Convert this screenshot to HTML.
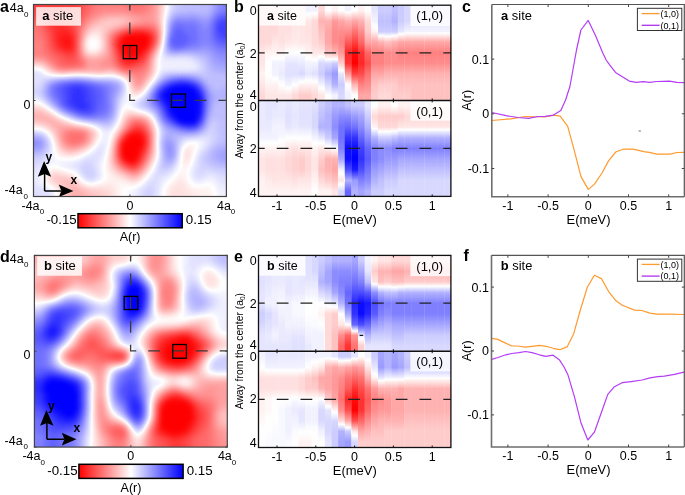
<!DOCTYPE html><html><head><meta charset="utf-8"><style>html,body{margin:0;padding:0;background:#fff;width:685px;height:495px;overflow:hidden}svg{display:block;will-change:transform;font-family:"Liberation Sans",sans-serif}</style></head><body>
<svg width="685" height="495" viewBox="0 0 685 495" >
<defs>
<filter id="cm0" color-interpolation-filters="sRGB" x="-0.2" y="-0.2" width="1.4" height="1.4"><feComponentTransfer><feFuncR type="table" tableValues="1 1 0"/><feFuncG type="table" tableValues="0 1 0"/><feFuncB type="table" tableValues="0 1 1"/></feComponentTransfer></filter>
<filter id="cmA" color-interpolation-filters="sRGB" x="-0.2" y="-0.2" width="1.4" height="1.4"><feGaussianBlur stdDeviation="2.5"/><feComponentTransfer><feFuncR type="table" tableValues="1 1 0"/><feFuncG type="table" tableValues="0 1 0"/><feFuncB type="table" tableValues="0 1 1"/></feComponentTransfer></filter>
<filter id="cmD" color-interpolation-filters="sRGB" x="-0.2" y="-0.2" width="1.4" height="1.4"><feGaussianBlur stdDeviation="2.5"/><feComponentTransfer><feFuncR type="table" tableValues="1 1 0"/><feFuncG type="table" tableValues="0 1 0"/><feFuncB type="table" tableValues="0 1 1"/></feComponentTransfer></filter>
<linearGradient id="cbar"><stop offset="0" stop-color="#000"/><stop offset="1" stop-color="#fff"/></linearGradient>
</defs>
<rect width="685" height="495" fill="#fff"/>
<clipPath id="clipA"><rect x="33.5" y="4.5" width="192.9" height="192.0"/></clipPath>
<g clip-path="url(#clipA)"><g filter="url(#cmA)">
<g transform="translate(23.855,-5.100) scale(4.8225,4.8000)">
<rect x="0" y="0" width="44" height="44" fill="#7d7d7d"/>
<path fill="#000000" d="M21 8h1.05v1.05h-1.05zM22 8h1.05v1.05h-1.05zM23 8h1.05v1.05h-1.05zM24 8h1.05v1.05h-1.05zM25 8h1.05v1.05h-1.05zM20 9h1.05v1.05h-1.05zM21 9h1.05v1.05h-1.05zM22 9h1.05v1.05h-1.05zM23 9h1.05v1.05h-1.05zM24 9h1.05v1.05h-1.05zM25 9h1.05v1.05h-1.05zM20 10h1.05v1.05h-1.05zM21 10h1.05v1.05h-1.05zM22 10h1.05v1.05h-1.05zM23 10h1.05v1.05h-1.05zM24 10h1.05v1.05h-1.05zM25 10h1.05v1.05h-1.05zM20 11h1.05v1.05h-1.05zM21 11h1.05v1.05h-1.05zM22 11h1.05v1.05h-1.05zM23 11h1.05v1.05h-1.05zM24 11h1.05v1.05h-1.05zM21 12h1.05v1.05h-1.05zM22 12h1.05v1.05h-1.05zM23 12h1.05v1.05h-1.05zM22 29h1.05v1.05h-1.05zM23 29h1.05v1.05h-1.05zM21 30h1.05v1.05h-1.05zM22 30h1.05v1.05h-1.05zM23 30h1.05v1.05h-1.05zM24 30h1.05v1.05h-1.05zM20 31h1.05v1.05h-1.05zM21 31h1.05v1.05h-1.05zM22 31h1.05v1.05h-1.05zM23 31h1.05v1.05h-1.05zM24 31h1.05v1.05h-1.05zM20 32h1.05v1.05h-1.05zM21 32h1.05v1.05h-1.05zM22 32h1.05v1.05h-1.05zM23 32h1.05v1.05h-1.05zM20 33h1.05v1.05h-1.05zM21 33h1.05v1.05h-1.05zM22 33h1.05v1.05h-1.05zM23 33h1.05v1.05h-1.05zM21 34h1.05v1.05h-1.05zM22 34h1.05v1.05h-1.05z"/>
<path fill="#020202" d="M24 29h1.05v1.05h-1.05z"/>
<path fill="#040404" d="M20 12h1.05v1.05h-1.05z"/>
<path fill="#060606" d="M21 29h1.05v1.05h-1.05zM20 30h1.05v1.05h-1.05zM24 32h1.05v1.05h-1.05z"/>
<path fill="#080808" d="M8 8h1.05v1.05h-1.05zM8 9h1.05v1.05h-1.05zM9 9h1.05v1.05h-1.05zM8 10h1.05v1.05h-1.05zM9 10h1.05v1.05h-1.05zM24 12h1.05v1.05h-1.05zM21 13h1.05v1.05h-1.05zM22 13h1.05v1.05h-1.05zM23 34h1.05v1.05h-1.05z"/>
<path fill="#0a0a0a" d="M9 8h1.05v1.05h-1.05zM7 9h1.05v1.05h-1.05zM23 28h1.05v1.05h-1.05z"/>
<path fill="#0c0c0c" d="M8 7h1.05v1.05h-1.05zM7 8h1.05v1.05h-1.05zM20 8h1.05v1.05h-1.05zM25 11h1.05v1.05h-1.05z"/>
<path fill="#0e0e0e" d="M7 7h1.05v1.05h-1.05zM7 10h1.05v1.05h-1.05zM19 10h1.05v1.05h-1.05zM9 11h1.05v1.05h-1.05zM23 13h1.05v1.05h-1.05z"/>
<path fill="#101010" d="M26 9h1.05v1.05h-1.05zM8 11h1.05v1.05h-1.05zM20 13h1.05v1.05h-1.05zM24 28h1.05v1.05h-1.05z"/>
<path fill="#121212" d="M7 6h1.05v1.05h-1.05zM9 7h1.05v1.05h-1.05zM23 7h1.05v1.05h-1.05zM24 7h1.05v1.05h-1.05zM26 8h1.05v1.05h-1.05zM19 9h1.05v1.05h-1.05zM22 28h1.05v1.05h-1.05zM20 34h1.05v1.05h-1.05z"/>
<path fill="#141414" d="M6 6h1.05v1.05h-1.05zM8 6h1.05v1.05h-1.05zM19 11h1.05v1.05h-1.05zM24 33h1.05v1.05h-1.05zM22 35h1.05v1.05h-1.05z"/>
<path fill="#161616" d="M6 7h1.05v1.05h-1.05zM6 8h1.05v1.05h-1.05zM25 30h1.05v1.05h-1.05z"/>
<path fill="#181818" d="M6 5h1.05v1.05h-1.05zM7 5h1.05v1.05h-1.05zM22 7h1.05v1.05h-1.05zM25 7h1.05v1.05h-1.05zM6 9h1.05v1.05h-1.05zM10 9h1.05v1.05h-1.05zM10 10h1.05v1.05h-1.05zM7 11h1.05v1.05h-1.05zM24 13h1.05v1.05h-1.05zM21 14h1.05v1.05h-1.05z"/>
<path fill="#1a1a1a" d="M6 4h1.05v1.05h-1.05zM5 5h1.05v1.05h-1.05zM8 5h1.05v1.05h-1.05zM9 6h1.05v1.05h-1.05zM10 8h1.05v1.05h-1.05zM26 10h1.05v1.05h-1.05zM9 12h1.05v1.05h-1.05zM25 29h1.05v1.05h-1.05zM25 31h1.05v1.05h-1.05z"/>
<path fill="#1c1c1c" d="M5 4h1.05v1.05h-1.05zM7 4h1.05v1.05h-1.05zM5 6h1.05v1.05h-1.05zM6 10h1.05v1.05h-1.05zM10 11h1.05v1.05h-1.05zM19 12h1.05v1.05h-1.05zM25 12h1.05v1.05h-1.05zM20 14h1.05v1.05h-1.05zM22 14h1.05v1.05h-1.05zM23 27h1.05v1.05h-1.05zM21 35h1.05v1.05h-1.05z"/>
<path fill="#1e1e1e" d="M9 0h1.05v1.05h-1.05zM0 1h1.05v1.05h-1.05zM1 1h1.05v1.05h-1.05zM2 1h1.05v1.05h-1.05zM9 1h1.05v1.05h-1.05zM10 1h1.05v1.05h-1.05zM0 2h1.05v1.05h-1.05zM1 2h1.05v1.05h-1.05zM2 2h1.05v1.05h-1.05zM3 2h1.05v1.05h-1.05zM9 2h1.05v1.05h-1.05zM10 2h1.05v1.05h-1.05zM9 3h1.05v1.05h-1.05zM8 4h1.05v1.05h-1.05zM9 5h1.05v1.05h-1.05zM10 7h1.05v1.05h-1.05zM8 12h1.05v1.05h-1.05zM23 35h1.05v1.05h-1.05z"/>
<path fill="#202020" d="M0 0h1.05v1.05h-1.05zM1 0h1.05v1.05h-1.05zM2 0h1.05v1.05h-1.05zM3 0h1.05v1.05h-1.05zM4 0h1.05v1.05h-1.05zM5 0h1.05v1.05h-1.05zM6 0h1.05v1.05h-1.05zM7 0h1.05v1.05h-1.05zM8 0h1.05v1.05h-1.05zM10 0h1.05v1.05h-1.05zM3 1h1.05v1.05h-1.05zM4 1h1.05v1.05h-1.05zM5 1h1.05v1.05h-1.05zM6 1h1.05v1.05h-1.05zM7 1h1.05v1.05h-1.05zM8 1h1.05v1.05h-1.05zM4 2h1.05v1.05h-1.05zM5 2h1.05v1.05h-1.05zM6 2h1.05v1.05h-1.05zM7 2h1.05v1.05h-1.05zM8 2h1.05v1.05h-1.05zM0 3h1.05v1.05h-1.05zM3 3h1.05v1.05h-1.05zM4 3h1.05v1.05h-1.05zM5 3h1.05v1.05h-1.05zM6 3h1.05v1.05h-1.05zM7 3h1.05v1.05h-1.05zM8 3h1.05v1.05h-1.05zM10 3h1.05v1.05h-1.05zM9 4h1.05v1.05h-1.05zM5 7h1.05v1.05h-1.05zM19 8h1.05v1.05h-1.05zM24 27h1.05v1.05h-1.05z"/>
<path fill="#222222" d="M11 1h1.05v1.05h-1.05zM11 2h1.05v1.05h-1.05zM1 3h1.05v1.05h-1.05zM2 3h1.05v1.05h-1.05zM4 4h1.05v1.05h-1.05zM21 7h1.05v1.05h-1.05zM6 11h1.05v1.05h-1.05zM10 12h1.05v1.05h-1.05zM19 32h1.05v1.05h-1.05zM24 34h1.05v1.05h-1.05z"/>
<path fill="#242424" d="M11 0h1.05v1.05h-1.05zM11 3h1.05v1.05h-1.05zM10 4h1.05v1.05h-1.05zM4 5h1.05v1.05h-1.05zM10 6h1.05v1.05h-1.05zM26 7h1.05v1.05h-1.05zM5 8h1.05v1.05h-1.05zM7 12h1.05v1.05h-1.05zM19 13h1.05v1.05h-1.05zM23 14h1.05v1.05h-1.05zM21 28h1.05v1.05h-1.05zM20 29h1.05v1.05h-1.05zM25 32h1.05v1.05h-1.05z"/>
<path fill="#262626" d="M3 4h1.05v1.05h-1.05zM10 5h1.05v1.05h-1.05zM4 6h1.05v1.05h-1.05zM22 27h1.05v1.05h-1.05zM25 28h1.05v1.05h-1.05zM19 33h1.05v1.05h-1.05z"/>
<path fill="#282828" d="M12 1h1.05v1.05h-1.05zM12 2h1.05v1.05h-1.05zM0 4h1.05v1.05h-1.05zM1 4h1.05v1.05h-1.05zM2 4h1.05v1.05h-1.05zM5 9h1.05v1.05h-1.05zM8 13h1.05v1.05h-1.05zM9 13h1.05v1.05h-1.05zM10 13h1.05v1.05h-1.05zM19 31h1.05v1.05h-1.05z"/>
<path fill="#2a2a2a" d="M12 0h1.05v1.05h-1.05zM11 4h1.05v1.05h-1.05zM4 7h1.05v1.05h-1.05zM5 10h1.05v1.05h-1.05zM24 14h1.05v1.05h-1.05z"/>
<path fill="#2c2c2c" d="M12 3h1.05v1.05h-1.05zM3 5h1.05v1.05h-1.05zM26 11h1.05v1.05h-1.05zM6 12h1.05v1.05h-1.05zM25 13h1.05v1.05h-1.05zM9 14h1.05v1.05h-1.05z"/>
<path fill="#2e2e2e" d="M0 5h1.05v1.05h-1.05zM20 7h1.05v1.05h-1.05zM18 9h1.05v1.05h-1.05zM18 10h1.05v1.05h-1.05zM5 11h1.05v1.05h-1.05zM7 13h1.05v1.05h-1.05zM8 14h1.05v1.05h-1.05zM19 14h1.05v1.05h-1.05zM21 15h1.05v1.05h-1.05zM20 35h1.05v1.05h-1.05z"/>
<path fill="#303030" d="M13 1h1.05v1.05h-1.05zM13 2h1.05v1.05h-1.05zM1 5h1.05v1.05h-1.05zM2 5h1.05v1.05h-1.05zM11 5h1.05v1.05h-1.05zM4 8h1.05v1.05h-1.05zM27 8h1.05v1.05h-1.05zM10 14h1.05v1.05h-1.05z"/>
<path fill="#323232" d="M13 0h1.05v1.05h-1.05zM12 4h1.05v1.05h-1.05zM0 6h1.05v1.05h-1.05zM3 6h1.05v1.05h-1.05zM11 6h1.05v1.05h-1.05zM27 9h1.05v1.05h-1.05zM11 13h1.05v1.05h-1.05zM7 14h1.05v1.05h-1.05zM20 15h1.05v1.05h-1.05zM22 15h1.05v1.05h-1.05zM23 26h1.05v1.05h-1.05zM25 33h1.05v1.05h-1.05zM22 36h1.05v1.05h-1.05z"/>
<path fill="#343434" d="M13 3h1.05v1.05h-1.05zM1 6h1.05v1.05h-1.05zM3 7h1.05v1.05h-1.05zM11 7h1.05v1.05h-1.05zM4 9h1.05v1.05h-1.05zM18 11h1.05v1.05h-1.05zM5 12h1.05v1.05h-1.05zM6 13h1.05v1.05h-1.05zM11 14h1.05v1.05h-1.05zM25 27h1.05v1.05h-1.05zM19 34h1.05v1.05h-1.05z"/>
<path fill="#363636" d="M2 6h1.05v1.05h-1.05zM0 7h1.05v1.05h-1.05zM1 7h1.05v1.05h-1.05zM11 8h1.05v1.05h-1.05zM18 8h1.05v1.05h-1.05zM4 10h1.05v1.05h-1.05zM11 12h1.05v1.05h-1.05zM23 15h1.05v1.05h-1.05zM24 26h1.05v1.05h-1.05zM19 30h1.05v1.05h-1.05zM24 35h1.05v1.05h-1.05zM23 36h1.05v1.05h-1.05z"/>
<path fill="#383838" d="M23 0h1.05v1.05h-1.05zM14 1h1.05v1.05h-1.05zM22 1h1.05v1.05h-1.05zM23 1h1.05v1.05h-1.05zM24 1h1.05v1.05h-1.05zM14 2h1.05v1.05h-1.05zM21 2h1.05v1.05h-1.05zM22 2h1.05v1.05h-1.05zM23 2h1.05v1.05h-1.05zM24 2h1.05v1.05h-1.05zM24 6h1.05v1.05h-1.05zM25 6h1.05v1.05h-1.05zM2 7h1.05v1.05h-1.05zM27 7h1.05v1.05h-1.05zM0 8h1.05v1.05h-1.05zM3 8h1.05v1.05h-1.05zM4 11h1.05v1.05h-1.05zM18 12h1.05v1.05h-1.05zM25 14h1.05v1.05h-1.05zM24 15h1.05v1.05h-1.05zM9 29h1.05v1.05h-1.05zM10 29h1.05v1.05h-1.05zM11 29h1.05v1.05h-1.05zM12 29h1.05v1.05h-1.05zM9 30h1.05v1.05h-1.05zM10 30h1.05v1.05h-1.05zM11 30h1.05v1.05h-1.05z"/>
<path fill="#3a3a3a" d="M14 0h1.05v1.05h-1.05zM22 0h1.05v1.05h-1.05zM24 0h1.05v1.05h-1.05zM21 1h1.05v1.05h-1.05zM23 3h1.05v1.05h-1.05zM23 6h1.05v1.05h-1.05zM26 6h1.05v1.05h-1.05zM1 8h1.05v1.05h-1.05zM2 8h1.05v1.05h-1.05zM11 9h1.05v1.05h-1.05zM11 11h1.05v1.05h-1.05zM4 12h1.05v1.05h-1.05zM22 26h1.05v1.05h-1.05zM10 28h1.05v1.05h-1.05zM21 36h1.05v1.05h-1.05z"/>
<path fill="#3c3c3c" d="M25 1h1.05v1.05h-1.05zM15 2h1.05v1.05h-1.05zM25 2h1.05v1.05h-1.05zM14 3h1.05v1.05h-1.05zM24 3h1.05v1.05h-1.05zM13 4h1.05v1.05h-1.05zM12 5h1.05v1.05h-1.05zM19 7h1.05v1.05h-1.05zM0 9h1.05v1.05h-1.05zM3 9h1.05v1.05h-1.05zM11 10h1.05v1.05h-1.05zM5 13h1.05v1.05h-1.05zM18 13h1.05v1.05h-1.05zM6 14h1.05v1.05h-1.05zM12 14h1.05v1.05h-1.05zM21 27h1.05v1.05h-1.05zM9 28h1.05v1.05h-1.05zM11 28h1.05v1.05h-1.05z"/>
<path fill="#3e3e3e" d="M21 0h1.05v1.05h-1.05zM25 0h1.05v1.05h-1.05zM15 1h1.05v1.05h-1.05zM22 3h1.05v1.05h-1.05zM1 9h1.05v1.05h-1.05zM2 9h1.05v1.05h-1.05zM3 10h1.05v1.05h-1.05zM0 11h1.05v1.05h-1.05zM3 11h1.05v1.05h-1.05zM3 12h1.05v1.05h-1.05zM23 16h1.05v1.05h-1.05zM8 29h1.05v1.05h-1.05z"/>
<path fill="#404040" d="M15 0h1.05v1.05h-1.05zM17 0h1.05v1.05h-1.05zM18 0h1.05v1.05h-1.05zM20 0h1.05v1.05h-1.05zM16 1h1.05v1.05h-1.05zM17 1h1.05v1.05h-1.05zM18 1h1.05v1.05h-1.05zM19 1h1.05v1.05h-1.05zM20 1h1.05v1.05h-1.05zM16 2h1.05v1.05h-1.05zM17 2h1.05v1.05h-1.05zM18 2h1.05v1.05h-1.05zM19 2h1.05v1.05h-1.05zM20 2h1.05v1.05h-1.05zM15 3h1.05v1.05h-1.05zM25 3h1.05v1.05h-1.05zM22 6h1.05v1.05h-1.05zM0 10h1.05v1.05h-1.05zM1 10h1.05v1.05h-1.05zM2 10h1.05v1.05h-1.05zM27 10h1.05v1.05h-1.05zM1 11h1.05v1.05h-1.05zM2 11h1.05v1.05h-1.05zM0 12h1.05v1.05h-1.05zM1 12h1.05v1.05h-1.05zM2 12h1.05v1.05h-1.05zM26 12h1.05v1.05h-1.05zM18 14h1.05v1.05h-1.05zM8 15h1.05v1.05h-1.05zM24 16h1.05v1.05h-1.05zM12 28h1.05v1.05h-1.05zM12 30h1.05v1.05h-1.05z"/>
<path fill="#424242" d="M16 0h1.05v1.05h-1.05zM19 0h1.05v1.05h-1.05zM21 3h1.05v1.05h-1.05zM12 13h1.05v1.05h-1.05zM7 15h1.05v1.05h-1.05zM9 15h1.05v1.05h-1.05zM19 15h1.05v1.05h-1.05zM25 15h1.05v1.05h-1.05zM22 16h1.05v1.05h-1.05zM23 17h1.05v1.05h-1.05zM20 28h1.05v1.05h-1.05zM8 30h1.05v1.05h-1.05zM25 34h1.05v1.05h-1.05z"/>
<path fill="#444444" d="M26 1h1.05v1.05h-1.05zM26 2h1.05v1.05h-1.05zM16 3h1.05v1.05h-1.05zM17 3h1.05v1.05h-1.05zM18 3h1.05v1.05h-1.05zM19 3h1.05v1.05h-1.05zM20 3h1.05v1.05h-1.05zM12 6h1.05v1.05h-1.05zM4 13h1.05v1.05h-1.05zM24 17h1.05v1.05h-1.05zM8 28h1.05v1.05h-1.05zM26 29h1.05v1.05h-1.05zM26 30h1.05v1.05h-1.05zM10 31h1.05v1.05h-1.05z"/>
<path fill="#464646" d="M26 0h1.05v1.05h-1.05zM14 4h1.05v1.05h-1.05zM27 6h1.05v1.05h-1.05zM16 14h1.05v1.05h-1.05zM10 15h1.05v1.05h-1.05zM25 26h1.05v1.05h-1.05zM9 31h1.05v1.05h-1.05zM26 31h1.05v1.05h-1.05zM19 35h1.05v1.05h-1.05z"/>
<path fill="#484848" d="M26 3h1.05v1.05h-1.05zM13 5h1.05v1.05h-1.05zM17 13h1.05v1.05h-1.05zM17 14h1.05v1.05h-1.05zM11 15h1.05v1.05h-1.05zM23 18h1.05v1.05h-1.05z"/>
<path fill="#4a4a4a" d="M24 4h1.05v1.05h-1.05zM25 4h1.05v1.05h-1.05zM25 5h1.05v1.05h-1.05zM26 5h1.05v1.05h-1.05zM21 6h1.05v1.05h-1.05zM18 7h1.05v1.05h-1.05zM5 14h1.05v1.05h-1.05zM12 15h1.05v1.05h-1.05zM21 16h1.05v1.05h-1.05zM25 16h1.05v1.05h-1.05zM26 28h1.05v1.05h-1.05zM11 31h1.05v1.05h-1.05zM20 36h1.05v1.05h-1.05zM24 36h1.05v1.05h-1.05z"/>
<path fill="#4c4c4c" d="M15 4h1.05v1.05h-1.05zM23 4h1.05v1.05h-1.05zM26 4h1.05v1.05h-1.05zM24 5h1.05v1.05h-1.05zM12 7h1.05v1.05h-1.05zM17 9h1.05v1.05h-1.05zM17 12h1.05v1.05h-1.05zM0 13h1.05v1.05h-1.05zM3 13h1.05v1.05h-1.05zM16 13h1.05v1.05h-1.05zM21 26h1.05v1.05h-1.05zM19 29h1.05v1.05h-1.05zM26 32h1.05v1.05h-1.05z"/>
<path fill="#4e4e4e" d="M17 8h1.05v1.05h-1.05zM17 10h1.05v1.05h-1.05zM17 11h1.05v1.05h-1.05zM1 13h1.05v1.05h-1.05zM2 13h1.05v1.05h-1.05zM26 13h1.05v1.05h-1.05zM6 15h1.05v1.05h-1.05zM16 15h1.05v1.05h-1.05zM24 18h1.05v1.05h-1.05zM8 31h1.05v1.05h-1.05zM22 37h1.05v1.05h-1.05z"/>
<path fill="#505050" d="M22 4h1.05v1.05h-1.05zM23 5h1.05v1.05h-1.05zM13 13h1.05v1.05h-1.05zM14 13h1.05v1.05h-1.05zM15 13h1.05v1.05h-1.05zM13 14h1.05v1.05h-1.05zM14 14h1.05v1.05h-1.05zM15 14h1.05v1.05h-1.05zM13 15h1.05v1.05h-1.05zM14 15h1.05v1.05h-1.05zM15 15h1.05v1.05h-1.05zM18 15h1.05v1.05h-1.05zM22 17h1.05v1.05h-1.05zM23 25h1.05v1.05h-1.05zM8 27h1.05v1.05h-1.05zM7 28h1.05v1.05h-1.05zM13 28h1.05v1.05h-1.05zM7 29h1.05v1.05h-1.05zM13 29h1.05v1.05h-1.05zM13 30h1.05v1.05h-1.05zM23 37h1.05v1.05h-1.05z"/>
<path fill="#525252" d="M27 0h1.05v1.05h-1.05zM27 1h1.05v1.05h-1.05zM27 2h1.05v1.05h-1.05zM27 3h1.05v1.05h-1.05zM16 4h1.05v1.05h-1.05zM14 5h1.05v1.05h-1.05zM27 5h1.05v1.05h-1.05zM20 6h1.05v1.05h-1.05zM12 12h1.05v1.05h-1.05zM22 25h1.05v1.05h-1.05zM7 27h1.05v1.05h-1.05zM9 27h1.05v1.05h-1.05z"/>
<path fill="#545454" d="M21 4h1.05v1.05h-1.05zM27 4h1.05v1.05h-1.05zM13 6h1.05v1.05h-1.05zM27 11h1.05v1.05h-1.05zM26 14h1.05v1.05h-1.05zM17 15h1.05v1.05h-1.05zM24 25h1.05v1.05h-1.05zM26 27h1.05v1.05h-1.05zM12 31h1.05v1.05h-1.05zM25 35h1.05v1.05h-1.05z"/>
<path fill="#565656" d="M17 4h1.05v1.05h-1.05zM22 5h1.05v1.05h-1.05zM20 16h1.05v1.05h-1.05zM25 17h1.05v1.05h-1.05zM23 19h1.05v1.05h-1.05zM6 26h1.05v1.05h-1.05zM6 27h1.05v1.05h-1.05zM10 27h1.05v1.05h-1.05zM7 30h1.05v1.05h-1.05zM18 33h1.05v1.05h-1.05zM26 33h1.05v1.05h-1.05z"/>
<path fill="#585858" d="M18 4h1.05v1.05h-1.05zM19 4h1.05v1.05h-1.05zM20 4h1.05v1.05h-1.05zM12 8h1.05v1.05h-1.05zM16 12h1.05v1.05h-1.05zM26 15h1.05v1.05h-1.05zM0 25h1.05v1.05h-1.05zM1 25h1.05v1.05h-1.05zM2 25h1.05v1.05h-1.05zM3 25h1.05v1.05h-1.05zM4 25h1.05v1.05h-1.05zM5 26h1.05v1.05h-1.05zM20 27h1.05v1.05h-1.05zM18 32h1.05v1.05h-1.05zM18 34h1.05v1.05h-1.05zM21 37h1.05v1.05h-1.05zM10 40h1.05v1.05h-1.05zM10 41h1.05v1.05h-1.05zM11 41h1.05v1.05h-1.05zM12 41h1.05v1.05h-1.05zM10 42h1.05v1.05h-1.05zM11 42h1.05v1.05h-1.05zM10 43h1.05v1.05h-1.05zM11 43h1.05v1.05h-1.05z"/>
<path fill="#5a5a5a" d="M15 5h1.05v1.05h-1.05zM19 6h1.05v1.05h-1.05zM17 7h1.05v1.05h-1.05zM4 14h1.05v1.05h-1.05zM22 18h1.05v1.05h-1.05zM2 24h1.05v1.05h-1.05zM5 25h1.05v1.05h-1.05zM4 26h1.05v1.05h-1.05zM11 27h1.05v1.05h-1.05zM9 32h1.05v1.05h-1.05zM11 40h1.05v1.05h-1.05zM12 42h1.05v1.05h-1.05z"/>
<path fill="#5c5c5c" d="M21 5h1.05v1.05h-1.05zM0 24h1.05v1.05h-1.05zM1 24h1.05v1.05h-1.05zM3 24h1.05v1.05h-1.05zM21 25h1.05v1.05h-1.05zM7 26h1.05v1.05h-1.05zM10 32h1.05v1.05h-1.05zM19 36h1.05v1.05h-1.05zM9 39h1.05v1.05h-1.05zM9 40h1.05v1.05h-1.05zM9 41h1.05v1.05h-1.05zM9 42h1.05v1.05h-1.05zM9 43h1.05v1.05h-1.05zM12 43h1.05v1.05h-1.05z"/>
<path fill="#5e5e5e" d="M28 7h1.05v1.05h-1.05zM28 8h1.05v1.05h-1.05zM5 15h1.05v1.05h-1.05zM3 26h1.05v1.05h-1.05zM6 28h1.05v1.05h-1.05zM7 31h1.05v1.05h-1.05zM18 31h1.05v1.05h-1.05zM8 38h1.05v1.05h-1.05zM8 39h1.05v1.05h-1.05zM10 39h1.05v1.05h-1.05z"/>
<path fill="#606060" d="M14 6h1.05v1.05h-1.05zM18 6h1.05v1.05h-1.05zM12 11h1.05v1.05h-1.05zM15 12h1.05v1.05h-1.05zM26 16h1.05v1.05h-1.05zM24 19h1.05v1.05h-1.05zM0 26h1.05v1.05h-1.05zM1 26h1.05v1.05h-1.05zM5 27h1.05v1.05h-1.05zM14 29h1.05v1.05h-1.05zM8 32h1.05v1.05h-1.05zM18 35h1.05v1.05h-1.05zM7 38h1.05v1.05h-1.05zM9 38h1.05v1.05h-1.05zM12 40h1.05v1.05h-1.05zM13 41h1.05v1.05h-1.05zM14 41h1.05v1.05h-1.05zM13 42h1.05v1.05h-1.05z"/>
<path fill="#626262" d="M16 5h1.05v1.05h-1.05zM20 5h1.05v1.05h-1.05zM13 7h1.05v1.05h-1.05zM12 9h1.05v1.05h-1.05zM16 11h1.05v1.05h-1.05zM4 24h1.05v1.05h-1.05zM25 25h1.05v1.05h-1.05zM2 26h1.05v1.05h-1.05zM12 27h1.05v1.05h-1.05zM14 28h1.05v1.05h-1.05zM26 34h1.05v1.05h-1.05zM24 37h1.05v1.05h-1.05zM6 38h1.05v1.05h-1.05zM14 42h1.05v1.05h-1.05zM13 43h1.05v1.05h-1.05z"/>
<path fill="#646464" d="M28 1h1.05v1.05h-1.05zM28 2h1.05v1.05h-1.05zM17 6h1.05v1.05h-1.05zM28 6h1.05v1.05h-1.05zM16 8h1.05v1.05h-1.05zM28 9h1.05v1.05h-1.05zM13 12h1.05v1.05h-1.05zM22 19h1.05v1.05h-1.05zM6 25h1.05v1.05h-1.05zM8 26h1.05v1.05h-1.05zM26 26h1.05v1.05h-1.05zM19 28h1.05v1.05h-1.05zM11 32h1.05v1.05h-1.05zM20 37h1.05v1.05h-1.05zM7 39h1.05v1.05h-1.05zM8 40h1.05v1.05h-1.05zM13 40h1.05v1.05h-1.05zM15 41h1.05v1.05h-1.05zM15 42h1.05v1.05h-1.05zM8 43h1.05v1.05h-1.05zM14 43h1.05v1.05h-1.05z"/>
<path fill="#666666" d="M28 0h1.05v1.05h-1.05zM28 3h1.05v1.05h-1.05zM17 5h1.05v1.05h-1.05zM18 5h1.05v1.05h-1.05zM19 5h1.05v1.05h-1.05zM15 6h1.05v1.05h-1.05zM16 6h1.05v1.05h-1.05zM16 7h1.05v1.05h-1.05zM14 12h1.05v1.05h-1.05zM3 14h1.05v1.05h-1.05zM19 16h1.05v1.05h-1.05zM25 18h1.05v1.05h-1.05zM20 26h1.05v1.05h-1.05zM13 31h1.05v1.05h-1.05zM25 36h1.05v1.05h-1.05zM6 37h1.05v1.05h-1.05zM22 38h1.05v1.05h-1.05zM8 41h1.05v1.05h-1.05zM8 42h1.05v1.05h-1.05z"/>
<path fill="#686868" d="M28 4h1.05v1.05h-1.05zM28 5h1.05v1.05h-1.05zM16 9h1.05v1.05h-1.05zM12 10h1.05v1.05h-1.05zM16 10h1.05v1.05h-1.05zM27 12h1.05v1.05h-1.05zM0 14h1.05v1.05h-1.05zM21 17h1.05v1.05h-1.05zM2 23h1.05v1.05h-1.05zM6 29h1.05v1.05h-1.05zM18 30h1.05v1.05h-1.05zM7 37h1.05v1.05h-1.05zM10 38h1.05v1.05h-1.05zM23 38h1.05v1.05h-1.05zM11 39h1.05v1.05h-1.05zM14 40h1.05v1.05h-1.05zM16 41h1.05v1.05h-1.05zM16 42h1.05v1.05h-1.05zM15 43h1.05v1.05h-1.05z"/>
<path fill="#6a6a6a" d="M1 14h1.05v1.05h-1.05zM2 14h1.05v1.05h-1.05zM15 16h1.05v1.05h-1.05zM23 20h1.05v1.05h-1.05zM1 23h1.05v1.05h-1.05zM4 27h1.05v1.05h-1.05zM14 30h1.05v1.05h-1.05zM18 36h1.05v1.05h-1.05zM15 40h1.05v1.05h-1.05zM17 41h1.05v1.05h-1.05zM16 43h1.05v1.05h-1.05z"/>
<path fill="#6c6c6c" d="M14 7h1.05v1.05h-1.05zM15 7h1.05v1.05h-1.05zM7 16h1.05v1.05h-1.05zM8 16h1.05v1.05h-1.05zM14 16h1.05v1.05h-1.05zM0 23h1.05v1.05h-1.05zM3 23h1.05v1.05h-1.05zM13 27h1.05v1.05h-1.05zM7 32h1.05v1.05h-1.05zM5 37h1.05v1.05h-1.05zM8 37h1.05v1.05h-1.05zM19 37h1.05v1.05h-1.05zM5 38h1.05v1.05h-1.05zM21 38h1.05v1.05h-1.05zM16 40h1.05v1.05h-1.05zM17 42h1.05v1.05h-1.05zM17 43h1.05v1.05h-1.05z"/>
<path fill="#6e6e6e" d="M16 16h1.05v1.05h-1.05zM26 17h1.05v1.05h-1.05zM5 24h1.05v1.05h-1.05zM21 24h1.05v1.05h-1.05zM22 24h1.05v1.05h-1.05zM12 32h1.05v1.05h-1.05zM6 39h1.05v1.05h-1.05zM17 40h1.05v1.05h-1.05z"/>
<path fill="#707070" d="M13 8h1.05v1.05h-1.05zM28 10h1.05v1.05h-1.05zM4 15h1.05v1.05h-1.05zM9 16h1.05v1.05h-1.05zM13 16h1.05v1.05h-1.05zM18 16h1.05v1.05h-1.05zM22 20h1.05v1.05h-1.05zM20 25h1.05v1.05h-1.05zM9 26h1.05v1.05h-1.05zM5 28h1.05v1.05h-1.05zM6 30h1.05v1.05h-1.05zM33 32h1.05v1.05h-1.05zM33 33h1.05v1.05h-1.05zM33 34h1.05v1.05h-1.05zM9 37h1.05v1.05h-1.05zM7 40h1.05v1.05h-1.05zM31 40h1.05v1.05h-1.05zM32 40h1.05v1.05h-1.05zM18 41h1.05v1.05h-1.05zM30 41h1.05v1.05h-1.05zM31 41h1.05v1.05h-1.05zM32 41h1.05v1.05h-1.05zM33 41h1.05v1.05h-1.05zM18 42h1.05v1.05h-1.05zM30 42h1.05v1.05h-1.05zM31 42h1.05v1.05h-1.05zM32 42h1.05v1.05h-1.05zM33 42h1.05v1.05h-1.05zM31 43h1.05v1.05h-1.05zM32 43h1.05v1.05h-1.05zM33 43h1.05v1.05h-1.05z"/>
<path fill="#727272" d="M6 16h1.05v1.05h-1.05zM12 16h1.05v1.05h-1.05zM17 16h1.05v1.05h-1.05zM3 27h1.05v1.05h-1.05zM34 32h1.05v1.05h-1.05zM9 33h1.05v1.05h-1.05zM34 33h1.05v1.05h-1.05zM26 35h1.05v1.05h-1.05zM31 39h1.05v1.05h-1.05zM32 39h1.05v1.05h-1.05zM18 40h1.05v1.05h-1.05zM30 40h1.05v1.05h-1.05zM33 40h1.05v1.05h-1.05zM34 41h1.05v1.05h-1.05zM7 43h1.05v1.05h-1.05zM18 43h1.05v1.05h-1.05zM30 43h1.05v1.05h-1.05z"/>
<path fill="#747474" d="M15 8h1.05v1.05h-1.05zM15 11h1.05v1.05h-1.05zM27 13h1.05v1.05h-1.05zM10 16h1.05v1.05h-1.05zM11 16h1.05v1.05h-1.05zM23 24h1.05v1.05h-1.05zM7 25h1.05v1.05h-1.05zM0 27h1.05v1.05h-1.05zM27 28h1.05v1.05h-1.05zM18 29h1.05v1.05h-1.05zM27 29h1.05v1.05h-1.05zM27 32h1.05v1.05h-1.05zM8 33h1.05v1.05h-1.05zM10 33h1.05v1.05h-1.05zM17 34h1.05v1.05h-1.05zM17 35h1.05v1.05h-1.05zM18 37h1.05v1.05h-1.05zM20 38h1.05v1.05h-1.05zM32 38h1.05v1.05h-1.05zM12 39h1.05v1.05h-1.05zM17 39h1.05v1.05h-1.05zM33 39h1.05v1.05h-1.05zM7 41h1.05v1.05h-1.05zM35 41h1.05v1.05h-1.05zM7 42h1.05v1.05h-1.05zM34 42h1.05v1.05h-1.05zM34 43h1.05v1.05h-1.05z"/>
<path fill="#767676" d="M27 14h1.05v1.05h-1.05zM27 15h1.05v1.05h-1.05zM1 27h1.05v1.05h-1.05zM2 27h1.05v1.05h-1.05zM19 27h1.05v1.05h-1.05zM27 30h1.05v1.05h-1.05zM27 31h1.05v1.05h-1.05zM34 31h1.05v1.05h-1.05zM17 33h1.05v1.05h-1.05zM33 35h1.05v1.05h-1.05zM6 36h1.05v1.05h-1.05zM17 36h1.05v1.05h-1.05zM24 38h1.05v1.05h-1.05zM16 39h1.05v1.05h-1.05zM18 39h1.05v1.05h-1.05zM34 40h1.05v1.05h-1.05zM35 42h1.05v1.05h-1.05z"/>
<path fill="#787878" d="M24 20h1.05v1.05h-1.05zM4 23h1.05v1.05h-1.05zM15 28h1.05v1.05h-1.05zM15 29h1.05v1.05h-1.05zM6 31h1.05v1.05h-1.05zM7 33h1.05v1.05h-1.05zM27 33h1.05v1.05h-1.05zM34 34h1.05v1.05h-1.05zM5 36h1.05v1.05h-1.05zM10 37h1.05v1.05h-1.05zM25 37h1.05v1.05h-1.05zM32 37h1.05v1.05h-1.05zM11 38h1.05v1.05h-1.05zM18 38h1.05v1.05h-1.05zM19 38h1.05v1.05h-1.05zM31 38h1.05v1.05h-1.05zM33 38h1.05v1.05h-1.05zM5 39h1.05v1.05h-1.05zM15 39h1.05v1.05h-1.05zM22 39h1.05v1.05h-1.05zM30 39h1.05v1.05h-1.05zM19 40h1.05v1.05h-1.05zM35 40h1.05v1.05h-1.05zM36 40h1.05v1.05h-1.05zM37 40h1.05v1.05h-1.05zM19 41h1.05v1.05h-1.05zM29 41h1.05v1.05h-1.05zM36 41h1.05v1.05h-1.05zM37 41h1.05v1.05h-1.05zM38 41h1.05v1.05h-1.05zM19 42h1.05v1.05h-1.05zM36 42h1.05v1.05h-1.05zM37 42h1.05v1.05h-1.05zM38 42h1.05v1.05h-1.05zM19 43h1.05v1.05h-1.05zM35 43h1.05v1.05h-1.05zM36 43h1.05v1.05h-1.05zM37 43h1.05v1.05h-1.05zM38 43h1.05v1.05h-1.05z"/>
<path fill="#7a7a7a" d="M14 8h1.05v1.05h-1.05zM13 11h1.05v1.05h-1.05zM5 16h1.05v1.05h-1.05zM20 24h1.05v1.05h-1.05zM24 24h1.05v1.05h-1.05zM26 25h1.05v1.05h-1.05zM14 27h1.05v1.05h-1.05zM14 31h1.05v1.05h-1.05zM33 31h1.05v1.05h-1.05zM35 31h1.05v1.05h-1.05zM11 33h1.05v1.05h-1.05zM7 36h1.05v1.05h-1.05zM33 36h1.05v1.05h-1.05zM4 37h1.05v1.05h-1.05zM17 37h1.05v1.05h-1.05zM33 37h1.05v1.05h-1.05zM4 38h1.05v1.05h-1.05zM17 38h1.05v1.05h-1.05zM19 39h1.05v1.05h-1.05zM21 39h1.05v1.05h-1.05zM23 39h1.05v1.05h-1.05zM29 40h1.05v1.05h-1.05zM38 40h1.05v1.05h-1.05zM29 42h1.05v1.05h-1.05zM29 43h1.05v1.05h-1.05z"/>
<path fill="#7c7c7c" d="M29 1h1.05v1.05h-1.05zM29 2h1.05v1.05h-1.05zM15 9h1.05v1.05h-1.05zM27 16h1.05v1.05h-1.05zM21 18h1.05v1.05h-1.05zM25 19h1.05v1.05h-1.05zM1 22h1.05v1.05h-1.05zM2 22h1.05v1.05h-1.05zM21 23h1.05v1.05h-1.05zM10 26h1.05v1.05h-1.05zM27 27h1.05v1.05h-1.05zM6 32h1.05v1.05h-1.05zM13 32h1.05v1.05h-1.05zM17 32h1.05v1.05h-1.05zM32 36h1.05v1.05h-1.05zM13 39h1.05v1.05h-1.05zM14 39h1.05v1.05h-1.05zM20 39h1.05v1.05h-1.05zM34 39h1.05v1.05h-1.05zM6 40h1.05v1.05h-1.05z"/>
<path fill="#7e7e7e" d="M29 0h1.05v1.05h-1.05zM29 3h1.05v1.05h-1.05zM15 10h1.05v1.05h-1.05zM14 11h1.05v1.05h-1.05zM28 11h1.05v1.05h-1.05zM22 21h1.05v1.05h-1.05zM0 22h1.05v1.05h-1.05zM35 32h1.05v1.05h-1.05zM32 34h1.05v1.05h-1.05zM32 35h1.05v1.05h-1.05zM34 35h1.05v1.05h-1.05zM8 36h1.05v1.05h-1.05zM26 36h1.05v1.05h-1.05zM31 37h1.05v1.05h-1.05zM38 39h1.05v1.05h-1.05zM20 40h1.05v1.05h-1.05zM20 41h1.05v1.05h-1.05zM39 41h1.05v1.05h-1.05zM20 42h1.05v1.05h-1.05zM39 42h1.05v1.05h-1.05zM6 43h1.05v1.05h-1.05zM20 43h1.05v1.05h-1.05z"/>
<path fill="#808080" d="M13 9h1.05v1.05h-1.05zM14 9h1.05v1.05h-1.05zM13 10h1.05v1.05h-1.05zM14 10h1.05v1.05h-1.05zM3 15h1.05v1.05h-1.05zM20 17h1.05v1.05h-1.05zM3 22h1.05v1.05h-1.05zM20 23h1.05v1.05h-1.05zM4 28h1.05v1.05h-1.05zM18 28h1.05v1.05h-1.05zM5 29h1.05v1.05h-1.05zM6 33h1.05v1.05h-1.05zM27 34h1.05v1.05h-1.05zM16 35h1.05v1.05h-1.05zM4 36h1.05v1.05h-1.05zM16 36h1.05v1.05h-1.05zM16 38h1.05v1.05h-1.05zM30 38h1.05v1.05h-1.05zM29 39h1.05v1.05h-1.05zM37 39h1.05v1.05h-1.05zM39 40h1.05v1.05h-1.05zM39 43h1.05v1.05h-1.05z"/>
<path fill="#828282" d="M0 15h1.05v1.05h-1.05zM21 19h1.05v1.05h-1.05zM21 20h1.05v1.05h-1.05zM21 21h1.05v1.05h-1.05zM23 21h1.05v1.05h-1.05zM21 22h1.05v1.05h-1.05zM6 24h1.05v1.05h-1.05zM19 26h1.05v1.05h-1.05zM15 30h1.05v1.05h-1.05zM34 30h1.05v1.05h-1.05zM35 30h1.05v1.05h-1.05zM17 31h1.05v1.05h-1.05zM32 33h1.05v1.05h-1.05zM5 35h1.05v1.05h-1.05zM6 35h1.05v1.05h-1.05zM16 37h1.05v1.05h-1.05zM34 38h1.05v1.05h-1.05zM4 39h1.05v1.05h-1.05zM35 39h1.05v1.05h-1.05zM36 39h1.05v1.05h-1.05zM21 40h1.05v1.05h-1.05zM22 40h1.05v1.05h-1.05zM6 42h1.05v1.05h-1.05zM21 42h1.05v1.05h-1.05zM21 43h1.05v1.05h-1.05z"/>
<path fill="#848484" d="M1 15h1.05v1.05h-1.05zM4 16h1.05v1.05h-1.05zM26 18h1.05v1.05h-1.05zM22 23h1.05v1.05h-1.05zM25 24h1.05v1.05h-1.05zM8 25h1.05v1.05h-1.05zM36 30h1.05v1.05h-1.05zM36 31h1.05v1.05h-1.05zM12 33h1.05v1.05h-1.05zM35 33h1.05v1.05h-1.05zM6 34h1.05v1.05h-1.05zM7 34h1.05v1.05h-1.05zM8 34h1.05v1.05h-1.05zM9 34h1.05v1.05h-1.05zM16 34h1.05v1.05h-1.05zM9 36h1.05v1.05h-1.05zM34 36h1.05v1.05h-1.05zM39 39h1.05v1.05h-1.05zM6 41h1.05v1.05h-1.05zM21 41h1.05v1.05h-1.05zM28 41h1.05v1.05h-1.05zM28 42h1.05v1.05h-1.05zM22 43h1.05v1.05h-1.05zM28 43h1.05v1.05h-1.05z"/>
<path fill="#868686" d="M29 4h1.05v1.05h-1.05zM2 15h1.05v1.05h-1.05zM17 30h1.05v1.05h-1.05zM32 32h1.05v1.05h-1.05zM10 34h1.05v1.05h-1.05zM7 35h1.05v1.05h-1.05zM31 36h1.05v1.05h-1.05zM3 37h1.05v1.05h-1.05zM34 37h1.05v1.05h-1.05zM3 38h1.05v1.05h-1.05zM25 38h1.05v1.05h-1.05zM29 38h1.05v1.05h-1.05zM38 38h1.05v1.05h-1.05zM24 39h1.05v1.05h-1.05zM5 40h1.05v1.05h-1.05zM28 40h1.05v1.05h-1.05zM40 40h1.05v1.05h-1.05zM22 41h1.05v1.05h-1.05zM40 41h1.05v1.05h-1.05zM22 42h1.05v1.05h-1.05zM40 42h1.05v1.05h-1.05zM40 43h1.05v1.05h-1.05z"/>
<path fill="#888888" d="M28 12h1.05v1.05h-1.05zM28 13h1.05v1.05h-1.05zM29 13h1.05v1.05h-1.05zM30 13h1.05v1.05h-1.05zM31 13h1.05v1.05h-1.05zM32 13h1.05v1.05h-1.05zM33 13h1.05v1.05h-1.05zM28 14h1.05v1.05h-1.05zM29 14h1.05v1.05h-1.05zM30 14h1.05v1.05h-1.05zM31 14h1.05v1.05h-1.05zM32 14h1.05v1.05h-1.05zM33 14h1.05v1.05h-1.05zM34 14h1.05v1.05h-1.05zM35 14h1.05v1.05h-1.05zM28 15h1.05v1.05h-1.05zM29 15h1.05v1.05h-1.05zM30 15h1.05v1.05h-1.05zM31 15h1.05v1.05h-1.05zM32 15h1.05v1.05h-1.05zM33 15h1.05v1.05h-1.05zM34 15h1.05v1.05h-1.05zM20 22h1.05v1.05h-1.05zM22 22h1.05v1.05h-1.05zM11 26h1.05v1.05h-1.05zM16 28h1.05v1.05h-1.05zM17 28h1.05v1.05h-1.05zM16 29h1.05v1.05h-1.05zM17 29h1.05v1.05h-1.05zM16 30h1.05v1.05h-1.05zM33 30h1.05v1.05h-1.05zM14 32h1.05v1.05h-1.05zM16 33h1.05v1.05h-1.05zM5 34h1.05v1.05h-1.05zM35 34h1.05v1.05h-1.05zM4 35h1.05v1.05h-1.05zM10 36h1.05v1.05h-1.05zM0 37h1.05v1.05h-1.05zM11 37h1.05v1.05h-1.05zM30 37h1.05v1.05h-1.05zM0 38h1.05v1.05h-1.05zM15 38h1.05v1.05h-1.05zM37 38h1.05v1.05h-1.05zM39 38h1.05v1.05h-1.05zM28 39h1.05v1.05h-1.05zM23 40h1.05v1.05h-1.05zM42 40h1.05v1.05h-1.05zM43 40h1.05v1.05h-1.05zM41 41h1.05v1.05h-1.05zM42 41h1.05v1.05h-1.05zM43 41h1.05v1.05h-1.05zM41 42h1.05v1.05h-1.05zM42 42h1.05v1.05h-1.05zM43 42h1.05v1.05h-1.05zM5 43h1.05v1.05h-1.05zM23 43h1.05v1.05h-1.05zM41 43h1.05v1.05h-1.05zM42 43h1.05v1.05h-1.05zM43 43h1.05v1.05h-1.05z"/>
<path fill="#8a8a8a" d="M34 13h1.05v1.05h-1.05zM27 17h1.05v1.05h-1.05zM27 26h1.05v1.05h-1.05zM15 27h1.05v1.05h-1.05zM37 30h1.05v1.05h-1.05zM15 31h1.05v1.05h-1.05zM5 33h1.05v1.05h-1.05zM11 34h1.05v1.05h-1.05zM8 35h1.05v1.05h-1.05zM15 35h1.05v1.05h-1.05zM27 35h1.05v1.05h-1.05zM3 36h1.05v1.05h-1.05zM1 37h1.05v1.05h-1.05zM26 37h1.05v1.05h-1.05zM1 38h1.05v1.05h-1.05zM2 38h1.05v1.05h-1.05zM12 38h1.05v1.05h-1.05zM0 39h1.05v1.05h-1.05zM3 39h1.05v1.05h-1.05zM40 39h1.05v1.05h-1.05zM43 39h1.05v1.05h-1.05zM41 40h1.05v1.05h-1.05zM23 42h1.05v1.05h-1.05z"/>
<path fill="#8c8c8c" d="M29 5h1.05v1.05h-1.05zM35 15h1.05v1.05h-1.05zM2 21h1.05v1.05h-1.05zM5 23h1.05v1.05h-1.05zM19 25h1.05v1.05h-1.05zM18 27h1.05v1.05h-1.05zM3 28h1.05v1.05h-1.05zM5 30h1.05v1.05h-1.05zM37 31h1.05v1.05h-1.05zM16 32h1.05v1.05h-1.05zM36 32h1.05v1.05h-1.05zM13 33h1.05v1.05h-1.05zM15 34h1.05v1.05h-1.05zM9 35h1.05v1.05h-1.05zM35 35h1.05v1.05h-1.05zM0 36h1.05v1.05h-1.05zM15 36h1.05v1.05h-1.05zM2 37h1.05v1.05h-1.05zM38 37h1.05v1.05h-1.05zM28 38h1.05v1.05h-1.05zM35 38h1.05v1.05h-1.05zM1 39h1.05v1.05h-1.05zM2 39h1.05v1.05h-1.05zM41 39h1.05v1.05h-1.05zM42 39h1.05v1.05h-1.05zM4 40h1.05v1.05h-1.05zM23 41h1.05v1.05h-1.05zM5 42h1.05v1.05h-1.05z"/>
<path fill="#8e8e8e" d="M0 16h1.05v1.05h-1.05zM3 16h1.05v1.05h-1.05zM2 17h1.05v1.05h-1.05zM1 21h1.05v1.05h-1.05zM20 21h1.05v1.05h-1.05zM23 23h1.05v1.05h-1.05zM0 28h1.05v1.05h-1.05zM16 31h1.05v1.05h-1.05zM32 31h1.05v1.05h-1.05zM5 32h1.05v1.05h-1.05zM4 34h1.05v1.05h-1.05zM10 35h1.05v1.05h-1.05zM31 35h1.05v1.05h-1.05zM1 36h1.05v1.05h-1.05zM2 36h1.05v1.05h-1.05zM15 37h1.05v1.05h-1.05zM39 37h1.05v1.05h-1.05zM36 38h1.05v1.05h-1.05zM40 38h1.05v1.05h-1.05zM43 38h1.05v1.05h-1.05zM0 40h1.05v1.05h-1.05zM1 40h1.05v1.05h-1.05zM3 40h1.05v1.05h-1.05zM5 41h1.05v1.05h-1.05zM27 41h1.05v1.05h-1.05zM27 42h1.05v1.05h-1.05zM4 43h1.05v1.05h-1.05z"/>
<path fill="#909090" d="M30 2h1.05v1.05h-1.05zM29 6h1.05v1.05h-1.05zM1 16h1.05v1.05h-1.05zM0 17h1.05v1.05h-1.05zM1 17h1.05v1.05h-1.05zM3 17h1.05v1.05h-1.05zM19 17h1.05v1.05h-1.05zM0 18h1.05v1.05h-1.05zM1 18h1.05v1.05h-1.05zM2 18h1.05v1.05h-1.05zM0 21h1.05v1.05h-1.05zM24 21h1.05v1.05h-1.05zM4 22h1.05v1.05h-1.05zM12 26h1.05v1.05h-1.05zM1 28h1.05v1.05h-1.05zM2 28h1.05v1.05h-1.05zM37 29h1.05v1.05h-1.05zM38 30h1.05v1.05h-1.05zM5 31h1.05v1.05h-1.05zM15 32h1.05v1.05h-1.05zM14 33h1.05v1.05h-1.05zM15 33h1.05v1.05h-1.05zM12 34h1.05v1.05h-1.05zM0 35h1.05v1.05h-1.05zM3 35h1.05v1.05h-1.05zM11 36h1.05v1.05h-1.05zM27 36h1.05v1.05h-1.05zM35 36h1.05v1.05h-1.05zM29 37h1.05v1.05h-1.05zM35 37h1.05v1.05h-1.05zM37 37h1.05v1.05h-1.05zM26 38h1.05v1.05h-1.05zM41 38h1.05v1.05h-1.05zM42 38h1.05v1.05h-1.05zM25 39h1.05v1.05h-1.05zM27 39h1.05v1.05h-1.05zM2 40h1.05v1.05h-1.05zM24 40h1.05v1.05h-1.05zM27 40h1.05v1.05h-1.05zM0 41h1.05v1.05h-1.05zM1 41h1.05v1.05h-1.05zM2 41h1.05v1.05h-1.05zM3 41h1.05v1.05h-1.05zM4 41h1.05v1.05h-1.05zM0 42h1.05v1.05h-1.05zM1 42h1.05v1.05h-1.05zM2 42h1.05v1.05h-1.05zM3 42h1.05v1.05h-1.05zM4 42h1.05v1.05h-1.05zM0 43h1.05v1.05h-1.05zM1 43h1.05v1.05h-1.05zM2 43h1.05v1.05h-1.05zM3 43h1.05v1.05h-1.05zM24 43h1.05v1.05h-1.05zM27 43h1.05v1.05h-1.05z"/>
<path fill="#929292" d="M30 1h1.05v1.05h-1.05zM29 7h1.05v1.05h-1.05zM35 13h1.05v1.05h-1.05zM36 14h1.05v1.05h-1.05zM36 15h1.05v1.05h-1.05zM2 16h1.05v1.05h-1.05zM28 16h1.05v1.05h-1.05zM3 18h1.05v1.05h-1.05zM2 19h1.05v1.05h-1.05zM25 20h1.05v1.05h-1.05zM3 21h1.05v1.05h-1.05zM23 22h1.05v1.05h-1.05zM19 24h1.05v1.05h-1.05zM38 29h1.05v1.05h-1.05zM36 33h1.05v1.05h-1.05zM14 34h1.05v1.05h-1.05zM1 35h1.05v1.05h-1.05zM2 35h1.05v1.05h-1.05zM11 35h1.05v1.05h-1.05zM14 35h1.05v1.05h-1.05zM30 36h1.05v1.05h-1.05zM27 37h1.05v1.05h-1.05zM28 37h1.05v1.05h-1.05zM40 37h1.05v1.05h-1.05zM14 38h1.05v1.05h-1.05zM27 38h1.05v1.05h-1.05zM24 41h1.05v1.05h-1.05zM24 42h1.05v1.05h-1.05z"/>
<path fill="#949494" d="M30 0h1.05v1.05h-1.05zM4 17h1.05v1.05h-1.05zM1 19h1.05v1.05h-1.05zM2 20h1.05v1.05h-1.05zM26 24h1.05v1.05h-1.05zM16 27h1.05v1.05h-1.05zM38 28h1.05v1.05h-1.05zM36 29h1.05v1.05h-1.05zM37 32h1.05v1.05h-1.05zM4 33h1.05v1.05h-1.05zM0 34h1.05v1.05h-1.05zM3 34h1.05v1.05h-1.05zM13 34h1.05v1.05h-1.05zM36 35h1.05v1.05h-1.05zM36 36h1.05v1.05h-1.05zM37 36h1.05v1.05h-1.05zM38 36h1.05v1.05h-1.05zM36 37h1.05v1.05h-1.05zM41 37h1.05v1.05h-1.05zM42 37h1.05v1.05h-1.05zM43 37h1.05v1.05h-1.05zM13 38h1.05v1.05h-1.05zM26 39h1.05v1.05h-1.05z"/>
<path fill="#969696" d="M30 3h1.05v1.05h-1.05zM0 19h1.05v1.05h-1.05zM1 20h1.05v1.05h-1.05zM20 20h1.05v1.05h-1.05zM9 25h1.05v1.05h-1.05zM28 28h1.05v1.05h-1.05zM4 29h1.05v1.05h-1.05zM39 29h1.05v1.05h-1.05zM32 30h1.05v1.05h-1.05zM38 31h1.05v1.05h-1.05zM1 34h1.05v1.05h-1.05zM2 34h1.05v1.05h-1.05zM36 34h1.05v1.05h-1.05zM12 35h1.05v1.05h-1.05zM13 35h1.05v1.05h-1.05zM14 36h1.05v1.05h-1.05zM39 36h1.05v1.05h-1.05zM12 37h1.05v1.05h-1.05zM25 40h1.05v1.05h-1.05zM26 40h1.05v1.05h-1.05zM26 41h1.05v1.05h-1.05zM26 42h1.05v1.05h-1.05zM25 43h1.05v1.05h-1.05zM26 43h1.05v1.05h-1.05z"/>
<path fill="#989898" d="M29 8h1.05v1.05h-1.05zM29 12h1.05v1.05h-1.05zM5 17h1.05v1.05h-1.05zM18 17h1.05v1.05h-1.05zM3 19h1.05v1.05h-1.05zM0 20h1.05v1.05h-1.05zM19 23h1.05v1.05h-1.05zM24 23h1.05v1.05h-1.05zM7 24h1.05v1.05h-1.05zM13 26h1.05v1.05h-1.05zM39 26h1.05v1.05h-1.05zM17 27h1.05v1.05h-1.05zM39 27h1.05v1.05h-1.05zM39 28h1.05v1.05h-1.05zM28 29h1.05v1.05h-1.05zM35 29h1.05v1.05h-1.05zM39 30h1.05v1.05h-1.05zM28 33h1.05v1.05h-1.05zM28 34h1.05v1.05h-1.05zM37 35h1.05v1.05h-1.05zM12 36h1.05v1.05h-1.05zM13 36h1.05v1.05h-1.05zM28 36h1.05v1.05h-1.05zM29 36h1.05v1.05h-1.05zM40 36h1.05v1.05h-1.05zM13 37h1.05v1.05h-1.05zM14 37h1.05v1.05h-1.05zM25 41h1.05v1.05h-1.05zM25 42h1.05v1.05h-1.05z"/>
<path fill="#9a9a9a" d="M32 12h1.05v1.05h-1.05zM33 12h1.05v1.05h-1.05zM36 13h1.05v1.05h-1.05zM37 15h1.05v1.05h-1.05zM29 16h1.05v1.05h-1.05zM15 17h1.05v1.05h-1.05zM16 17h1.05v1.05h-1.05zM17 17h1.05v1.05h-1.05zM20 18h1.05v1.05h-1.05zM3 20h1.05v1.05h-1.05zM27 25h1.05v1.05h-1.05zM18 26h1.05v1.05h-1.05zM38 27h1.05v1.05h-1.05zM34 29h1.05v1.05h-1.05zM28 32h1.05v1.05h-1.05zM31 34h1.05v1.05h-1.05zM28 35h1.05v1.05h-1.05zM38 35h1.05v1.05h-1.05zM41 36h1.05v1.05h-1.05zM42 36h1.05v1.05h-1.05zM43 36h1.05v1.05h-1.05z"/>
<path fill="#9c9c9c" d="M31 1h1.05v1.05h-1.05zM31 2h1.05v1.05h-1.05zM32 2h1.05v1.05h-1.05zM30 12h1.05v1.05h-1.05zM31 12h1.05v1.05h-1.05zM37 14h1.05v1.05h-1.05zM36 16h1.05v1.05h-1.05zM37 16h1.05v1.05h-1.05zM19 22h1.05v1.05h-1.05zM28 27h1.05v1.05h-1.05zM33 29h1.05v1.05h-1.05zM40 29h1.05v1.05h-1.05zM4 32h1.05v1.05h-1.05zM0 33h1.05v1.05h-1.05zM3 33h1.05v1.05h-1.05zM37 33h1.05v1.05h-1.05zM37 34h1.05v1.05h-1.05z"/>
<path fill="#9e9e9e" d="M31 0h1.05v1.05h-1.05zM32 1h1.05v1.05h-1.05zM34 12h1.05v1.05h-1.05zM30 16h1.05v1.05h-1.05zM31 16h1.05v1.05h-1.05zM32 16h1.05v1.05h-1.05zM34 16h1.05v1.05h-1.05zM35 16h1.05v1.05h-1.05zM6 17h1.05v1.05h-1.05zM14 17h1.05v1.05h-1.05zM20 19h1.05v1.05h-1.05zM26 19h1.05v1.05h-1.05zM24 22h1.05v1.05h-1.05zM38 26h1.05v1.05h-1.05zM40 26h1.05v1.05h-1.05zM40 27h1.05v1.05h-1.05zM37 28h1.05v1.05h-1.05zM40 28h1.05v1.05h-1.05zM28 30h1.05v1.05h-1.05zM40 30h1.05v1.05h-1.05zM28 31h1.05v1.05h-1.05zM39 31h1.05v1.05h-1.05zM38 32h1.05v1.05h-1.05zM1 33h1.05v1.05h-1.05zM2 33h1.05v1.05h-1.05zM30 35h1.05v1.05h-1.05zM39 35h1.05v1.05h-1.05z"/>
<path fill="#a0a0a0" d="M32 0h1.05v1.05h-1.05zM33 0h1.05v1.05h-1.05zM33 1h1.05v1.05h-1.05zM34 1h1.05v1.05h-1.05zM35 1h1.05v1.05h-1.05zM33 2h1.05v1.05h-1.05zM34 2h1.05v1.05h-1.05zM35 2h1.05v1.05h-1.05zM31 3h1.05v1.05h-1.05zM30 4h1.05v1.05h-1.05zM29 9h1.05v1.05h-1.05zM37 13h1.05v1.05h-1.05zM33 16h1.05v1.05h-1.05zM38 16h1.05v1.05h-1.05zM39 16h1.05v1.05h-1.05zM38 17h1.05v1.05h-1.05zM39 17h1.05v1.05h-1.05zM40 17h1.05v1.05h-1.05zM41 17h1.05v1.05h-1.05zM42 17h1.05v1.05h-1.05zM43 17h1.05v1.05h-1.05zM4 18h1.05v1.05h-1.05zM38 18h1.05v1.05h-1.05zM39 18h1.05v1.05h-1.05zM40 18h1.05v1.05h-1.05zM42 18h1.05v1.05h-1.05zM43 18h1.05v1.05h-1.05zM39 19h1.05v1.05h-1.05zM19 21h1.05v1.05h-1.05zM25 23h1.05v1.05h-1.05zM39 23h1.05v1.05h-1.05zM40 23h1.05v1.05h-1.05zM41 23h1.05v1.05h-1.05zM42 23h1.05v1.05h-1.05zM43 23h1.05v1.05h-1.05zM39 24h1.05v1.05h-1.05zM40 24h1.05v1.05h-1.05zM41 24h1.05v1.05h-1.05zM42 24h1.05v1.05h-1.05zM43 24h1.05v1.05h-1.05zM39 25h1.05v1.05h-1.05zM40 25h1.05v1.05h-1.05zM41 25h1.05v1.05h-1.05zM42 25h1.05v1.05h-1.05zM43 25h1.05v1.05h-1.05zM14 26h1.05v1.05h-1.05zM41 26h1.05v1.05h-1.05zM42 26h1.05v1.05h-1.05zM43 26h1.05v1.05h-1.05zM41 27h1.05v1.05h-1.05zM42 27h1.05v1.05h-1.05zM43 27h1.05v1.05h-1.05zM41 28h1.05v1.05h-1.05zM42 28h1.05v1.05h-1.05zM43 28h1.05v1.05h-1.05zM32 29h1.05v1.05h-1.05zM41 29h1.05v1.05h-1.05zM42 29h1.05v1.05h-1.05zM43 29h1.05v1.05h-1.05zM41 30h1.05v1.05h-1.05zM42 30h1.05v1.05h-1.05zM43 30h1.05v1.05h-1.05zM38 34h1.05v1.05h-1.05zM40 35h1.05v1.05h-1.05z"/>
<path fill="#a2a2a2" d="M34 0h1.05v1.05h-1.05zM36 0h1.05v1.05h-1.05zM37 0h1.05v1.05h-1.05zM36 1h1.05v1.05h-1.05zM37 1h1.05v1.05h-1.05zM36 2h1.05v1.05h-1.05zM37 2h1.05v1.05h-1.05zM38 2h1.05v1.05h-1.05zM32 3h1.05v1.05h-1.05zM33 3h1.05v1.05h-1.05zM36 3h1.05v1.05h-1.05zM37 3h1.05v1.05h-1.05zM29 11h1.05v1.05h-1.05zM35 12h1.05v1.05h-1.05zM38 15h1.05v1.05h-1.05zM40 16h1.05v1.05h-1.05zM7 17h1.05v1.05h-1.05zM28 17h1.05v1.05h-1.05zM37 17h1.05v1.05h-1.05zM27 18h1.05v1.05h-1.05zM41 18h1.05v1.05h-1.05zM40 19h1.05v1.05h-1.05zM4 21h1.05v1.05h-1.05zM40 22h1.05v1.05h-1.05zM41 22h1.05v1.05h-1.05zM42 22h1.05v1.05h-1.05zM43 22h1.05v1.05h-1.05zM6 23h1.05v1.05h-1.05zM38 33h1.05v1.05h-1.05zM29 35h1.05v1.05h-1.05zM41 35h1.05v1.05h-1.05zM42 35h1.05v1.05h-1.05zM43 35h1.05v1.05h-1.05z"/>
<path fill="#a4a4a4" d="M35 0h1.05v1.05h-1.05zM38 0h1.05v1.05h-1.05zM38 1h1.05v1.05h-1.05zM34 3h1.05v1.05h-1.05zM35 3h1.05v1.05h-1.05zM29 10h1.05v1.05h-1.05zM38 14h1.05v1.05h-1.05zM41 16h1.05v1.05h-1.05zM42 16h1.05v1.05h-1.05zM43 16h1.05v1.05h-1.05zM13 17h1.05v1.05h-1.05zM41 19h1.05v1.05h-1.05zM42 19h1.05v1.05h-1.05zM43 19h1.05v1.05h-1.05zM25 21h1.05v1.05h-1.05zM5 22h1.05v1.05h-1.05zM38 25h1.05v1.05h-1.05zM15 26h1.05v1.05h-1.05zM3 29h1.05v1.05h-1.05zM31 29h1.05v1.05h-1.05zM4 30h1.05v1.05h-1.05zM31 30h1.05v1.05h-1.05zM4 31h1.05v1.05h-1.05zM40 31h1.05v1.05h-1.05zM43 31h1.05v1.05h-1.05zM31 33h1.05v1.05h-1.05zM39 34h1.05v1.05h-1.05z"/>
<path fill="#a6a6a6" d="M38 3h1.05v1.05h-1.05zM36 12h1.05v1.05h-1.05zM39 15h1.05v1.05h-1.05zM8 17h1.05v1.05h-1.05zM39 20h1.05v1.05h-1.05zM40 20h1.05v1.05h-1.05zM43 20h1.05v1.05h-1.05zM40 21h1.05v1.05h-1.05zM41 21h1.05v1.05h-1.05zM42 21h1.05v1.05h-1.05zM43 21h1.05v1.05h-1.05zM39 22h1.05v1.05h-1.05zM10 25h1.05v1.05h-1.05zM18 25h1.05v1.05h-1.05zM17 26h1.05v1.05h-1.05zM29 28h1.05v1.05h-1.05zM0 29h1.05v1.05h-1.05zM31 31h1.05v1.05h-1.05zM41 31h1.05v1.05h-1.05zM42 31h1.05v1.05h-1.05zM39 32h1.05v1.05h-1.05z"/>
<path fill="#a8a8a8" d="M37 12h1.05v1.05h-1.05zM38 13h1.05v1.05h-1.05zM40 15h1.05v1.05h-1.05zM43 15h1.05v1.05h-1.05zM4 19h1.05v1.05h-1.05zM38 19h1.05v1.05h-1.05zM19 20h1.05v1.05h-1.05zM41 20h1.05v1.05h-1.05zM42 20h1.05v1.05h-1.05zM39 21h1.05v1.05h-1.05zM25 22h1.05v1.05h-1.05zM16 26h1.05v1.05h-1.05zM1 29h1.05v1.05h-1.05zM29 29h1.05v1.05h-1.05zM30 29h1.05v1.05h-1.05zM3 32h1.05v1.05h-1.05zM31 32h1.05v1.05h-1.05zM39 33h1.05v1.05h-1.05z"/>
<path fill="#aaaaaa" d="M37 4h1.05v1.05h-1.05zM39 14h1.05v1.05h-1.05zM41 15h1.05v1.05h-1.05zM42 15h1.05v1.05h-1.05zM9 17h1.05v1.05h-1.05zM12 17h1.05v1.05h-1.05zM4 20h1.05v1.05h-1.05zM27 24h1.05v1.05h-1.05zM38 24h1.05v1.05h-1.05zM2 29h1.05v1.05h-1.05zM0 32h1.05v1.05h-1.05zM1 32h1.05v1.05h-1.05zM29 34h1.05v1.05h-1.05zM40 34h1.05v1.05h-1.05zM43 34h1.05v1.05h-1.05z"/>
<path fill="#acacac" d="M10 17h1.05v1.05h-1.05zM11 17h1.05v1.05h-1.05zM19 18h1.05v1.05h-1.05zM26 23h1.05v1.05h-1.05zM8 24h1.05v1.05h-1.05zM28 26h1.05v1.05h-1.05zM37 27h1.05v1.05h-1.05zM30 28h1.05v1.05h-1.05zM36 28h1.05v1.05h-1.05zM2 32h1.05v1.05h-1.05zM40 32h1.05v1.05h-1.05zM43 32h1.05v1.05h-1.05zM30 34h1.05v1.05h-1.05zM41 34h1.05v1.05h-1.05zM42 34h1.05v1.05h-1.05z"/>
<path fill="#aeaeae" d="M39 2h1.05v1.05h-1.05zM31 4h1.05v1.05h-1.05zM33 4h1.05v1.05h-1.05zM36 4h1.05v1.05h-1.05zM38 4h1.05v1.05h-1.05zM30 5h1.05v1.05h-1.05zM38 12h1.05v1.05h-1.05zM40 14h1.05v1.05h-1.05zM36 17h1.05v1.05h-1.05zM37 18h1.05v1.05h-1.05zM18 24h1.05v1.05h-1.05zM31 28h1.05v1.05h-1.05zM41 32h1.05v1.05h-1.05zM42 32h1.05v1.05h-1.05zM40 33h1.05v1.05h-1.05z"/>
<path fill="#b0b0b0" d="M39 1h1.05v1.05h-1.05zM32 4h1.05v1.05h-1.05zM34 4h1.05v1.05h-1.05zM35 4h1.05v1.05h-1.05zM39 13h1.05v1.05h-1.05zM41 14h1.05v1.05h-1.05zM42 14h1.05v1.05h-1.05zM43 14h1.05v1.05h-1.05zM5 18h1.05v1.05h-1.05zM19 19h1.05v1.05h-1.05zM38 20h1.05v1.05h-1.05zM38 23h1.05v1.05h-1.05zM29 27h1.05v1.05h-1.05zM29 30h1.05v1.05h-1.05zM30 30h1.05v1.05h-1.05zM29 33h1.05v1.05h-1.05zM41 33h1.05v1.05h-1.05zM42 33h1.05v1.05h-1.05zM43 33h1.05v1.05h-1.05z"/>
<path fill="#b2b2b2" d="M39 0h1.05v1.05h-1.05zM39 3h1.05v1.05h-1.05zM37 11h1.05v1.05h-1.05zM18 18h1.05v1.05h-1.05zM18 21h1.05v1.05h-1.05zM18 22h1.05v1.05h-1.05zM18 23h1.05v1.05h-1.05z"/>
<path fill="#b4b4b4" d="M37 5h1.05v1.05h-1.05zM34 11h1.05v1.05h-1.05zM36 11h1.05v1.05h-1.05zM38 11h1.05v1.05h-1.05zM39 12h1.05v1.05h-1.05zM40 13h1.05v1.05h-1.05zM29 17h1.05v1.05h-1.05zM26 20h1.05v1.05h-1.05zM5 21h1.05v1.05h-1.05zM38 21h1.05v1.05h-1.05zM38 22h1.05v1.05h-1.05zM11 25h1.05v1.05h-1.05zM17 25h1.05v1.05h-1.05zM32 28h1.05v1.05h-1.05zM3 30h1.05v1.05h-1.05zM0 31h1.05v1.05h-1.05zM3 31h1.05v1.05h-1.05zM29 31h1.05v1.05h-1.05zM29 32h1.05v1.05h-1.05z"/>
<path fill="#b6b6b6" d="M33 11h1.05v1.05h-1.05zM35 11h1.05v1.05h-1.05zM42 13h1.05v1.05h-1.05zM43 13h1.05v1.05h-1.05zM18 20h1.05v1.05h-1.05zM0 30h1.05v1.05h-1.05z"/>
<path fill="#b8b8b8" d="M36 5h1.05v1.05h-1.05zM38 5h1.05v1.05h-1.05zM30 6h1.05v1.05h-1.05zM41 13h1.05v1.05h-1.05zM17 18h1.05v1.05h-1.05zM18 19h1.05v1.05h-1.05zM6 22h1.05v1.05h-1.05zM33 28h1.05v1.05h-1.05zM35 28h1.05v1.05h-1.05zM1 30h1.05v1.05h-1.05zM2 30h1.05v1.05h-1.05zM1 31h1.05v1.05h-1.05zM2 31h1.05v1.05h-1.05zM30 31h1.05v1.05h-1.05zM30 32h1.05v1.05h-1.05zM30 33h1.05v1.05h-1.05z"/>
<path fill="#bababa" d="M40 2h1.05v1.05h-1.05zM37 6h1.05v1.05h-1.05zM37 10h1.05v1.05h-1.05zM38 10h1.05v1.05h-1.05zM30 11h1.05v1.05h-1.05zM39 11h1.05v1.05h-1.05zM40 12h1.05v1.05h-1.05zM35 17h1.05v1.05h-1.05zM16 18h1.05v1.05h-1.05zM26 22h1.05v1.05h-1.05zM7 23h1.05v1.05h-1.05zM27 23h1.05v1.05h-1.05zM16 25h1.05v1.05h-1.05zM28 25h1.05v1.05h-1.05zM37 26h1.05v1.05h-1.05zM34 28h1.05v1.05h-1.05z"/>
<path fill="#bcbcbc" d="M40 1h1.05v1.05h-1.05zM39 4h1.05v1.05h-1.05zM33 5h1.05v1.05h-1.05zM32 11h1.05v1.05h-1.05zM42 12h1.05v1.05h-1.05zM43 12h1.05v1.05h-1.05zM5 19h1.05v1.05h-1.05zM5 20h1.05v1.05h-1.05zM9 24h1.05v1.05h-1.05zM12 25h1.05v1.05h-1.05zM15 25h1.05v1.05h-1.05zM30 27h1.05v1.05h-1.05z"/>
<path fill="#bebebe" d="M40 0h1.05v1.05h-1.05zM31 5h1.05v1.05h-1.05zM32 5h1.05v1.05h-1.05zM34 5h1.05v1.05h-1.05zM35 5h1.05v1.05h-1.05zM38 6h1.05v1.05h-1.05zM37 7h1.05v1.05h-1.05zM37 8h1.05v1.05h-1.05zM37 9h1.05v1.05h-1.05zM38 9h1.05v1.05h-1.05zM36 10h1.05v1.05h-1.05zM41 12h1.05v1.05h-1.05zM6 18h1.05v1.05h-1.05zM28 18h1.05v1.05h-1.05zM37 19h1.05v1.05h-1.05zM26 21h1.05v1.05h-1.05zM17 24h1.05v1.05h-1.05z"/>
<path fill="#c0c0c0" d="M43 0h1.05v1.05h-1.05zM41 1h1.05v1.05h-1.05zM42 1h1.05v1.05h-1.05zM43 1h1.05v1.05h-1.05zM41 2h1.05v1.05h-1.05zM42 2h1.05v1.05h-1.05zM43 2h1.05v1.05h-1.05zM40 3h1.05v1.05h-1.05zM36 6h1.05v1.05h-1.05zM38 8h1.05v1.05h-1.05zM39 10h1.05v1.05h-1.05zM31 11h1.05v1.05h-1.05zM40 11h1.05v1.05h-1.05zM30 17h1.05v1.05h-1.05zM15 18h1.05v1.05h-1.05zM17 19h1.05v1.05h-1.05zM27 19h1.05v1.05h-1.05zM17 20h1.05v1.05h-1.05zM17 21h1.05v1.05h-1.05zM13 25h1.05v1.05h-1.05zM14 25h1.05v1.05h-1.05z"/>
<path fill="#c2c2c2" d="M41 0h1.05v1.05h-1.05zM42 0h1.05v1.05h-1.05zM43 3h1.05v1.05h-1.05zM30 7h1.05v1.05h-1.05zM36 7h1.05v1.05h-1.05zM38 7h1.05v1.05h-1.05zM36 9h1.05v1.05h-1.05zM35 10h1.05v1.05h-1.05zM42 11h1.05v1.05h-1.05zM43 11h1.05v1.05h-1.05zM34 17h1.05v1.05h-1.05zM17 22h1.05v1.05h-1.05zM17 23h1.05v1.05h-1.05z"/>
<path fill="#c4c4c4" d="M41 3h1.05v1.05h-1.05zM42 3h1.05v1.05h-1.05zM36 8h1.05v1.05h-1.05zM34 10h1.05v1.05h-1.05zM41 11h1.05v1.05h-1.05zM6 21h1.05v1.05h-1.05zM16 24h1.05v1.05h-1.05zM37 25h1.05v1.05h-1.05zM29 26h1.05v1.05h-1.05z"/>
<path fill="#c6c6c6" d="M33 6h1.05v1.05h-1.05zM34 6h1.05v1.05h-1.05zM35 6h1.05v1.05h-1.05zM14 18h1.05v1.05h-1.05zM36 18h1.05v1.05h-1.05zM28 24h1.05v1.05h-1.05z"/>
<path fill="#c8c8c8" d="M39 5h1.05v1.05h-1.05zM34 7h1.05v1.05h-1.05zM35 7h1.05v1.05h-1.05zM35 8h1.05v1.05h-1.05zM35 9h1.05v1.05h-1.05zM39 9h1.05v1.05h-1.05zM33 10h1.05v1.05h-1.05zM40 10h1.05v1.05h-1.05zM31 17h1.05v1.05h-1.05zM33 17h1.05v1.05h-1.05zM7 18h1.05v1.05h-1.05zM16 19h1.05v1.05h-1.05zM31 27h1.05v1.05h-1.05zM36 27h1.05v1.05h-1.05z"/>
<path fill="#cacaca" d="M32 6h1.05v1.05h-1.05zM33 7h1.05v1.05h-1.05zM30 8h1.05v1.05h-1.05zM34 8h1.05v1.05h-1.05zM34 9h1.05v1.05h-1.05zM42 10h1.05v1.05h-1.05zM43 10h1.05v1.05h-1.05zM32 17h1.05v1.05h-1.05zM6 20h1.05v1.05h-1.05zM16 20h1.05v1.05h-1.05zM16 21h1.05v1.05h-1.05zM16 22h1.05v1.05h-1.05zM16 23h1.05v1.05h-1.05zM10 24h1.05v1.05h-1.05zM15 24h1.05v1.05h-1.05z"/>
<path fill="#cccccc" d="M40 4h1.05v1.05h-1.05zM31 6h1.05v1.05h-1.05zM30 10h1.05v1.05h-1.05zM41 10h1.05v1.05h-1.05zM6 19h1.05v1.05h-1.05zM37 20h1.05v1.05h-1.05zM7 22h1.05v1.05h-1.05zM27 22h1.05v1.05h-1.05zM37 24h1.05v1.05h-1.05z"/>
<path fill="#cecece" d="M43 4h1.05v1.05h-1.05zM39 6h1.05v1.05h-1.05zM33 8h1.05v1.05h-1.05zM39 8h1.05v1.05h-1.05zM13 18h1.05v1.05h-1.05zM15 19h1.05v1.05h-1.05zM8 23h1.05v1.05h-1.05z"/>
<path fill="#d0d0d0" d="M42 4h1.05v1.05h-1.05zM31 7h1.05v1.05h-1.05zM32 7h1.05v1.05h-1.05zM39 7h1.05v1.05h-1.05zM31 8h1.05v1.05h-1.05zM32 8h1.05v1.05h-1.05zM30 9h1.05v1.05h-1.05zM31 9h1.05v1.05h-1.05zM32 9h1.05v1.05h-1.05zM33 9h1.05v1.05h-1.05zM31 10h1.05v1.05h-1.05zM32 10h1.05v1.05h-1.05zM8 18h1.05v1.05h-1.05zM7 21h1.05v1.05h-1.05zM15 23h1.05v1.05h-1.05z"/>
<path fill="#d2d2d2" d="M41 4h1.05v1.05h-1.05zM40 9h1.05v1.05h-1.05zM12 18h1.05v1.05h-1.05zM7 20h1.05v1.05h-1.05zM15 20h1.05v1.05h-1.05zM15 21h1.05v1.05h-1.05zM15 22h1.05v1.05h-1.05zM28 23h1.05v1.05h-1.05zM37 23h1.05v1.05h-1.05z"/>
<path fill="#d4d4d4" d="M43 9h1.05v1.05h-1.05zM9 18h1.05v1.05h-1.05zM29 18h1.05v1.05h-1.05zM7 19h1.05v1.05h-1.05zM37 21h1.05v1.05h-1.05zM11 24h1.05v1.05h-1.05zM14 24h1.05v1.05h-1.05z"/>
<path fill="#d6d6d6" d="M41 9h1.05v1.05h-1.05zM42 9h1.05v1.05h-1.05zM10 18h1.05v1.05h-1.05zM11 18h1.05v1.05h-1.05zM14 19h1.05v1.05h-1.05zM27 20h1.05v1.05h-1.05zM37 22h1.05v1.05h-1.05zM29 25h1.05v1.05h-1.05zM30 26h1.05v1.05h-1.05zM32 27h1.05v1.05h-1.05z"/>
<path fill="#d8d8d8" d="M14 20h1.05v1.05h-1.05z"/>
<path fill="#dadada" d="M40 5h1.05v1.05h-1.05zM40 8h1.05v1.05h-1.05zM8 20h1.05v1.05h-1.05zM8 21h1.05v1.05h-1.05zM14 21h1.05v1.05h-1.05zM27 21h1.05v1.05h-1.05zM9 23h1.05v1.05h-1.05zM14 23h1.05v1.05h-1.05zM12 24h1.05v1.05h-1.05zM13 24h1.05v1.05h-1.05z"/>
<path fill="#dcdcdc" d="M43 5h1.05v1.05h-1.05zM43 8h1.05v1.05h-1.05zM35 18h1.05v1.05h-1.05zM8 19h1.05v1.05h-1.05zM13 19h1.05v1.05h-1.05zM28 19h1.05v1.05h-1.05zM8 22h1.05v1.05h-1.05zM14 22h1.05v1.05h-1.05z"/>
<path fill="#dedede" d="M36 19h1.05v1.05h-1.05zM13 20h1.05v1.05h-1.05z"/>
<path fill="#e0e0e0" d="M41 5h1.05v1.05h-1.05zM42 5h1.05v1.05h-1.05zM40 6h1.05v1.05h-1.05zM41 6h1.05v1.05h-1.05zM42 6h1.05v1.05h-1.05zM43 6h1.05v1.05h-1.05zM40 7h1.05v1.05h-1.05zM41 7h1.05v1.05h-1.05zM42 7h1.05v1.05h-1.05zM43 7h1.05v1.05h-1.05zM41 8h1.05v1.05h-1.05zM42 8h1.05v1.05h-1.05zM13 21h1.05v1.05h-1.05zM33 27h1.05v1.05h-1.05zM35 27h1.05v1.05h-1.05z"/>
<path fill="#e2e2e2" d="M9 19h1.05v1.05h-1.05zM12 19h1.05v1.05h-1.05zM9 20h1.05v1.05h-1.05zM10 23h1.05v1.05h-1.05zM29 24h1.05v1.05h-1.05zM36 26h1.05v1.05h-1.05z"/>
<path fill="#e4e4e4" d="M30 18h1.05v1.05h-1.05zM12 20h1.05v1.05h-1.05zM9 21h1.05v1.05h-1.05zM13 22h1.05v1.05h-1.05zM28 22h1.05v1.05h-1.05zM13 23h1.05v1.05h-1.05z"/>
<path fill="#e6e6e6" d="M10 19h1.05v1.05h-1.05zM11 19h1.05v1.05h-1.05zM10 20h1.05v1.05h-1.05zM11 20h1.05v1.05h-1.05zM12 21h1.05v1.05h-1.05zM9 22h1.05v1.05h-1.05zM34 27h1.05v1.05h-1.05z"/>
<path fill="#e8e8e8" d="M34 18h1.05v1.05h-1.05zM10 21h1.05v1.05h-1.05zM11 21h1.05v1.05h-1.05zM10 22h1.05v1.05h-1.05zM11 22h1.05v1.05h-1.05zM12 22h1.05v1.05h-1.05zM11 23h1.05v1.05h-1.05zM12 23h1.05v1.05h-1.05z"/>
<path fill="#eaeaea" d="M31 26h1.05v1.05h-1.05z"/>
<path fill="#eeeeee" d="M31 18h1.05v1.05h-1.05zM29 23h1.05v1.05h-1.05zM30 25h1.05v1.05h-1.05z"/>
<path fill="#f0f0f0" d="M33 18h1.05v1.05h-1.05z"/>
<path fill="#f2f2f2" d="M32 18h1.05v1.05h-1.05zM29 19h1.05v1.05h-1.05zM28 20h1.05v1.05h-1.05z"/>
<path fill="#f4f4f4" d="M36 20h1.05v1.05h-1.05zM28 21h1.05v1.05h-1.05zM36 25h1.05v1.05h-1.05z"/>
<path fill="#fafafa" d="M35 19h1.05v1.05h-1.05z"/>
<path fill="#fcfcfc" d="M29 22h1.05v1.05h-1.05zM36 24h1.05v1.05h-1.05z"/>
<path fill="#fefefe" d="M36 21h1.05v1.05h-1.05zM36 22h1.05v1.05h-1.05zM36 23h1.05v1.05h-1.05zM30 24h1.05v1.05h-1.05zM32 26h1.05v1.05h-1.05z"/>
<path fill="#ffffff" d="M30 19h1.05v1.05h-1.05zM31 19h1.05v1.05h-1.05zM32 19h1.05v1.05h-1.05zM33 19h1.05v1.05h-1.05zM34 19h1.05v1.05h-1.05zM29 20h1.05v1.05h-1.05zM30 20h1.05v1.05h-1.05zM31 20h1.05v1.05h-1.05zM32 20h1.05v1.05h-1.05zM33 20h1.05v1.05h-1.05zM34 20h1.05v1.05h-1.05zM35 20h1.05v1.05h-1.05zM29 21h1.05v1.05h-1.05zM30 21h1.05v1.05h-1.05zM31 21h1.05v1.05h-1.05zM32 21h1.05v1.05h-1.05zM33 21h1.05v1.05h-1.05zM34 21h1.05v1.05h-1.05zM35 21h1.05v1.05h-1.05zM30 22h1.05v1.05h-1.05zM31 22h1.05v1.05h-1.05zM32 22h1.05v1.05h-1.05zM33 22h1.05v1.05h-1.05zM34 22h1.05v1.05h-1.05zM35 22h1.05v1.05h-1.05zM30 23h1.05v1.05h-1.05zM31 23h1.05v1.05h-1.05zM32 23h1.05v1.05h-1.05zM33 23h1.05v1.05h-1.05zM34 23h1.05v1.05h-1.05zM35 23h1.05v1.05h-1.05zM31 24h1.05v1.05h-1.05zM32 24h1.05v1.05h-1.05zM33 24h1.05v1.05h-1.05zM34 24h1.05v1.05h-1.05zM35 24h1.05v1.05h-1.05zM31 25h1.05v1.05h-1.05zM32 25h1.05v1.05h-1.05zM33 25h1.05v1.05h-1.05zM34 25h1.05v1.05h-1.05zM35 25h1.05v1.05h-1.05zM33 26h1.05v1.05h-1.05zM34 26h1.05v1.05h-1.05zM35 26h1.05v1.05h-1.05z"/>
</g>
</g></g>
<rect x="36.1" y="7.1" width="44.9" height="18.6" fill="#fff" fill-opacity="0.82"/>
<text x="42.2" y="19.9" font-size="13"><tspan font-weight="bold">a</tspan> site</text>
<path d="M129.8,4.5 L129.8,100.4 L226.4,100.4" fill="none" stroke="#3a3a3a" stroke-width="1.3" stroke-dasharray="11.8 12" stroke-dashoffset="5.8"/>
<rect x="123.3" y="45.5" width="13.399999999999991" height="13.200000000000003" fill="none" stroke="#000" stroke-width="1.3"/>
<rect x="171.5" y="94" width="14.0" height="13.299999999999997" fill="none" stroke="#000" stroke-width="1.3"/>
<path d="M44.6,190.9 L44.6,173.1 M44.6,190.9 L61.400000000000006,190.9" stroke="#000" stroke-width="1.5" fill="none"/>
<path d="M44.1,161.1 L37.800000000000004,176.79999999999998 L44.6,174.1 L51.2,176.79999999999998Z" fill="#000"/>
<path d="M73.4,190.9 L58.800000000000004,184.5 L61.400000000000006,190.9 L58.800000000000004,197.1Z" fill="#000"/>
<text x="45.6" y="160.6" font-size="12" font-weight="bold" >y</text>
<text x="70.4" y="183.70000000000002" font-size="12" font-weight="bold" >x</text>
<rect x="33.5" y="4.5" width="192.9" height="192.0" fill="none" stroke="#444" stroke-width="1.2"/>
<path d="M33.5,196.5 v-2 M33.5,4.5 v2" stroke="#444" stroke-width="1"/>
<path d="M129.95,196.5 v-2 M129.95,4.5 v2" stroke="#444" stroke-width="1"/>
<path d="M226.4,196.5 v-2 M226.4,4.5 v2" stroke="#444" stroke-width="1"/>
<path d="M33.5,4.5 h2 M226.4,4.5 h-2" stroke="#444" stroke-width="1"/>
<path d="M33.5,100.5 h2 M226.4,100.5 h-2" stroke="#444" stroke-width="1"/>
<path d="M33.5,196.5 h2 M226.4,196.5 h-2" stroke="#444" stroke-width="1"/>
<clipPath id="clipD"><rect x="34.4" y="255.4" width="192.9" height="191.70000000000002"/></clipPath>
<g clip-path="url(#clipD)"><g filter="url(#cmD)">
<g transform="translate(24.755,245.815) scale(4.8225,4.7925)">
<rect x="0" y="0" width="44" height="44" fill="#7b7b7b"/>
<path fill="#000000" d="M32 19h1.05v1.05h-1.05zM33 19h1.05v1.05h-1.05zM30 20h1.05v1.05h-1.05zM31 20h1.05v1.05h-1.05zM32 20h1.05v1.05h-1.05zM33 20h1.05v1.05h-1.05zM34 20h1.05v1.05h-1.05zM29 21h1.05v1.05h-1.05zM30 21h1.05v1.05h-1.05zM31 21h1.05v1.05h-1.05zM32 21h1.05v1.05h-1.05zM33 21h1.05v1.05h-1.05zM34 21h1.05v1.05h-1.05zM29 22h1.05v1.05h-1.05zM30 22h1.05v1.05h-1.05zM31 22h1.05v1.05h-1.05zM32 22h1.05v1.05h-1.05zM33 22h1.05v1.05h-1.05zM34 22h1.05v1.05h-1.05zM29 23h1.05v1.05h-1.05zM30 23h1.05v1.05h-1.05zM31 23h1.05v1.05h-1.05zM32 23h1.05v1.05h-1.05zM33 23h1.05v1.05h-1.05zM29 32h1.05v1.05h-1.05zM30 32h1.05v1.05h-1.05zM31 32h1.05v1.05h-1.05zM32 32h1.05v1.05h-1.05zM29 33h1.05v1.05h-1.05zM30 33h1.05v1.05h-1.05zM31 33h1.05v1.05h-1.05zM32 33h1.05v1.05h-1.05zM33 33h1.05v1.05h-1.05zM28 34h1.05v1.05h-1.05zM29 34h1.05v1.05h-1.05zM30 34h1.05v1.05h-1.05zM31 34h1.05v1.05h-1.05zM32 34h1.05v1.05h-1.05zM33 34h1.05v1.05h-1.05zM34 34h1.05v1.05h-1.05zM28 35h1.05v1.05h-1.05zM29 35h1.05v1.05h-1.05zM30 35h1.05v1.05h-1.05zM31 35h1.05v1.05h-1.05zM32 35h1.05v1.05h-1.05zM33 35h1.05v1.05h-1.05zM34 35h1.05v1.05h-1.05zM28 36h1.05v1.05h-1.05zM29 36h1.05v1.05h-1.05zM30 36h1.05v1.05h-1.05zM31 36h1.05v1.05h-1.05zM32 36h1.05v1.05h-1.05zM33 36h1.05v1.05h-1.05zM34 36h1.05v1.05h-1.05zM28 37h1.05v1.05h-1.05zM29 37h1.05v1.05h-1.05zM30 37h1.05v1.05h-1.05zM31 37h1.05v1.05h-1.05zM32 37h1.05v1.05h-1.05zM33 37h1.05v1.05h-1.05zM29 38h1.05v1.05h-1.05zM30 38h1.05v1.05h-1.05zM31 38h1.05v1.05h-1.05zM32 38h1.05v1.05h-1.05z"/>
<path fill="#020202" d="M31 24h1.05v1.05h-1.05zM33 32h1.05v1.05h-1.05z"/>
<path fill="#040404" d="M31 19h1.05v1.05h-1.05zM29 20h1.05v1.05h-1.05zM35 21h1.05v1.05h-1.05zM30 24h1.05v1.05h-1.05zM28 33h1.05v1.05h-1.05zM34 33h1.05v1.05h-1.05z"/>
<path fill="#060606" d="M35 20h1.05v1.05h-1.05zM32 24h1.05v1.05h-1.05zM28 38h1.05v1.05h-1.05zM33 38h1.05v1.05h-1.05zM30 39h1.05v1.05h-1.05zM31 39h1.05v1.05h-1.05z"/>
<path fill="#080808" d="M28 21h1.05v1.05h-1.05zM28 22h1.05v1.05h-1.05zM31 31h1.05v1.05h-1.05zM34 37h1.05v1.05h-1.05z"/>
<path fill="#0a0a0a" d="M30 19h1.05v1.05h-1.05zM34 19h1.05v1.05h-1.05zM34 23h1.05v1.05h-1.05zM30 31h1.05v1.05h-1.05z"/>
<path fill="#0c0c0c" d="M29 24h1.05v1.05h-1.05zM35 35h1.05v1.05h-1.05zM29 39h1.05v1.05h-1.05zM32 39h1.05v1.05h-1.05z"/>
<path fill="#0e0e0e" d="M28 20h1.05v1.05h-1.05zM35 22h1.05v1.05h-1.05zM28 23h1.05v1.05h-1.05zM33 24h1.05v1.05h-1.05zM35 36h1.05v1.05h-1.05z"/>
<path fill="#101010" d="M29 19h1.05v1.05h-1.05zM35 34h1.05v1.05h-1.05z"/>
<path fill="#121212" d="M32 31h1.05v1.05h-1.05z"/>
<path fill="#141414" d="M34 38h1.05v1.05h-1.05zM33 39h1.05v1.05h-1.05z"/>
<path fill="#161616" d="M36 20h1.05v1.05h-1.05zM36 21h1.05v1.05h-1.05zM28 32h1.05v1.05h-1.05zM34 32h1.05v1.05h-1.05zM35 37h1.05v1.05h-1.05zM28 39h1.05v1.05h-1.05zM30 40h1.05v1.05h-1.05zM31 40h1.05v1.05h-1.05z"/>
<path fill="#181818" d="M32 18h1.05v1.05h-1.05zM33 18h1.05v1.05h-1.05zM35 19h1.05v1.05h-1.05zM29 31h1.05v1.05h-1.05zM35 33h1.05v1.05h-1.05zM27 37h1.05v1.05h-1.05zM27 38h1.05v1.05h-1.05zM30 43h1.05v1.05h-1.05zM31 43h1.05v1.05h-1.05z"/>
<path fill="#1a1a1a" d="M28 19h1.05v1.05h-1.05zM27 21h1.05v1.05h-1.05zM36 35h1.05v1.05h-1.05zM32 40h1.05v1.05h-1.05zM31 42h1.05v1.05h-1.05zM32 43h1.05v1.05h-1.05z"/>
<path fill="#1c1c1c" d="M31 18h1.05v1.05h-1.05zM27 22h1.05v1.05h-1.05zM28 24h1.05v1.05h-1.05zM34 24h1.05v1.05h-1.05zM27 36h1.05v1.05h-1.05zM36 36h1.05v1.05h-1.05zM29 40h1.05v1.05h-1.05zM30 41h1.05v1.05h-1.05zM31 41h1.05v1.05h-1.05zM30 42h1.05v1.05h-1.05z"/>
<path fill="#1e1e1e" d="M27 20h1.05v1.05h-1.05zM35 23h1.05v1.05h-1.05zM31 25h1.05v1.05h-1.05zM36 34h1.05v1.05h-1.05zM34 39h1.05v1.05h-1.05zM32 41h1.05v1.05h-1.05zM32 42h1.05v1.05h-1.05zM29 43h1.05v1.05h-1.05z"/>
<path fill="#202020" d="M30 18h1.05v1.05h-1.05zM18 22h1.05v1.05h-1.05zM19 22h1.05v1.05h-1.05zM19 23h1.05v1.05h-1.05zM30 25h1.05v1.05h-1.05zM33 31h1.05v1.05h-1.05zM35 38h1.05v1.05h-1.05zM27 39h1.05v1.05h-1.05zM33 40h1.05v1.05h-1.05zM29 42h1.05v1.05h-1.05z"/>
<path fill="#222222" d="M34 18h1.05v1.05h-1.05zM18 23h1.05v1.05h-1.05zM32 25h1.05v1.05h-1.05zM27 35h1.05v1.05h-1.05zM36 37h1.05v1.05h-1.05zM29 41h1.05v1.05h-1.05zM33 43h1.05v1.05h-1.05z"/>
<path fill="#242424" d="M20 23h1.05v1.05h-1.05zM27 23h1.05v1.05h-1.05zM37 35h1.05v1.05h-1.05zM28 40h1.05v1.05h-1.05zM33 41h1.05v1.05h-1.05zM33 42h1.05v1.05h-1.05z"/>
<path fill="#262626" d="M29 18h1.05v1.05h-1.05zM17 22h1.05v1.05h-1.05zM36 22h1.05v1.05h-1.05zM29 25h1.05v1.05h-1.05zM36 33h1.05v1.05h-1.05zM27 34h1.05v1.05h-1.05zM37 36h1.05v1.05h-1.05zM28 43h1.05v1.05h-1.05z"/>
<path fill="#282828" d="M27 19h1.05v1.05h-1.05zM36 19h1.05v1.05h-1.05zM13 20h1.05v1.05h-1.05zM14 20h1.05v1.05h-1.05zM37 20h1.05v1.05h-1.05zM20 22h1.05v1.05h-1.05zM35 32h1.05v1.05h-1.05zM37 34h1.05v1.05h-1.05zM35 39h1.05v1.05h-1.05zM34 40h1.05v1.05h-1.05zM28 41h1.05v1.05h-1.05zM28 42h1.05v1.05h-1.05zM34 43h1.05v1.05h-1.05z"/>
<path fill="#2a2a2a" d="M13 21h1.05v1.05h-1.05zM14 21h1.05v1.05h-1.05zM16 22h1.05v1.05h-1.05zM17 23h1.05v1.05h-1.05zM33 25h1.05v1.05h-1.05zM36 38h1.05v1.05h-1.05zM27 40h1.05v1.05h-1.05zM34 41h1.05v1.05h-1.05zM34 42h1.05v1.05h-1.05z"/>
<path fill="#2c2c2c" d="M12 21h1.05v1.05h-1.05zM15 21h1.05v1.05h-1.05zM15 22h1.05v1.05h-1.05zM30 30h1.05v1.05h-1.05zM31 30h1.05v1.05h-1.05zM27 33h1.05v1.05h-1.05zM37 37h1.05v1.05h-1.05zM27 43h1.05v1.05h-1.05z"/>
<path fill="#2e2e2e" d="M28 18h1.05v1.05h-1.05zM35 18h1.05v1.05h-1.05zM13 19h1.05v1.05h-1.05zM12 20h1.05v1.05h-1.05zM37 21h1.05v1.05h-1.05zM11 22h1.05v1.05h-1.05zM16 23h1.05v1.05h-1.05zM34 31h1.05v1.05h-1.05zM36 39h1.05v1.05h-1.05zM35 40h1.05v1.05h-1.05zM27 41h1.05v1.05h-1.05zM27 42h1.05v1.05h-1.05zM35 43h1.05v1.05h-1.05z"/>
<path fill="#303030" d="M14 19h1.05v1.05h-1.05zM15 20h1.05v1.05h-1.05zM16 21h1.05v1.05h-1.05zM10 22h1.05v1.05h-1.05zM12 22h1.05v1.05h-1.05zM14 22h1.05v1.05h-1.05zM28 31h1.05v1.05h-1.05zM37 33h1.05v1.05h-1.05zM18 38h1.05v1.05h-1.05zM19 38h1.05v1.05h-1.05zM20 38h1.05v1.05h-1.05zM18 39h1.05v1.05h-1.05zM19 39h1.05v1.05h-1.05zM20 39h1.05v1.05h-1.05zM26 39h1.05v1.05h-1.05zM35 41h1.05v1.05h-1.05zM35 42h1.05v1.05h-1.05z"/>
<path fill="#323232" d="M11 21h1.05v1.05h-1.05zM13 22h1.05v1.05h-1.05zM10 23h1.05v1.05h-1.05zM15 23h1.05v1.05h-1.05zM27 24h1.05v1.05h-1.05zM35 24h1.05v1.05h-1.05zM36 32h1.05v1.05h-1.05zM26 38h1.05v1.05h-1.05zM37 38h1.05v1.05h-1.05zM36 40h1.05v1.05h-1.05zM36 41h1.05v1.05h-1.05zM36 42h1.05v1.05h-1.05zM36 43h1.05v1.05h-1.05z"/>
<path fill="#343434" d="M26 20h1.05v1.05h-1.05zM26 21h1.05v1.05h-1.05zM11 23h1.05v1.05h-1.05zM28 25h1.05v1.05h-1.05zM34 25h1.05v1.05h-1.05zM38 35h1.05v1.05h-1.05zM37 39h1.05v1.05h-1.05zM19 40h1.05v1.05h-1.05zM26 40h1.05v1.05h-1.05zM37 40h1.05v1.05h-1.05zM37 41h1.05v1.05h-1.05zM26 42h1.05v1.05h-1.05zM37 42h1.05v1.05h-1.05zM26 43h1.05v1.05h-1.05zM37 43h1.05v1.05h-1.05z"/>
<path fill="#363636" d="M12 19h1.05v1.05h-1.05zM17 21h1.05v1.05h-1.05zM38 34h1.05v1.05h-1.05zM38 36h1.05v1.05h-1.05zM26 41h1.05v1.05h-1.05z"/>
<path fill="#383838" d="M5 8h1.05v1.05h-1.05zM6 8h1.05v1.05h-1.05zM15 19h1.05v1.05h-1.05zM37 19h1.05v1.05h-1.05zM26 22h1.05v1.05h-1.05zM12 23h1.05v1.05h-1.05zM14 23h1.05v1.05h-1.05zM32 30h1.05v1.05h-1.05zM37 32h1.05v1.05h-1.05zM38 33h1.05v1.05h-1.05zM38 37h1.05v1.05h-1.05zM17 38h1.05v1.05h-1.05zM38 41h1.05v1.05h-1.05z"/>
<path fill="#3a3a3a" d="M13 18h1.05v1.05h-1.05zM14 18h1.05v1.05h-1.05zM27 18h1.05v1.05h-1.05zM16 20h1.05v1.05h-1.05zM9 22h1.05v1.05h-1.05zM9 23h1.05v1.05h-1.05zM13 23h1.05v1.05h-1.05zM29 30h1.05v1.05h-1.05zM35 31h1.05v1.05h-1.05zM18 37h1.05v1.05h-1.05zM19 37h1.05v1.05h-1.05zM38 38h1.05v1.05h-1.05zM38 39h1.05v1.05h-1.05zM20 40h1.05v1.05h-1.05zM38 40h1.05v1.05h-1.05zM38 42h1.05v1.05h-1.05zM38 43h1.05v1.05h-1.05z"/>
<path fill="#3c3c3c" d="M6 7h1.05v1.05h-1.05zM33 17h1.05v1.05h-1.05zM26 19h1.05v1.05h-1.05zM11 20h1.05v1.05h-1.05zM18 21h1.05v1.05h-1.05zM36 23h1.05v1.05h-1.05zM15 24h1.05v1.05h-1.05zM27 32h1.05v1.05h-1.05zM17 37h1.05v1.05h-1.05zM26 37h1.05v1.05h-1.05zM18 40h1.05v1.05h-1.05z"/>
<path fill="#3e3e3e" d="M5 9h1.05v1.05h-1.05zM32 17h1.05v1.05h-1.05zM34 17h1.05v1.05h-1.05zM36 18h1.05v1.05h-1.05zM38 20h1.05v1.05h-1.05zM10 21h1.05v1.05h-1.05zM14 24h1.05v1.05h-1.05zM16 24h1.05v1.05h-1.05zM38 32h1.05v1.05h-1.05zM17 39h1.05v1.05h-1.05z"/>
<path fill="#404040" d="M13 5h1.05v1.05h-1.05zM14 5h1.05v1.05h-1.05zM5 7h1.05v1.05h-1.05zM7 7h1.05v1.05h-1.05zM29 7h1.05v1.05h-1.05zM29 8h1.05v1.05h-1.05zM30 8h1.05v1.05h-1.05zM28 9h1.05v1.05h-1.05zM29 9h1.05v1.05h-1.05zM30 9h1.05v1.05h-1.05zM28 10h1.05v1.05h-1.05zM29 10h1.05v1.05h-1.05zM30 10h1.05v1.05h-1.05zM29 11h1.05v1.05h-1.05zM30 11h1.05v1.05h-1.05zM29 12h1.05v1.05h-1.05zM36 31h1.05v1.05h-1.05zM39 40h1.05v1.05h-1.05zM18 41h1.05v1.05h-1.05zM19 41h1.05v1.05h-1.05zM20 41h1.05v1.05h-1.05zM39 41h1.05v1.05h-1.05zM18 42h1.05v1.05h-1.05zM19 42h1.05v1.05h-1.05zM20 42h1.05v1.05h-1.05zM39 42h1.05v1.05h-1.05zM18 43h1.05v1.05h-1.05zM19 43h1.05v1.05h-1.05zM20 43h1.05v1.05h-1.05zM39 43h1.05v1.05h-1.05z"/>
<path fill="#424242" d="M13 6h1.05v1.05h-1.05zM14 6h1.05v1.05h-1.05zM4 8h1.05v1.05h-1.05zM7 8h1.05v1.05h-1.05zM28 8h1.05v1.05h-1.05zM28 11h1.05v1.05h-1.05zM31 17h1.05v1.05h-1.05zM15 18h1.05v1.05h-1.05zM13 24h1.05v1.05h-1.05zM37 31h1.05v1.05h-1.05zM16 37h1.05v1.05h-1.05zM39 39h1.05v1.05h-1.05z"/>
<path fill="#444444" d="M14 4h1.05v1.05h-1.05zM15 5h1.05v1.05h-1.05zM6 9h1.05v1.05h-1.05zM35 17h1.05v1.05h-1.05zM16 19h1.05v1.05h-1.05zM37 22h1.05v1.05h-1.05zM26 23h1.05v1.05h-1.05zM12 24h1.05v1.05h-1.05zM17 24h1.05v1.05h-1.05zM15 25h1.05v1.05h-1.05zM33 30h1.05v1.05h-1.05zM38 31h1.05v1.05h-1.05zM39 33h1.05v1.05h-1.05zM16 36h1.05v1.05h-1.05zM16 38h1.05v1.05h-1.05zM39 38h1.05v1.05h-1.05zM25 41h1.05v1.05h-1.05zM25 42h1.05v1.05h-1.05z"/>
<path fill="#464646" d="M15 4h1.05v1.05h-1.05zM12 5h1.05v1.05h-1.05zM12 6h1.05v1.05h-1.05zM28 7h1.05v1.05h-1.05zM30 7h1.05v1.05h-1.05zM14 17h1.05v1.05h-1.05zM12 18h1.05v1.05h-1.05zM19 21h1.05v1.05h-1.05zM38 21h1.05v1.05h-1.05zM11 24h1.05v1.05h-1.05zM14 25h1.05v1.05h-1.05zM35 25h1.05v1.05h-1.05zM30 26h1.05v1.05h-1.05zM31 26h1.05v1.05h-1.05zM39 32h1.05v1.05h-1.05zM39 34h1.05v1.05h-1.05zM17 40h1.05v1.05h-1.05zM25 40h1.05v1.05h-1.05zM40 40h1.05v1.05h-1.05zM40 41h1.05v1.05h-1.05zM40 42h1.05v1.05h-1.05zM25 43h1.05v1.05h-1.05zM40 43h1.05v1.05h-1.05z"/>
<path fill="#484848" d="M26 0h1.05v1.05h-1.05zM27 0h1.05v1.05h-1.05zM26 1h1.05v1.05h-1.05zM27 1h1.05v1.05h-1.05zM26 2h1.05v1.05h-1.05zM27 2h1.05v1.05h-1.05zM26 3h1.05v1.05h-1.05zM27 3h1.05v1.05h-1.05zM13 4h1.05v1.05h-1.05zM26 4h1.05v1.05h-1.05zM27 4h1.05v1.05h-1.05zM7 6h1.05v1.05h-1.05zM8 7h1.05v1.05h-1.05zM4 9h1.05v1.05h-1.05zM28 12h1.05v1.05h-1.05zM30 12h1.05v1.05h-1.05zM30 17h1.05v1.05h-1.05zM17 20h1.05v1.05h-1.05zM18 24h1.05v1.05h-1.05zM27 25h1.05v1.05h-1.05zM37 30h1.05v1.05h-1.05zM38 30h1.05v1.05h-1.05zM15 33h1.05v1.05h-1.05zM15 34h1.05v1.05h-1.05zM20 37h1.05v1.05h-1.05zM39 37h1.05v1.05h-1.05zM40 39h1.05v1.05h-1.05zM42 40h1.05v1.05h-1.05zM43 40h1.05v1.05h-1.05zM41 41h1.05v1.05h-1.05zM42 41h1.05v1.05h-1.05zM43 41h1.05v1.05h-1.05zM41 42h1.05v1.05h-1.05zM42 42h1.05v1.05h-1.05zM43 42h1.05v1.05h-1.05zM17 43h1.05v1.05h-1.05zM41 43h1.05v1.05h-1.05zM42 43h1.05v1.05h-1.05zM43 43h1.05v1.05h-1.05z"/>
<path fill="#4a4a4a" d="M28 0h1.05v1.05h-1.05zM28 1h1.05v1.05h-1.05zM28 2h1.05v1.05h-1.05zM6 6h1.05v1.05h-1.05zM8 6h1.05v1.05h-1.05zM15 6h1.05v1.05h-1.05zM4 7h1.05v1.05h-1.05zM13 17h1.05v1.05h-1.05zM11 19h1.05v1.05h-1.05zM10 24h1.05v1.05h-1.05zM19 24h1.05v1.05h-1.05zM15 26h1.05v1.05h-1.05zM32 26h1.05v1.05h-1.05zM34 30h1.05v1.05h-1.05zM36 30h1.05v1.05h-1.05zM39 31h1.05v1.05h-1.05zM15 32h1.05v1.05h-1.05zM15 35h1.05v1.05h-1.05zM16 35h1.05v1.05h-1.05zM39 35h1.05v1.05h-1.05zM39 36h1.05v1.05h-1.05zM25 39h1.05v1.05h-1.05zM42 39h1.05v1.05h-1.05zM43 39h1.05v1.05h-1.05zM41 40h1.05v1.05h-1.05zM17 41h1.05v1.05h-1.05zM17 42h1.05v1.05h-1.05z"/>
<path fill="#4c4c4c" d="M28 3h1.05v1.05h-1.05zM27 5h1.05v1.05h-1.05zM11 6h1.05v1.05h-1.05zM13 7h1.05v1.05h-1.05zM15 17h1.05v1.05h-1.05zM29 17h1.05v1.05h-1.05zM26 18h1.05v1.05h-1.05zM38 19h1.05v1.05h-1.05zM8 23h1.05v1.05h-1.05zM29 26h1.05v1.05h-1.05zM38 29h1.05v1.05h-1.05zM39 29h1.05v1.05h-1.05zM35 30h1.05v1.05h-1.05zM39 30h1.05v1.05h-1.05zM15 36h1.05v1.05h-1.05zM17 36h1.05v1.05h-1.05zM40 38h1.05v1.05h-1.05zM16 39h1.05v1.05h-1.05zM21 39h1.05v1.05h-1.05zM41 39h1.05v1.05h-1.05z"/>
<path fill="#4e4e4e" d="M14 0h1.05v1.05h-1.05zM15 0h1.05v1.05h-1.05zM14 3h1.05v1.05h-1.05zM15 3h1.05v1.05h-1.05zM11 5h1.05v1.05h-1.05zM9 6h1.05v1.05h-1.05zM28 6h1.05v1.05h-1.05zM9 7h1.05v1.05h-1.05zM3 8h1.05v1.05h-1.05zM8 8h1.05v1.05h-1.05zM36 17h1.05v1.05h-1.05zM16 18h1.05v1.05h-1.05zM37 18h1.05v1.05h-1.05zM25 20h1.05v1.05h-1.05zM8 22h1.05v1.05h-1.05zM33 26h1.05v1.05h-1.05zM15 27h1.05v1.05h-1.05zM37 29h1.05v1.05h-1.05zM40 29h1.05v1.05h-1.05zM40 30h1.05v1.05h-1.05zM15 31h1.05v1.05h-1.05zM40 31h1.05v1.05h-1.05zM40 32h1.05v1.05h-1.05zM16 34h1.05v1.05h-1.05zM26 36h1.05v1.05h-1.05zM43 38h1.05v1.05h-1.05zM21 40h1.05v1.05h-1.05z"/>
<path fill="#505050" d="M14 1h1.05v1.05h-1.05zM15 1h1.05v1.05h-1.05zM15 2h1.05v1.05h-1.05zM12 4h1.05v1.05h-1.05zM28 4h1.05v1.05h-1.05zM26 5h1.05v1.05h-1.05zM5 6h1.05v1.05h-1.05zM10 6h1.05v1.05h-1.05zM29 6h1.05v1.05h-1.05zM12 7h1.05v1.05h-1.05zM14 7h1.05v1.05h-1.05zM0 8h1.05v1.05h-1.05zM31 9h1.05v1.05h-1.05zM28 17h1.05v1.05h-1.05zM9 21h1.05v1.05h-1.05zM36 24h1.05v1.05h-1.05zM13 25h1.05v1.05h-1.05zM16 25h1.05v1.05h-1.05zM15 28h1.05v1.05h-1.05zM15 29h1.05v1.05h-1.05zM41 29h1.05v1.05h-1.05zM42 29h1.05v1.05h-1.05zM43 29h1.05v1.05h-1.05zM15 30h1.05v1.05h-1.05zM41 30h1.05v1.05h-1.05zM42 30h1.05v1.05h-1.05zM43 30h1.05v1.05h-1.05zM41 31h1.05v1.05h-1.05zM42 31h1.05v1.05h-1.05zM43 31h1.05v1.05h-1.05zM41 32h1.05v1.05h-1.05zM42 32h1.05v1.05h-1.05zM43 32h1.05v1.05h-1.05zM40 33h1.05v1.05h-1.05zM43 33h1.05v1.05h-1.05zM15 37h1.05v1.05h-1.05zM41 38h1.05v1.05h-1.05zM42 38h1.05v1.05h-1.05zM21 43h1.05v1.05h-1.05z"/>
<path fill="#525252" d="M14 2h1.05v1.05h-1.05zM7 5h1.05v1.05h-1.05zM8 5h1.05v1.05h-1.05zM9 5h1.05v1.05h-1.05zM10 5h1.05v1.05h-1.05zM28 5h1.05v1.05h-1.05zM27 6h1.05v1.05h-1.05zM0 7h1.05v1.05h-1.05zM3 7h1.05v1.05h-1.05zM1 8h1.05v1.05h-1.05zM2 8h1.05v1.05h-1.05zM31 8h1.05v1.05h-1.05zM10 20h1.05v1.05h-1.05zM26 24h1.05v1.05h-1.05zM14 26h1.05v1.05h-1.05zM34 26h1.05v1.05h-1.05zM36 29h1.05v1.05h-1.05zM28 30h1.05v1.05h-1.05zM27 31h1.05v1.05h-1.05zM42 33h1.05v1.05h-1.05zM21 41h1.05v1.05h-1.05zM21 42h1.05v1.05h-1.05z"/>
<path fill="#545454" d="M25 0h1.05v1.05h-1.05zM25 1h1.05v1.05h-1.05zM25 2h1.05v1.05h-1.05zM13 3h1.05v1.05h-1.05zM25 3h1.05v1.05h-1.05zM1 7h1.05v1.05h-1.05zM11 7h1.05v1.05h-1.05zM3 9h1.05v1.05h-1.05zM31 10h1.05v1.05h-1.05zM17 19h1.05v1.05h-1.05zM25 19h1.05v1.05h-1.05zM39 20h1.05v1.05h-1.05zM25 21h1.05v1.05h-1.05zM21 22h1.05v1.05h-1.05zM9 24h1.05v1.05h-1.05zM37 28h1.05v1.05h-1.05zM38 28h1.05v1.05h-1.05zM39 28h1.05v1.05h-1.05zM40 28h1.05v1.05h-1.05zM41 28h1.05v1.05h-1.05zM42 28h1.05v1.05h-1.05zM43 28h1.05v1.05h-1.05zM30 29h1.05v1.05h-1.05zM16 33h1.05v1.05h-1.05zM41 33h1.05v1.05h-1.05zM40 37h1.05v1.05h-1.05zM21 38h1.05v1.05h-1.05zM16 40h1.05v1.05h-1.05zM16 43h1.05v1.05h-1.05z"/>
<path fill="#565656" d="M6 0h1.05v1.05h-1.05zM7 0h1.05v1.05h-1.05zM13 0h1.05v1.05h-1.05zM16 0h1.05v1.05h-1.05zM6 1h1.05v1.05h-1.05zM7 1h1.05v1.05h-1.05zM16 1h1.05v1.05h-1.05zM6 2h1.05v1.05h-1.05zM7 2h1.05v1.05h-1.05zM16 2h1.05v1.05h-1.05zM6 3h1.05v1.05h-1.05zM7 3h1.05v1.05h-1.05zM16 3h1.05v1.05h-1.05zM7 4h1.05v1.05h-1.05zM8 4h1.05v1.05h-1.05zM16 4h1.05v1.05h-1.05zM25 4h1.05v1.05h-1.05zM6 5h1.05v1.05h-1.05zM16 5h1.05v1.05h-1.05zM4 6h1.05v1.05h-1.05zM2 7h1.05v1.05h-1.05zM10 7h1.05v1.05h-1.05zM15 7h1.05v1.05h-1.05zM0 9h1.05v1.05h-1.05zM7 9h1.05v1.05h-1.05zM5 10h1.05v1.05h-1.05zM14 16h1.05v1.05h-1.05zM20 21h1.05v1.05h-1.05zM21 23h1.05v1.05h-1.05zM35 26h1.05v1.05h-1.05zM31 29h1.05v1.05h-1.05zM40 34h1.05v1.05h-1.05zM18 36h1.05v1.05h-1.05zM43 37h1.05v1.05h-1.05zM15 38h1.05v1.05h-1.05zM25 38h1.05v1.05h-1.05zM16 42h1.05v1.05h-1.05z"/>
<path fill="#585858" d="M0 0h1.05v1.05h-1.05zM1 0h1.05v1.05h-1.05zM2 0h1.05v1.05h-1.05zM3 0h1.05v1.05h-1.05zM4 0h1.05v1.05h-1.05zM5 0h1.05v1.05h-1.05zM0 1h1.05v1.05h-1.05zM1 1h1.05v1.05h-1.05zM2 1h1.05v1.05h-1.05zM3 1h1.05v1.05h-1.05zM4 1h1.05v1.05h-1.05zM5 1h1.05v1.05h-1.05zM13 1h1.05v1.05h-1.05zM0 2h1.05v1.05h-1.05zM1 2h1.05v1.05h-1.05zM2 2h1.05v1.05h-1.05zM3 2h1.05v1.05h-1.05zM4 2h1.05v1.05h-1.05zM5 2h1.05v1.05h-1.05zM13 2h1.05v1.05h-1.05zM0 3h1.05v1.05h-1.05zM1 3h1.05v1.05h-1.05zM2 3h1.05v1.05h-1.05zM3 3h1.05v1.05h-1.05zM5 3h1.05v1.05h-1.05zM8 3h1.05v1.05h-1.05zM6 4h1.05v1.05h-1.05zM11 4h1.05v1.05h-1.05zM30 6h1.05v1.05h-1.05zM1 9h1.05v1.05h-1.05zM4 10h1.05v1.05h-1.05zM31 11h1.05v1.05h-1.05zM28 13h1.05v1.05h-1.05zM29 13h1.05v1.05h-1.05zM15 16h1.05v1.05h-1.05zM35 16h1.05v1.05h-1.05zM16 17h1.05v1.05h-1.05zM27 17h1.05v1.05h-1.05zM28 26h1.05v1.05h-1.05zM36 28h1.05v1.05h-1.05zM16 32h1.05v1.05h-1.05zM43 34h1.05v1.05h-1.05zM41 37h1.05v1.05h-1.05zM42 37h1.05v1.05h-1.05zM16 41h1.05v1.05h-1.05z"/>
<path fill="#5a5a5a" d="M8 0h1.05v1.05h-1.05zM29 0h1.05v1.05h-1.05zM8 1h1.05v1.05h-1.05zM29 1h1.05v1.05h-1.05zM8 2h1.05v1.05h-1.05zM29 2h1.05v1.05h-1.05zM4 3h1.05v1.05h-1.05zM29 3h1.05v1.05h-1.05zM9 4h1.05v1.05h-1.05zM5 5h1.05v1.05h-1.05zM29 5h1.05v1.05h-1.05zM3 6h1.05v1.05h-1.05zM16 6h1.05v1.05h-1.05zM27 7h1.05v1.05h-1.05zM31 7h1.05v1.05h-1.05zM13 8h1.05v1.05h-1.05zM2 9h1.05v1.05h-1.05zM30 13h1.05v1.05h-1.05zM34 16h1.05v1.05h-1.05zM12 17h1.05v1.05h-1.05zM18 20h1.05v1.05h-1.05zM20 24h1.05v1.05h-1.05zM12 25h1.05v1.05h-1.05zM16 26h1.05v1.05h-1.05zM35 29h1.05v1.05h-1.05zM40 36h1.05v1.05h-1.05z"/>
<path fill="#5c5c5c" d="M12 3h1.05v1.05h-1.05zM5 4h1.05v1.05h-1.05zM10 4h1.05v1.05h-1.05zM29 4h1.05v1.05h-1.05zM0 6h1.05v1.05h-1.05zM1 6h1.05v1.05h-1.05zM2 6h1.05v1.05h-1.05zM9 8h1.05v1.05h-1.05zM14 8h1.05v1.05h-1.05zM31 12h1.05v1.05h-1.05zM36 16h1.05v1.05h-1.05zM37 17h1.05v1.05h-1.05zM11 18h1.05v1.05h-1.05zM17 18h1.05v1.05h-1.05zM41 34h1.05v1.05h-1.05zM42 34h1.05v1.05h-1.05zM17 35h1.05v1.05h-1.05zM26 35h1.05v1.05h-1.05zM40 35h1.05v1.05h-1.05zM15 39h1.05v1.05h-1.05zM24 41h1.05v1.05h-1.05zM24 42h1.05v1.05h-1.05z"/>
<path fill="#5e5e5e" d="M12 0h1.05v1.05h-1.05zM17 2h1.05v1.05h-1.05zM0 4h1.05v1.05h-1.05zM1 4h1.05v1.05h-1.05zM2 4h1.05v1.05h-1.05zM3 4h1.05v1.05h-1.05zM4 4h1.05v1.05h-1.05zM4 5h1.05v1.05h-1.05zM12 8h1.05v1.05h-1.05zM39 19h1.05v1.05h-1.05zM39 21h1.05v1.05h-1.05zM37 23h1.05v1.05h-1.05zM36 25h1.05v1.05h-1.05zM14 27h1.05v1.05h-1.05zM16 27h1.05v1.05h-1.05zM36 27h1.05v1.05h-1.05zM16 31h1.05v1.05h-1.05zM43 35h1.05v1.05h-1.05zM43 36h1.05v1.05h-1.05zM24 43h1.05v1.05h-1.05z"/>
<path fill="#606060" d="M9 0h1.05v1.05h-1.05zM12 1h1.05v1.05h-1.05zM17 1h1.05v1.05h-1.05zM9 3h1.05v1.05h-1.05zM0 5h1.05v1.05h-1.05zM1 5h1.05v1.05h-1.05zM2 5h1.05v1.05h-1.05zM3 5h1.05v1.05h-1.05zM26 6h1.05v1.05h-1.05zM16 7h1.05v1.05h-1.05zM15 8h1.05v1.05h-1.05zM27 8h1.05v1.05h-1.05zM13 16h1.05v1.05h-1.05zM33 16h1.05v1.05h-1.05zM25 18h1.05v1.05h-1.05zM38 18h1.05v1.05h-1.05zM25 22h1.05v1.05h-1.05zM35 27h1.05v1.05h-1.05zM16 28h1.05v1.05h-1.05zM26 34h1.05v1.05h-1.05zM41 35h1.05v1.05h-1.05zM42 35h1.05v1.05h-1.05zM41 36h1.05v1.05h-1.05zM42 36h1.05v1.05h-1.05zM24 40h1.05v1.05h-1.05z"/>
<path fill="#626262" d="M17 0h1.05v1.05h-1.05zM9 1h1.05v1.05h-1.05zM9 2h1.05v1.05h-1.05zM12 2h1.05v1.05h-1.05zM17 3h1.05v1.05h-1.05zM25 5h1.05v1.05h-1.05zM11 8h1.05v1.05h-1.05zM3 10h1.05v1.05h-1.05zM6 10h1.05v1.05h-1.05zM26 17h1.05v1.05h-1.05zM38 22h1.05v1.05h-1.05zM36 26h1.05v1.05h-1.05zM37 27h1.05v1.05h-1.05zM35 28h1.05v1.05h-1.05zM16 29h1.05v1.05h-1.05zM29 29h1.05v1.05h-1.05zM32 29h1.05v1.05h-1.05zM16 30h1.05v1.05h-1.05zM19 36h1.05v1.05h-1.05zM15 40h1.05v1.05h-1.05zM15 43h1.05v1.05h-1.05z"/>
<path fill="#646464" d="M11 3h1.05v1.05h-1.05zM10 8h1.05v1.05h-1.05zM16 8h1.05v1.05h-1.05zM14 9h1.05v1.05h-1.05zM15 9h1.05v1.05h-1.05zM27 9h1.05v1.05h-1.05zM0 10h1.05v1.05h-1.05zM1 10h1.05v1.05h-1.05zM27 10h1.05v1.05h-1.05zM27 11h1.05v1.05h-1.05zM16 16h1.05v1.05h-1.05zM37 16h1.05v1.05h-1.05zM10 19h1.05v1.05h-1.05zM40 20h1.05v1.05h-1.05zM8 24h1.05v1.05h-1.05zM11 25h1.05v1.05h-1.05zM26 25h1.05v1.05h-1.05zM27 26h1.05v1.05h-1.05zM34 29h1.05v1.05h-1.05zM14 31h1.05v1.05h-1.05zM14 32h1.05v1.05h-1.05zM14 33h1.05v1.05h-1.05zM26 33h1.05v1.05h-1.05zM14 34h1.05v1.05h-1.05zM14 35h1.05v1.05h-1.05zM15 41h1.05v1.05h-1.05zM15 42h1.05v1.05h-1.05z"/>
<path fill="#666666" d="M10 0h1.05v1.05h-1.05zM11 0h1.05v1.05h-1.05zM10 3h1.05v1.05h-1.05zM30 5h1.05v1.05h-1.05zM2 10h1.05v1.05h-1.05zM27 12h1.05v1.05h-1.05zM32 16h1.05v1.05h-1.05zM17 25h1.05v1.05h-1.05zM13 26h1.05v1.05h-1.05zM14 28h1.05v1.05h-1.05zM14 30h1.05v1.05h-1.05zM14 36h1.05v1.05h-1.05zM22 41h1.05v1.05h-1.05zM22 42h1.05v1.05h-1.05z"/>
<path fill="#686868" d="M10 1h1.05v1.05h-1.05zM11 1h1.05v1.05h-1.05zM18 1h1.05v1.05h-1.05zM19 1h1.05v1.05h-1.05zM10 2h1.05v1.05h-1.05zM11 2h1.05v1.05h-1.05zM18 2h1.05v1.05h-1.05zM19 2h1.05v1.05h-1.05zM20 2h1.05v1.05h-1.05zM31 6h1.05v1.05h-1.05zM8 9h1.05v1.05h-1.05zM13 9h1.05v1.05h-1.05zM16 9h1.05v1.05h-1.05zM31 13h1.05v1.05h-1.05zM17 17h1.05v1.05h-1.05zM43 20h1.05v1.05h-1.05zM8 21h1.05v1.05h-1.05zM30 27h1.05v1.05h-1.05zM38 27h1.05v1.05h-1.05zM39 27h1.05v1.05h-1.05zM40 27h1.05v1.05h-1.05zM41 27h1.05v1.05h-1.05zM42 27h1.05v1.05h-1.05zM43 27h1.05v1.05h-1.05zM14 29h1.05v1.05h-1.05zM22 40h1.05v1.05h-1.05zM22 43h1.05v1.05h-1.05z"/>
<path fill="#6a6a6a" d="M18 0h1.05v1.05h-1.05zM24 0h1.05v1.05h-1.05zM20 1h1.05v1.05h-1.05zM24 1h1.05v1.05h-1.05zM24 2h1.05v1.05h-1.05zM17 4h1.05v1.05h-1.05zM18 19h1.05v1.05h-1.05zM24 20h1.05v1.05h-1.05zM41 20h1.05v1.05h-1.05zM42 20h1.05v1.05h-1.05zM7 23h1.05v1.05h-1.05zM31 27h1.05v1.05h-1.05zM34 27h1.05v1.05h-1.05zM33 29h1.05v1.05h-1.05zM27 30h1.05v1.05h-1.05zM17 34h1.05v1.05h-1.05zM14 37h1.05v1.05h-1.05z"/>
<path fill="#6c6c6c" d="M19 0h1.05v1.05h-1.05zM30 0h1.05v1.05h-1.05zM30 1h1.05v1.05h-1.05zM30 2h1.05v1.05h-1.05zM18 3h1.05v1.05h-1.05zM24 3h1.05v1.05h-1.05zM30 3h1.05v1.05h-1.05zM30 4h1.05v1.05h-1.05zM15 10h1.05v1.05h-1.05zM15 15h1.05v1.05h-1.05zM36 15h1.05v1.05h-1.05zM31 16h1.05v1.05h-1.05zM38 17h1.05v1.05h-1.05zM24 19h1.05v1.05h-1.05zM40 19h1.05v1.05h-1.05zM9 20h1.05v1.05h-1.05zM26 32h1.05v1.05h-1.05zM25 37h1.05v1.05h-1.05zM24 39h1.05v1.05h-1.05zM23 41h1.05v1.05h-1.05zM23 42h1.05v1.05h-1.05z"/>
<path fill="#6e6e6e" d="M20 0h1.05v1.05h-1.05zM12 9h1.05v1.05h-1.05zM16 10h1.05v1.05h-1.05zM27 13h1.05v1.05h-1.05zM14 15h1.05v1.05h-1.05zM35 15h1.05v1.05h-1.05zM37 15h1.05v1.05h-1.05zM30 16h1.05v1.05h-1.05zM43 19h1.05v1.05h-1.05zM40 21h1.05v1.05h-1.05zM7 22h1.05v1.05h-1.05zM30 28h1.05v1.05h-1.05zM14 38h1.05v1.05h-1.05z"/>
<path fill="#707070" d="M21 2h1.05v1.05h-1.05zM19 3h1.05v1.05h-1.05zM37 6h1.05v1.05h-1.05zM38 6h1.05v1.05h-1.05zM17 7h1.05v1.05h-1.05zM38 7h1.05v1.05h-1.05zM39 7h1.05v1.05h-1.05zM17 8h1.05v1.05h-1.05zM14 10h1.05v1.05h-1.05zM29 14h1.05v1.05h-1.05zM29 16h1.05v1.05h-1.05zM38 16h1.05v1.05h-1.05zM39 18h1.05v1.05h-1.05zM42 19h1.05v1.05h-1.05zM21 21h1.05v1.05h-1.05zM43 21h1.05v1.05h-1.05zM25 23h1.05v1.05h-1.05zM10 25h1.05v1.05h-1.05zM29 27h1.05v1.05h-1.05zM32 27h1.05v1.05h-1.05zM14 39h1.05v1.05h-1.05zM23 43h1.05v1.05h-1.05z"/>
<path fill="#727272" d="M20 3h1.05v1.05h-1.05zM24 4h1.05v1.05h-1.05zM17 5h1.05v1.05h-1.05zM39 6h1.05v1.05h-1.05zM37 7h1.05v1.05h-1.05zM32 8h1.05v1.05h-1.05zM38 8h1.05v1.05h-1.05zM17 9h1.05v1.05h-1.05zM28 14h1.05v1.05h-1.05zM28 16h1.05v1.05h-1.05zM25 17h1.05v1.05h-1.05zM41 19h1.05v1.05h-1.05zM19 20h1.05v1.05h-1.05zM37 24h1.05v1.05h-1.05zM37 26h1.05v1.05h-1.05zM33 27h1.05v1.05h-1.05zM31 28h1.05v1.05h-1.05zM34 28h1.05v1.05h-1.05zM21 37h1.05v1.05h-1.05zM22 39h1.05v1.05h-1.05zM14 40h1.05v1.05h-1.05zM23 40h1.05v1.05h-1.05zM14 41h1.05v1.05h-1.05zM14 42h1.05v1.05h-1.05zM14 43h1.05v1.05h-1.05z"/>
<path fill="#747474" d="M21 1h1.05v1.05h-1.05zM31 5h1.05v1.05h-1.05zM38 5h1.05v1.05h-1.05zM17 6h1.05v1.05h-1.05zM32 7h1.05v1.05h-1.05zM9 9h1.05v1.05h-1.05zM11 9h1.05v1.05h-1.05zM32 9h1.05v1.05h-1.05zM30 14h1.05v1.05h-1.05zM34 15h1.05v1.05h-1.05zM38 15h1.05v1.05h-1.05zM12 16h1.05v1.05h-1.05zM27 16h1.05v1.05h-1.05zM11 17h1.05v1.05h-1.05zM18 18h1.05v1.05h-1.05zM41 21h1.05v1.05h-1.05zM42 21h1.05v1.05h-1.05zM26 26h1.05v1.05h-1.05zM28 29h1.05v1.05h-1.05zM18 35h1.05v1.05h-1.05z"/>
<path fill="#767676" d="M37 5h1.05v1.05h-1.05zM26 7h1.05v1.05h-1.05zM39 8h1.05v1.05h-1.05zM0 11h1.05v1.05h-1.05zM1 11h1.05v1.05h-1.05zM2 11h1.05v1.05h-1.05zM3 11h1.05v1.05h-1.05zM4 11h1.05v1.05h-1.05zM32 12h1.05v1.05h-1.05zM16 15h1.05v1.05h-1.05z"/>
<path fill="#787878" d="M21 0h1.05v1.05h-1.05zM31 4h1.05v1.05h-1.05zM10 9h1.05v1.05h-1.05zM7 10h1.05v1.05h-1.05zM13 10h1.05v1.05h-1.05zM32 10h1.05v1.05h-1.05zM32 11h1.05v1.05h-1.05zM17 16h1.05v1.05h-1.05zM24 18h1.05v1.05h-1.05zM24 21h1.05v1.05h-1.05zM39 22h1.05v1.05h-1.05zM29 28h1.05v1.05h-1.05zM26 31h1.05v1.05h-1.05zM17 33h1.05v1.05h-1.05zM20 36h1.05v1.05h-1.05z"/>
<path fill="#7a7a7a" d="M31 0h1.05v1.05h-1.05zM31 1h1.05v1.05h-1.05zM23 2h1.05v1.05h-1.05zM31 2h1.05v1.05h-1.05zM31 3h1.05v1.05h-1.05zM25 6h1.05v1.05h-1.05zM17 10h1.05v1.05h-1.05zM32 13h1.05v1.05h-1.05zM31 14h1.05v1.05h-1.05zM13 15h1.05v1.05h-1.05zM26 16h1.05v1.05h-1.05zM39 17h1.05v1.05h-1.05zM10 18h1.05v1.05h-1.05zM40 18h1.05v1.05h-1.05zM18 25h1.05v1.05h-1.05zM37 25h1.05v1.05h-1.05zM12 26h1.05v1.05h-1.05zM17 26h1.05v1.05h-1.05zM28 27h1.05v1.05h-1.05z"/>
<path fill="#7c7c7c" d="M23 1h1.05v1.05h-1.05zM22 2h1.05v1.05h-1.05zM21 3h1.05v1.05h-1.05zM18 4h1.05v1.05h-1.05zM39 5h1.05v1.05h-1.05zM32 6h1.05v1.05h-1.05zM40 7h1.05v1.05h-1.05zM37 8h1.05v1.05h-1.05zM5 11h1.05v1.05h-1.05zM27 14h1.05v1.05h-1.05zM33 15h1.05v1.05h-1.05zM39 16h1.05v1.05h-1.05zM43 18h1.05v1.05h-1.05zM38 23h1.05v1.05h-1.05zM25 24h1.05v1.05h-1.05zM32 28h1.05v1.05h-1.05z"/>
<path fill="#7e7e7e" d="M23 0h1.05v1.05h-1.05zM22 1h1.05v1.05h-1.05zM23 3h1.05v1.05h-1.05zM36 6h1.05v1.05h-1.05zM40 8h1.05v1.05h-1.05zM15 11h1.05v1.05h-1.05zM16 11h1.05v1.05h-1.05zM37 14h1.05v1.05h-1.05zM38 14h1.05v1.05h-1.05zM39 15h1.05v1.05h-1.05zM41 18h1.05v1.05h-1.05zM42 18h1.05v1.05h-1.05zM9 25h1.05v1.05h-1.05zM38 26h1.05v1.05h-1.05zM13 27h1.05v1.05h-1.05zM27 27h1.05v1.05h-1.05zM33 28h1.05v1.05h-1.05z"/>
<path fill="#808080" d="M22 0h1.05v1.05h-1.05zM32 5h1.05v1.05h-1.05zM36 5h1.05v1.05h-1.05zM40 6h1.05v1.05h-1.05zM43 7h1.05v1.05h-1.05zM43 8h1.05v1.05h-1.05zM39 9h1.05v1.05h-1.05zM28 15h1.05v1.05h-1.05zM29 15h1.05v1.05h-1.05zM30 15h1.05v1.05h-1.05zM31 15h1.05v1.05h-1.05zM32 15h1.05v1.05h-1.05zM7 24h1.05v1.05h-1.05zM21 24h1.05v1.05h-1.05zM27 29h1.05v1.05h-1.05zM23 39h1.05v1.05h-1.05z"/>
<path fill="#828282" d="M32 0h1.05v1.05h-1.05zM32 1h1.05v1.05h-1.05zM32 2h1.05v1.05h-1.05zM22 3h1.05v1.05h-1.05zM32 3h1.05v1.05h-1.05zM32 4h1.05v1.05h-1.05zM37 4h1.05v1.05h-1.05zM38 4h1.05v1.05h-1.05zM24 5h1.05v1.05h-1.05zM43 6h1.05v1.05h-1.05zM41 7h1.05v1.05h-1.05zM42 7h1.05v1.05h-1.05zM41 8h1.05v1.05h-1.05zM42 8h1.05v1.05h-1.05zM38 9h1.05v1.05h-1.05zM40 9h1.05v1.05h-1.05zM12 10h1.05v1.05h-1.05zM32 14h1.05v1.05h-1.05zM36 14h1.05v1.05h-1.05zM39 14h1.05v1.05h-1.05zM27 15h1.05v1.05h-1.05zM18 17h1.05v1.05h-1.05zM23 20h1.05v1.05h-1.05zM26 27h1.05v1.05h-1.05zM26 30h1.05v1.05h-1.05zM17 32h1.05v1.05h-1.05zM24 38h1.05v1.05h-1.05zM13 41h1.05v1.05h-1.05zM13 42h1.05v1.05h-1.05zM13 43h1.05v1.05h-1.05z"/>
<path fill="#848484" d="M42 6h1.05v1.05h-1.05zM36 7h1.05v1.05h-1.05zM41 9h1.05v1.05h-1.05zM42 9h1.05v1.05h-1.05zM43 9h1.05v1.05h-1.05zM40 17h1.05v1.05h-1.05zM9 19h1.05v1.05h-1.05zM23 19h1.05v1.05h-1.05zM39 26h1.05v1.05h-1.05zM17 27h1.05v1.05h-1.05zM22 38h1.05v1.05h-1.05zM13 40h1.05v1.05h-1.05z"/>
<path fill="#868686" d="M36 4h1.05v1.05h-1.05zM41 6h1.05v1.05h-1.05zM18 8h1.05v1.05h-1.05zM41 10h1.05v1.05h-1.05zM42 10h1.05v1.05h-1.05zM43 10h1.05v1.05h-1.05zM14 11h1.05v1.05h-1.05zM2 12h1.05v1.05h-1.05zM15 14h1.05v1.05h-1.05zM33 14h1.05v1.05h-1.05zM35 14h1.05v1.05h-1.05zM40 14h1.05v1.05h-1.05zM40 15h1.05v1.05h-1.05zM25 16h1.05v1.05h-1.05zM40 16h1.05v1.05h-1.05zM42 17h1.05v1.05h-1.05zM43 17h1.05v1.05h-1.05zM19 19h1.05v1.05h-1.05zM20 20h1.05v1.05h-1.05zM7 21h1.05v1.05h-1.05zM40 22h1.05v1.05h-1.05zM43 22h1.05v1.05h-1.05zM25 25h1.05v1.05h-1.05zM40 26h1.05v1.05h-1.05zM41 26h1.05v1.05h-1.05zM42 26h1.05v1.05h-1.05zM43 26h1.05v1.05h-1.05zM28 28h1.05v1.05h-1.05zM13 39h1.05v1.05h-1.05z"/>
<path fill="#888888" d="M33 0h1.05v1.05h-1.05zM33 1h1.05v1.05h-1.05zM33 2h1.05v1.05h-1.05zM33 3h1.05v1.05h-1.05zM19 4h1.05v1.05h-1.05zM40 5h1.05v1.05h-1.05zM40 10h1.05v1.05h-1.05zM17 11h1.05v1.05h-1.05zM41 11h1.05v1.05h-1.05zM42 11h1.05v1.05h-1.05zM43 11h1.05v1.05h-1.05zM1 12h1.05v1.05h-1.05zM40 12h1.05v1.05h-1.05zM41 12h1.05v1.05h-1.05zM42 12h1.05v1.05h-1.05zM43 12h1.05v1.05h-1.05zM39 13h1.05v1.05h-1.05zM40 13h1.05v1.05h-1.05zM41 13h1.05v1.05h-1.05zM42 13h1.05v1.05h-1.05zM43 13h1.05v1.05h-1.05zM34 14h1.05v1.05h-1.05zM41 14h1.05v1.05h-1.05zM42 14h1.05v1.05h-1.05zM43 14h1.05v1.05h-1.05zM17 15h1.05v1.05h-1.05zM26 15h1.05v1.05h-1.05zM41 15h1.05v1.05h-1.05zM42 15h1.05v1.05h-1.05zM43 15h1.05v1.05h-1.05zM41 16h1.05v1.05h-1.05zM42 16h1.05v1.05h-1.05zM43 16h1.05v1.05h-1.05zM24 17h1.05v1.05h-1.05zM41 17h1.05v1.05h-1.05zM8 20h1.05v1.05h-1.05zM19 35h1.05v1.05h-1.05zM25 36h1.05v1.05h-1.05zM13 38h1.05v1.05h-1.05z"/>
<path fill="#8a8a8a" d="M33 4h1.05v1.05h-1.05zM39 4h1.05v1.05h-1.05zM33 5h1.05v1.05h-1.05zM35 5h1.05v1.05h-1.05zM43 5h1.05v1.05h-1.05zM33 6h1.05v1.05h-1.05zM18 7h1.05v1.05h-1.05zM26 8h1.05v1.05h-1.05zM8 10h1.05v1.05h-1.05zM6 11h1.05v1.05h-1.05zM40 11h1.05v1.05h-1.05zM0 12h1.05v1.05h-1.05zM33 13h1.05v1.05h-1.05zM38 13h1.05v1.05h-1.05zM16 14h1.05v1.05h-1.05zM22 21h1.05v1.05h-1.05zM22 22h1.05v1.05h-1.05zM41 22h1.05v1.05h-1.05zM42 22h1.05v1.05h-1.05zM17 28h1.05v1.05h-1.05zM26 28h1.05v1.05h-1.05zM27 28h1.05v1.05h-1.05zM26 29h1.05v1.05h-1.05zM17 31h1.05v1.05h-1.05zM18 34h1.05v1.05h-1.05zM13 37h1.05v1.05h-1.05z"/>
<path fill="#8c8c8c" d="M37 3h1.05v1.05h-1.05zM23 4h1.05v1.05h-1.05zM34 4h1.05v1.05h-1.05zM35 4h1.05v1.05h-1.05zM18 5h1.05v1.05h-1.05zM34 5h1.05v1.05h-1.05zM41 5h1.05v1.05h-1.05zM42 5h1.05v1.05h-1.05zM35 6h1.05v1.05h-1.05zM33 7h1.05v1.05h-1.05zM18 9h1.05v1.05h-1.05zM37 9h1.05v1.05h-1.05zM11 10h1.05v1.05h-1.05zM39 10h1.05v1.05h-1.05zM3 12h1.05v1.05h-1.05zM14 14h1.05v1.05h-1.05zM38 24h1.05v1.05h-1.05zM19 25h1.05v1.05h-1.05zM11 26h1.05v1.05h-1.05zM25 26h1.05v1.05h-1.05zM13 36h1.05v1.05h-1.05z"/>
<path fill="#8e8e8e" d="M34 0h1.05v1.05h-1.05zM36 0h1.05v1.05h-1.05zM37 0h1.05v1.05h-1.05zM34 1h1.05v1.05h-1.05zM34 2h1.05v1.05h-1.05zM34 3h1.05v1.05h-1.05zM35 3h1.05v1.05h-1.05zM36 3h1.05v1.05h-1.05zM38 3h1.05v1.05h-1.05zM20 4h1.05v1.05h-1.05zM33 8h1.05v1.05h-1.05zM36 8h1.05v1.05h-1.05zM39 12h1.05v1.05h-1.05zM26 13h1.05v1.05h-1.05zM26 14h1.05v1.05h-1.05zM23 18h1.05v1.05h-1.05zM22 20h1.05v1.05h-1.05zM23 21h1.05v1.05h-1.05zM24 22h1.05v1.05h-1.05zM38 25h1.05v1.05h-1.05zM17 29h1.05v1.05h-1.05zM17 30h1.05v1.05h-1.05zM13 35h1.05v1.05h-1.05z"/>
<path fill="#909090" d="M35 0h1.05v1.05h-1.05zM38 0h1.05v1.05h-1.05zM35 1h1.05v1.05h-1.05zM36 1h1.05v1.05h-1.05zM37 1h1.05v1.05h-1.05zM35 2h1.05v1.05h-1.05zM36 2h1.05v1.05h-1.05zM37 2h1.05v1.05h-1.05zM18 6h1.05v1.05h-1.05zM34 6h1.05v1.05h-1.05zM13 11h1.05v1.05h-1.05zM39 11h1.05v1.05h-1.05zM16 12h1.05v1.05h-1.05zM33 12h1.05v1.05h-1.05zM12 15h1.05v1.05h-1.05zM11 16h1.05v1.05h-1.05zM21 20h1.05v1.05h-1.05zM6 23h1.05v1.05h-1.05zM39 23h1.05v1.05h-1.05zM8 25h1.05v1.05h-1.05zM25 27h1.05v1.05h-1.05zM13 28h1.05v1.05h-1.05zM13 34h1.05v1.05h-1.05z"/>
<path fill="#929292" d="M38 1h1.05v1.05h-1.05zM40 4h1.05v1.05h-1.05zM33 9h1.05v1.05h-1.05zM9 10h1.05v1.05h-1.05zM10 10h1.05v1.05h-1.05zM38 10h1.05v1.05h-1.05zM15 12h1.05v1.05h-1.05zM26 12h1.05v1.05h-1.05zM37 13h1.05v1.05h-1.05zM18 16h1.05v1.05h-1.05zM10 17h1.05v1.05h-1.05zM19 18h1.05v1.05h-1.05zM13 31h1.05v1.05h-1.05zM13 32h1.05v1.05h-1.05zM13 33h1.05v1.05h-1.05z"/>
<path fill="#949494" d="M38 2h1.05v1.05h-1.05zM21 4h1.05v1.05h-1.05zM43 4h1.05v1.05h-1.05zM35 7h1.05v1.05h-1.05zM26 9h1.05v1.05h-1.05zM18 10h1.05v1.05h-1.05zM33 11h1.05v1.05h-1.05zM6 22h1.05v1.05h-1.05zM13 30h1.05v1.05h-1.05z"/>
<path fill="#969696" d="M39 0h1.05v1.05h-1.05zM39 3h1.05v1.05h-1.05zM22 4h1.05v1.05h-1.05zM41 4h1.05v1.05h-1.05zM42 4h1.05v1.05h-1.05zM34 7h1.05v1.05h-1.05zM33 10h1.05v1.05h-1.05zM26 11h1.05v1.05h-1.05zM38 12h1.05v1.05h-1.05zM16 13h1.05v1.05h-1.05zM34 13h1.05v1.05h-1.05zM17 14h1.05v1.05h-1.05zM22 23h1.05v1.05h-1.05zM25 28h1.05v1.05h-1.05zM13 29h1.05v1.05h-1.05zM12 41h1.05v1.05h-1.05zM12 42h1.05v1.05h-1.05z"/>
<path fill="#989898" d="M26 10h1.05v1.05h-1.05zM38 11h1.05v1.05h-1.05zM4 12h1.05v1.05h-1.05zM17 12h1.05v1.05h-1.05zM1 13h1.05v1.05h-1.05zM2 13h1.05v1.05h-1.05zM15 13h1.05v1.05h-1.05zM36 13h1.05v1.05h-1.05zM13 14h1.05v1.05h-1.05zM25 15h1.05v1.05h-1.05zM22 19h1.05v1.05h-1.05zM40 23h1.05v1.05h-1.05zM41 23h1.05v1.05h-1.05zM42 23h1.05v1.05h-1.05zM43 23h1.05v1.05h-1.05zM39 24h1.05v1.05h-1.05zM40 24h1.05v1.05h-1.05zM41 24h1.05v1.05h-1.05zM42 24h1.05v1.05h-1.05zM43 24h1.05v1.05h-1.05zM39 25h1.05v1.05h-1.05zM40 25h1.05v1.05h-1.05zM41 25h1.05v1.05h-1.05zM42 25h1.05v1.05h-1.05zM43 25h1.05v1.05h-1.05zM23 38h1.05v1.05h-1.05zM12 40h1.05v1.05h-1.05zM12 43h1.05v1.05h-1.05z"/>
<path fill="#9a9a9a" d="M39 1h1.05v1.05h-1.05zM39 2h1.05v1.05h-1.05zM36 9h1.05v1.05h-1.05zM37 10h1.05v1.05h-1.05zM14 12h1.05v1.05h-1.05zM24 16h1.05v1.05h-1.05zM9 18h1.05v1.05h-1.05zM25 29h1.05v1.05h-1.05zM25 35h1.05v1.05h-1.05z"/>
<path fill="#9c9c9c" d="M40 3h1.05v1.05h-1.05zM25 7h1.05v1.05h-1.05zM34 8h1.05v1.05h-1.05zM35 8h1.05v1.05h-1.05zM12 11h1.05v1.05h-1.05zM0 13h1.05v1.05h-1.05zM17 13h1.05v1.05h-1.05zM35 13h1.05v1.05h-1.05zM20 19h1.05v1.05h-1.05zM6 24h1.05v1.05h-1.05zM18 26h1.05v1.05h-1.05zM18 33h1.05v1.05h-1.05zM12 39h1.05v1.05h-1.05z"/>
<path fill="#9e9e9e" d="M40 0h1.05v1.05h-1.05zM43 0h1.05v1.05h-1.05zM42 3h1.05v1.05h-1.05zM43 3h1.05v1.05h-1.05zM7 11h1.05v1.05h-1.05zM37 12h1.05v1.05h-1.05zM14 13h1.05v1.05h-1.05zM23 17h1.05v1.05h-1.05zM20 25h1.05v1.05h-1.05zM10 26h1.05v1.05h-1.05zM12 27h1.05v1.05h-1.05zM25 32h1.05v1.05h-1.05zM25 33h1.05v1.05h-1.05zM25 34h1.05v1.05h-1.05zM21 36h1.05v1.05h-1.05zM24 37h1.05v1.05h-1.05z"/>
<path fill="#a0a0a0" d="M41 0h1.05v1.05h-1.05zM42 0h1.05v1.05h-1.05zM40 1h1.05v1.05h-1.05zM41 1h1.05v1.05h-1.05zM42 1h1.05v1.05h-1.05zM43 1h1.05v1.05h-1.05zM40 2h1.05v1.05h-1.05zM41 2h1.05v1.05h-1.05zM42 2h1.05v1.05h-1.05zM43 2h1.05v1.05h-1.05zM41 3h1.05v1.05h-1.05zM19 5h1.05v1.05h-1.05zM24 6h1.05v1.05h-1.05zM18 11h1.05v1.05h-1.05zM34 12h1.05v1.05h-1.05zM3 13h1.05v1.05h-1.05zM19 17h1.05v1.05h-1.05zM24 23h1.05v1.05h-1.05zM25 30h1.05v1.05h-1.05zM25 31h1.05v1.05h-1.05zM19 34h1.05v1.05h-1.05zM20 35h1.05v1.05h-1.05z"/>
<path fill="#a2a2a2" d="M23 5h1.05v1.05h-1.05zM34 9h1.05v1.05h-1.05zM35 9h1.05v1.05h-1.05zM36 10h1.05v1.05h-1.05zM37 11h1.05v1.05h-1.05zM18 15h1.05v1.05h-1.05zM22 18h1.05v1.05h-1.05zM21 19h1.05v1.05h-1.05zM7 25h1.05v1.05h-1.05zM12 38h1.05v1.05h-1.05z"/>
<path fill="#a4a4a4" d="M34 10h1.05v1.05h-1.05zM34 11h1.05v1.05h-1.05zM8 19h1.05v1.05h-1.05zM23 22h1.05v1.05h-1.05zM22 37h1.05v1.05h-1.05z"/>
<path fill="#a6a6a6" d="M35 10h1.05v1.05h-1.05zM11 11h1.05v1.05h-1.05zM13 12h1.05v1.05h-1.05zM35 12h1.05v1.05h-1.05zM36 12h1.05v1.05h-1.05zM7 20h1.05v1.05h-1.05zM6 21h1.05v1.05h-1.05z"/>
<path fill="#a8a8a8" d="M35 11h1.05v1.05h-1.05zM36 11h1.05v1.05h-1.05zM5 12h1.05v1.05h-1.05zM18 12h1.05v1.05h-1.05zM2 14h1.05v1.05h-1.05zM20 18h1.05v1.05h-1.05zM24 24h1.05v1.05h-1.05z"/>
<path fill="#aaaaaa" d="M13 13h1.05v1.05h-1.05zM1 14h1.05v1.05h-1.05zM12 14h1.05v1.05h-1.05zM18 14h1.05v1.05h-1.05zM25 14h1.05v1.05h-1.05zM11 15h1.05v1.05h-1.05zM24 25h1.05v1.05h-1.05zM18 27h1.05v1.05h-1.05zM18 32h1.05v1.05h-1.05zM12 37h1.05v1.05h-1.05zM11 41h1.05v1.05h-1.05zM11 42h1.05v1.05h-1.05z"/>
<path fill="#acacac" d="M19 6h1.05v1.05h-1.05zM8 11h1.05v1.05h-1.05zM18 13h1.05v1.05h-1.05zM10 16h1.05v1.05h-1.05zM24 26h1.05v1.05h-1.05zM24 27h1.05v1.05h-1.05zM11 40h1.05v1.05h-1.05zM11 43h1.05v1.05h-1.05z"/>
<path fill="#aeaeae" d="M20 5h1.05v1.05h-1.05zM19 7h1.05v1.05h-1.05zM19 8h1.05v1.05h-1.05zM10 11h1.05v1.05h-1.05zM0 14h1.05v1.05h-1.05zM21 18h1.05v1.05h-1.05zM5 23h1.05v1.05h-1.05zM22 24h1.05v1.05h-1.05zM9 26h1.05v1.05h-1.05z"/>
<path fill="#b0b0b0" d="M9 11h1.05v1.05h-1.05zM3 14h1.05v1.05h-1.05zM24 15h1.05v1.05h-1.05zM23 16h1.05v1.05h-1.05zM9 17h1.05v1.05h-1.05zM18 28h1.05v1.05h-1.05zM24 28h1.05v1.05h-1.05zM19 33h1.05v1.05h-1.05zM12 36h1.05v1.05h-1.05zM11 39h1.05v1.05h-1.05z"/>
<path fill="#b2b2b2" d="M12 12h1.05v1.05h-1.05zM19 16h1.05v1.05h-1.05zM22 17h1.05v1.05h-1.05zM5 22h1.05v1.05h-1.05zM21 25h1.05v1.05h-1.05z"/>
<path fill="#b4b4b4" d="M22 5h1.05v1.05h-1.05zM19 9h1.05v1.05h-1.05zM4 13h1.05v1.05h-1.05zM5 24h1.05v1.05h-1.05zM19 26h1.05v1.05h-1.05zM18 31h1.05v1.05h-1.05zM20 34h1.05v1.05h-1.05z"/>
<path fill="#b6b6b6" d="M21 5h1.05v1.05h-1.05zM6 12h1.05v1.05h-1.05zM23 23h1.05v1.05h-1.05zM6 25h1.05v1.05h-1.05zM11 27h1.05v1.05h-1.05zM18 29h1.05v1.05h-1.05z"/>
<path fill="#b8b8b8" d="M25 8h1.05v1.05h-1.05zM25 13h1.05v1.05h-1.05zM2 15h1.05v1.05h-1.05zM20 17h1.05v1.05h-1.05zM12 28h1.05v1.05h-1.05zM24 29h1.05v1.05h-1.05zM18 30h1.05v1.05h-1.05zM12 35h1.05v1.05h-1.05zM23 37h1.05v1.05h-1.05zM11 38h1.05v1.05h-1.05z"/>
<path fill="#bababa" d="M12 13h1.05v1.05h-1.05zM1 15h1.05v1.05h-1.05zM8 18h1.05v1.05h-1.05zM24 36h1.05v1.05h-1.05zM10 40h1.05v1.05h-1.05zM10 41h1.05v1.05h-1.05zM10 42h1.05v1.05h-1.05zM10 43h1.05v1.05h-1.05z"/>
<path fill="#bcbcbc" d="M19 10h1.05v1.05h-1.05zM0 15h1.05v1.05h-1.05zM21 17h1.05v1.05h-1.05zM5 21h1.05v1.05h-1.05z"/>
<path fill="#bebebe" d="M11 12h1.05v1.05h-1.05zM3 15h1.05v1.05h-1.05zM19 15h1.05v1.05h-1.05zM8 26h1.05v1.05h-1.05zM24 30h1.05v1.05h-1.05zM19 32h1.05v1.05h-1.05zM12 34h1.05v1.05h-1.05zM10 39h1.05v1.05h-1.05z"/>
<path fill="#c0c0c0" d="M19 11h1.05v1.05h-1.05zM11 14h1.05v1.05h-1.05zM6 20h1.05v1.05h-1.05zM4 23h1.05v1.05h-1.05zM23 24h1.05v1.05h-1.05zM19 27h1.05v1.05h-1.05zM20 33h1.05v1.05h-1.05zM0 40h1.05v1.05h-1.05zM1 40h1.05v1.05h-1.05zM2 40h1.05v1.05h-1.05zM0 41h1.05v1.05h-1.05zM1 41h1.05v1.05h-1.05zM2 41h1.05v1.05h-1.05zM3 41h1.05v1.05h-1.05zM0 42h1.05v1.05h-1.05zM1 42h1.05v1.05h-1.05zM2 42h1.05v1.05h-1.05zM3 42h1.05v1.05h-1.05zM0 43h1.05v1.05h-1.05zM1 43h1.05v1.05h-1.05zM2 43h1.05v1.05h-1.05zM3 43h1.05v1.05h-1.05z"/>
<path fill="#c2c2c2" d="M23 6h1.05v1.05h-1.05zM7 12h1.05v1.05h-1.05zM25 12h1.05v1.05h-1.05zM10 15h1.05v1.05h-1.05zM4 22h1.05v1.05h-1.05zM4 24h1.05v1.05h-1.05zM12 29h1.05v1.05h-1.05zM12 30h1.05v1.05h-1.05zM12 31h1.05v1.05h-1.05zM12 33h1.05v1.05h-1.05zM21 35h1.05v1.05h-1.05zM0 39h1.05v1.05h-1.05zM1 39h1.05v1.05h-1.05zM2 39h1.05v1.05h-1.05zM3 40h1.05v1.05h-1.05zM9 40h1.05v1.05h-1.05zM9 41h1.05v1.05h-1.05zM9 42h1.05v1.05h-1.05zM9 43h1.05v1.05h-1.05z"/>
<path fill="#c4c4c4" d="M20 6h1.05v1.05h-1.05zM24 7h1.05v1.05h-1.05zM19 12h1.05v1.05h-1.05zM19 13h1.05v1.05h-1.05zM4 14h1.05v1.05h-1.05zM19 14h1.05v1.05h-1.05zM2 16h1.05v1.05h-1.05zM9 16h1.05v1.05h-1.05zM22 16h1.05v1.05h-1.05zM7 19h1.05v1.05h-1.05zM5 25h1.05v1.05h-1.05zM22 25h1.05v1.05h-1.05zM23 25h1.05v1.05h-1.05zM20 26h1.05v1.05h-1.05zM12 32h1.05v1.05h-1.05zM11 37h1.05v1.05h-1.05zM2 38h1.05v1.05h-1.05zM3 39h1.05v1.05h-1.05z"/>
<path fill="#c6c6c6" d="M10 12h1.05v1.05h-1.05zM1 16h1.05v1.05h-1.05zM0 23h1.05v1.05h-1.05zM3 23h1.05v1.05h-1.05zM23 26h1.05v1.05h-1.05zM19 28h1.05v1.05h-1.05zM24 31h1.05v1.05h-1.05zM0 38h1.05v1.05h-1.05zM1 38h1.05v1.05h-1.05zM9 39h1.05v1.05h-1.05zM8 40h1.05v1.05h-1.05zM8 41h1.05v1.05h-1.05zM8 42h1.05v1.05h-1.05zM8 43h1.05v1.05h-1.05z"/>
<path fill="#c8c8c8" d="M25 9h1.05v1.05h-1.05zM8 12h1.05v1.05h-1.05zM11 13h1.05v1.05h-1.05zM23 15h1.05v1.05h-1.05zM20 16h1.05v1.05h-1.05zM4 21h1.05v1.05h-1.05zM0 22h1.05v1.05h-1.05zM1 22h1.05v1.05h-1.05zM3 22h1.05v1.05h-1.05zM1 23h1.05v1.05h-1.05zM2 23h1.05v1.05h-1.05zM0 24h1.05v1.05h-1.05zM3 24h1.05v1.05h-1.05zM23 27h1.05v1.05h-1.05zM22 36h1.05v1.05h-1.05zM1 37h1.05v1.05h-1.05zM2 37h1.05v1.05h-1.05zM3 38h1.05v1.05h-1.05zM10 38h1.05v1.05h-1.05zM4 40h1.05v1.05h-1.05zM4 41h1.05v1.05h-1.05zM4 42h1.05v1.05h-1.05zM4 43h1.05v1.05h-1.05z"/>
<path fill="#cacaca" d="M25 11h1.05v1.05h-1.05zM9 12h1.05v1.05h-1.05zM5 13h1.05v1.05h-1.05zM24 14h1.05v1.05h-1.05zM0 16h1.05v1.05h-1.05zM2 22h1.05v1.05h-1.05zM1 24h1.05v1.05h-1.05zM2 24h1.05v1.05h-1.05zM10 27h1.05v1.05h-1.05zM24 32h1.05v1.05h-1.05zM2 36h1.05v1.05h-1.05zM0 37h1.05v1.05h-1.05zM3 37h1.05v1.05h-1.05zM4 39h1.05v1.05h-1.05zM8 39h1.05v1.05h-1.05zM7 41h1.05v1.05h-1.05zM7 42h1.05v1.05h-1.05z"/>
<path fill="#cccccc" d="M25 10h1.05v1.05h-1.05zM3 16h1.05v1.05h-1.05zM8 17h1.05v1.05h-1.05zM0 21h1.05v1.05h-1.05zM1 21h1.05v1.05h-1.05zM2 21h1.05v1.05h-1.05zM3 21h1.05v1.05h-1.05zM4 25h1.05v1.05h-1.05zM7 26h1.05v1.05h-1.05zM20 27h1.05v1.05h-1.05zM23 28h1.05v1.05h-1.05zM19 29h1.05v1.05h-1.05zM19 31h1.05v1.05h-1.05zM20 32h1.05v1.05h-1.05zM0 36h1.05v1.05h-1.05zM1 36h1.05v1.05h-1.05zM7 40h1.05v1.05h-1.05zM7 43h1.05v1.05h-1.05z"/>
<path fill="#cecece" d="M21 16h1.05v1.05h-1.05zM2 17h1.05v1.05h-1.05zM0 25h1.05v1.05h-1.05zM1 25h1.05v1.05h-1.05zM2 25h1.05v1.05h-1.05zM3 25h1.05v1.05h-1.05zM21 26h1.05v1.05h-1.05zM20 28h1.05v1.05h-1.05zM24 35h1.05v1.05h-1.05zM3 36h1.05v1.05h-1.05zM4 38h1.05v1.05h-1.05zM7 39h1.05v1.05h-1.05zM5 40h1.05v1.05h-1.05zM5 41h1.05v1.05h-1.05zM6 41h1.05v1.05h-1.05zM5 42h1.05v1.05h-1.05zM6 42h1.05v1.05h-1.05zM5 43h1.05v1.05h-1.05z"/>
<path fill="#d0d0d0" d="M20 7h1.05v1.05h-1.05zM10 14h1.05v1.05h-1.05zM4 15h1.05v1.05h-1.05zM1 17h1.05v1.05h-1.05zM0 20h1.05v1.05h-1.05zM1 20h1.05v1.05h-1.05zM2 20h1.05v1.05h-1.05zM5 20h1.05v1.05h-1.05zM22 26h1.05v1.05h-1.05zM21 27h1.05v1.05h-1.05zM22 27h1.05v1.05h-1.05zM24 33h1.05v1.05h-1.05zM0 35h1.05v1.05h-1.05zM1 35h1.05v1.05h-1.05zM2 35h1.05v1.05h-1.05zM9 38h1.05v1.05h-1.05zM6 40h1.05v1.05h-1.05zM6 43h1.05v1.05h-1.05z"/>
<path fill="#d2d2d2" d="M21 6h1.05v1.05h-1.05zM10 13h1.05v1.05h-1.05zM9 15h1.05v1.05h-1.05zM3 20h1.05v1.05h-1.05zM23 29h1.05v1.05h-1.05zM19 30h1.05v1.05h-1.05zM21 34h1.05v1.05h-1.05zM24 34h1.05v1.05h-1.05zM3 35h1.05v1.05h-1.05zM11 36h1.05v1.05h-1.05zM4 37h1.05v1.05h-1.05zM5 39h1.05v1.05h-1.05zM6 39h1.05v1.05h-1.05z"/>
<path fill="#d4d4d4" d="M22 6h1.05v1.05h-1.05zM0 17h1.05v1.05h-1.05zM2 18h1.05v1.05h-1.05zM1 19h1.05v1.05h-1.05zM2 19h1.05v1.05h-1.05zM4 20h1.05v1.05h-1.05zM2 26h1.05v1.05h-1.05zM1 34h1.05v1.05h-1.05zM2 34h1.05v1.05h-1.05zM5 38h1.05v1.05h-1.05zM8 38h1.05v1.05h-1.05z"/>
<path fill="#d6d6d6" d="M6 13h1.05v1.05h-1.05zM20 15h1.05v1.05h-1.05zM8 16h1.05v1.05h-1.05zM3 17h1.05v1.05h-1.05zM1 18h1.05v1.05h-1.05zM0 19h1.05v1.05h-1.05zM0 26h1.05v1.05h-1.05zM1 26h1.05v1.05h-1.05zM3 26h1.05v1.05h-1.05zM6 26h1.05v1.05h-1.05zM11 28h1.05v1.05h-1.05zM21 28h1.05v1.05h-1.05zM20 29h1.05v1.05h-1.05zM0 34h1.05v1.05h-1.05zM4 36h1.05v1.05h-1.05zM23 36h1.05v1.05h-1.05zM10 37h1.05v1.05h-1.05zM7 38h1.05v1.05h-1.05z"/>
<path fill="#d8d8d8" d="M20 8h1.05v1.05h-1.05zM9 13h1.05v1.05h-1.05zM0 18h1.05v1.05h-1.05zM3 19h1.05v1.05h-1.05zM9 27h1.05v1.05h-1.05zM22 28h1.05v1.05h-1.05zM23 30h1.05v1.05h-1.05zM20 31h1.05v1.05h-1.05zM21 33h1.05v1.05h-1.05zM3 34h1.05v1.05h-1.05zM6 38h1.05v1.05h-1.05z"/>
<path fill="#dadada" d="M7 13h1.05v1.05h-1.05zM8 13h1.05v1.05h-1.05zM5 14h1.05v1.05h-1.05zM9 14h1.05v1.05h-1.05zM22 15h1.05v1.05h-1.05zM3 18h1.05v1.05h-1.05zM7 18h1.05v1.05h-1.05zM6 19h1.05v1.05h-1.05zM4 26h1.05v1.05h-1.05zM2 33h1.05v1.05h-1.05zM4 35h1.05v1.05h-1.05zM5 37h1.05v1.05h-1.05z"/>
<path fill="#dcdcdc" d="M20 14h1.05v1.05h-1.05zM4 16h1.05v1.05h-1.05zM5 26h1.05v1.05h-1.05zM21 29h1.05v1.05h-1.05zM20 30h1.05v1.05h-1.05zM1 33h1.05v1.05h-1.05z"/>
<path fill="#dedede" d="M8 15h1.05v1.05h-1.05zM1 27h1.05v1.05h-1.05zM2 27h1.05v1.05h-1.05zM22 29h1.05v1.05h-1.05zM21 32h1.05v1.05h-1.05zM0 33h1.05v1.05h-1.05zM11 35h1.05v1.05h-1.05zM5 36h1.05v1.05h-1.05z"/>
<path fill="#e0e0e0" d="M20 9h1.05v1.05h-1.05zM20 13h1.05v1.05h-1.05zM24 13h1.05v1.05h-1.05zM8 14h1.05v1.05h-1.05zM21 15h1.05v1.05h-1.05zM4 19h1.05v1.05h-1.05zM0 27h1.05v1.05h-1.05zM21 30h1.05v1.05h-1.05zM22 30h1.05v1.05h-1.05zM23 31h1.05v1.05h-1.05zM3 33h1.05v1.05h-1.05zM6 37h1.05v1.05h-1.05zM9 37h1.05v1.05h-1.05z"/>
<path fill="#e2e2e2" d="M20 12h1.05v1.05h-1.05zM5 15h1.05v1.05h-1.05zM3 27h1.05v1.05h-1.05zM1 32h1.05v1.05h-1.05zM2 32h1.05v1.05h-1.05zM4 34h1.05v1.05h-1.05zM22 35h1.05v1.05h-1.05zM7 37h1.05v1.05h-1.05zM8 37h1.05v1.05h-1.05z"/>
<path fill="#e4e4e4" d="M23 7h1.05v1.05h-1.05zM24 8h1.05v1.05h-1.05zM6 14h1.05v1.05h-1.05zM7 14h1.05v1.05h-1.05zM23 14h1.05v1.05h-1.05zM7 17h1.05v1.05h-1.05zM11 29h1.05v1.05h-1.05zM21 31h1.05v1.05h-1.05z"/>
<path fill="#e6e6e6" d="M20 10h1.05v1.05h-1.05zM20 11h1.05v1.05h-1.05zM7 15h1.05v1.05h-1.05zM7 16h1.05v1.05h-1.05zM5 19h1.05v1.05h-1.05zM8 27h1.05v1.05h-1.05zM0 32h1.05v1.05h-1.05zM11 34h1.05v1.05h-1.05zM5 35h1.05v1.05h-1.05z"/>
<path fill="#e8e8e8" d="M21 7h1.05v1.05h-1.05zM6 15h1.05v1.05h-1.05zM4 17h1.05v1.05h-1.05zM1 28h1.05v1.05h-1.05zM2 28h1.05v1.05h-1.05zM2 31h1.05v1.05h-1.05zM3 32h1.05v1.05h-1.05zM23 32h1.05v1.05h-1.05zM6 36h1.05v1.05h-1.05zM10 36h1.05v1.05h-1.05z"/>
<path fill="#eaeaea" d="M4 18h1.05v1.05h-1.05zM0 28h1.05v1.05h-1.05zM10 28h1.05v1.05h-1.05zM2 29h1.05v1.05h-1.05zM11 30h1.05v1.05h-1.05zM1 31h1.05v1.05h-1.05zM11 31h1.05v1.05h-1.05zM22 31h1.05v1.05h-1.05zM4 33h1.05v1.05h-1.05zM11 33h1.05v1.05h-1.05zM23 35h1.05v1.05h-1.05z"/>
<path fill="#ececec" d="M21 14h1.05v1.05h-1.05zM5 16h1.05v1.05h-1.05zM4 27h1.05v1.05h-1.05zM3 28h1.05v1.05h-1.05zM1 29h1.05v1.05h-1.05zM1 30h1.05v1.05h-1.05zM2 30h1.05v1.05h-1.05zM0 31h1.05v1.05h-1.05zM11 32h1.05v1.05h-1.05zM22 32h1.05v1.05h-1.05zM22 33h1.05v1.05h-1.05zM22 34h1.05v1.05h-1.05z"/>
<path fill="#eeeeee" d="M6 18h1.05v1.05h-1.05zM3 31h1.05v1.05h-1.05zM23 33h1.05v1.05h-1.05zM5 34h1.05v1.05h-1.05z"/>
<path fill="#f0f0f0" d="M24 12h1.05v1.05h-1.05zM22 14h1.05v1.05h-1.05zM6 16h1.05v1.05h-1.05zM7 27h1.05v1.05h-1.05zM0 29h1.05v1.05h-1.05zM0 30h1.05v1.05h-1.05zM23 34h1.05v1.05h-1.05zM7 36h1.05v1.05h-1.05z"/>
<path fill="#f2f2f2" d="M22 7h1.05v1.05h-1.05zM24 9h1.05v1.05h-1.05zM3 29h1.05v1.05h-1.05zM3 30h1.05v1.05h-1.05zM6 35h1.05v1.05h-1.05zM9 36h1.05v1.05h-1.05z"/>
<path fill="#f4f4f4" d="M6 17h1.05v1.05h-1.05zM5 18h1.05v1.05h-1.05zM5 27h1.05v1.05h-1.05zM8 36h1.05v1.05h-1.05z"/>
<path fill="#f6f6f6" d="M24 11h1.05v1.05h-1.05zM5 17h1.05v1.05h-1.05zM6 27h1.05v1.05h-1.05zM4 32h1.05v1.05h-1.05z"/>
<path fill="#f8f8f8" d="M21 8h1.05v1.05h-1.05zM24 10h1.05v1.05h-1.05zM21 13h1.05v1.05h-1.05zM9 28h1.05v1.05h-1.05zM10 35h1.05v1.05h-1.05z"/>
<path fill="#fafafa" d="M4 28h1.05v1.05h-1.05zM5 33h1.05v1.05h-1.05z"/>
<path fill="#fcfcfc" d="M10 29h1.05v1.05h-1.05zM6 34h1.05v1.05h-1.05zM7 35h1.05v1.05h-1.05z"/>
<path fill="#fefefe" d="M23 13h1.05v1.05h-1.05zM4 31h1.05v1.05h-1.05z"/>
<path fill="#ffffff" d="M22 8h1.05v1.05h-1.05zM23 8h1.05v1.05h-1.05zM21 9h1.05v1.05h-1.05zM22 9h1.05v1.05h-1.05zM23 9h1.05v1.05h-1.05zM21 10h1.05v1.05h-1.05zM22 10h1.05v1.05h-1.05zM23 10h1.05v1.05h-1.05zM21 11h1.05v1.05h-1.05zM22 11h1.05v1.05h-1.05zM23 11h1.05v1.05h-1.05zM21 12h1.05v1.05h-1.05zM22 12h1.05v1.05h-1.05zM23 12h1.05v1.05h-1.05zM22 13h1.05v1.05h-1.05zM5 28h1.05v1.05h-1.05zM6 28h1.05v1.05h-1.05zM7 28h1.05v1.05h-1.05zM8 28h1.05v1.05h-1.05zM4 29h1.05v1.05h-1.05zM5 29h1.05v1.05h-1.05zM6 29h1.05v1.05h-1.05zM7 29h1.05v1.05h-1.05zM8 29h1.05v1.05h-1.05zM9 29h1.05v1.05h-1.05zM4 30h1.05v1.05h-1.05zM5 30h1.05v1.05h-1.05zM6 30h1.05v1.05h-1.05zM7 30h1.05v1.05h-1.05zM8 30h1.05v1.05h-1.05zM9 30h1.05v1.05h-1.05zM10 30h1.05v1.05h-1.05zM5 31h1.05v1.05h-1.05zM6 31h1.05v1.05h-1.05zM7 31h1.05v1.05h-1.05zM8 31h1.05v1.05h-1.05zM9 31h1.05v1.05h-1.05zM10 31h1.05v1.05h-1.05zM5 32h1.05v1.05h-1.05zM6 32h1.05v1.05h-1.05zM7 32h1.05v1.05h-1.05zM8 32h1.05v1.05h-1.05zM9 32h1.05v1.05h-1.05zM10 32h1.05v1.05h-1.05zM6 33h1.05v1.05h-1.05zM7 33h1.05v1.05h-1.05zM8 33h1.05v1.05h-1.05zM9 33h1.05v1.05h-1.05zM10 33h1.05v1.05h-1.05zM7 34h1.05v1.05h-1.05zM8 34h1.05v1.05h-1.05zM9 34h1.05v1.05h-1.05zM10 34h1.05v1.05h-1.05zM8 35h1.05v1.05h-1.05zM9 35h1.05v1.05h-1.05z"/>
</g>
</g></g>
<rect x="37.2" y="256.5" width="44.8" height="19.19999999999999" fill="#fff" fill-opacity="0.82"/>
<text x="44.0" y="269.8" font-size="13"><tspan font-weight="bold">b</tspan> site</text>
<path d="M130.6,255.4 L130.6,350.9 L227.3,350.9" fill="none" stroke="#3a3a3a" stroke-width="1.3" stroke-dasharray="11.8 12" stroke-dashoffset="5.8"/>
<rect x="124.2" y="296.4" width="13.600000000000009" height="13.100000000000023" fill="none" stroke="#000" stroke-width="1.3"/>
<rect x="172.7" y="344.5" width="13.700000000000017" height="13.699999999999989" fill="none" stroke="#000" stroke-width="1.3"/>
<path d="M46.9,439.2 L46.9,422.1 M46.9,439.2 L64.4,439.2" stroke="#000" stroke-width="1.5" fill="none"/>
<path d="M46.4,410.1 L40.1,425.8 L46.9,423.1 L53.5,425.8Z" fill="#000"/>
<path d="M76.4,439.2 L61.800000000000004,432.8 L64.4,439.2 L61.800000000000004,445.4Z" fill="#000"/>
<text x="47.9" y="409.6" font-size="12" font-weight="bold" >y</text>
<text x="73.4" y="432.0" font-size="12" font-weight="bold" >x</text>
<rect x="34.4" y="255.4" width="192.9" height="191.70000000000002" fill="none" stroke="#444" stroke-width="1.2"/>
<path d="M34.4,447.1 v-2 M34.4,255.4 v2" stroke="#444" stroke-width="1"/>
<path d="M130.85,447.1 v-2 M130.85,255.4 v2" stroke="#444" stroke-width="1"/>
<path d="M227.3,447.1 v-2 M227.3,255.4 v2" stroke="#444" stroke-width="1"/>
<path d="M34.4,255.4 h2 M227.3,255.4 h-2" stroke="#444" stroke-width="1"/>
<path d="M34.4,351.25 h2 M227.3,351.25 h-2" stroke="#444" stroke-width="1"/>
<path d="M34.4,447.1 h2 M227.3,447.1 h-2" stroke="#444" stroke-width="1"/>
<text x="0" y="12" font-size="16" font-weight="bold" >a</text>
<text x="0" y="261.6" font-size="16" font-weight="bold" >d</text>
<text x="234" y="11.8" font-size="16" font-weight="bold" >b</text>
<text x="234" y="261.6" font-size="16" font-weight="bold" >e</text>
<text x="462" y="11.8" font-size="16" font-weight="bold" >c</text>
<text x="463.5" y="261.4" font-size="16" font-weight="bold" >f</text>
<text x="9.8" y="12.1" font-size="12.5">4a</text>
<text x="24.1" y="16.5" font-size="8">0</text>
<text x="23.4" y="108.6" font-size="12.5" >0</text>
<text x="4.6" y="194.2" font-size="12.5">-4a</text>
<text x="23.4" y="198.6" font-size="8">0</text>
<text x="21.5" y="209.7" font-size="12.5">-4a</text>
<text x="39.7" y="214.1" font-size="8">0</text>
<text x="129.95" y="209.7" font-size="12.5" text-anchor="middle" >0</text>
<text x="217.0" y="209.7" font-size="12.5">4a</text>
<text x="230.8" y="214.1" font-size="8">0</text>
<text x="9.8" y="263.0" font-size="12.5">4a</text>
<text x="24.1" y="267.4" font-size="8">0</text>
<text x="23.4" y="359.35" font-size="12.5" >0</text>
<text x="4.6" y="444.8" font-size="12.5">-4a</text>
<text x="23.4" y="449.20000000000005" font-size="8">0</text>
<text x="22.4" y="460.3" font-size="12.5">-4a</text>
<text x="40.6" y="464.70000000000005" font-size="8">0</text>
<text x="130.85" y="460.3" font-size="12.5" text-anchor="middle" >0</text>
<text x="217.9" y="460.3" font-size="12.5">4a</text>
<text x="231.70000000000002" y="464.70000000000005" font-size="8">0</text>
<g filter="url(#cm0)"><rect x="78" y="213.7" width="104.19999999999999" height="14.100000000000023" fill="url(#cbar)"/></g>
<rect x="78" y="213.7" width="104.19999999999999" height="14.100000000000023" fill="none" stroke="#000" stroke-width="1.5"/>
<text x="76.7" y="223.89999999999998" font-size="13.3" text-anchor="end" >-0.15</text>
<text x="185.79999999999998" y="223.89999999999998" font-size="13.3" >0.15</text>
<text x="130.1" y="241.3" font-size="12.5" text-anchor="middle" >A(r)</text>
<g filter="url(#cm0)"><rect x="78.9" y="464.3" width="104.19999999999999" height="14.099999999999966" fill="url(#cbar)"/></g>
<rect x="78.9" y="464.3" width="104.19999999999999" height="14.099999999999966" fill="none" stroke="#000" stroke-width="1.5"/>
<text x="77.60000000000001" y="474.5" font-size="13.3" text-anchor="end" >-0.15</text>
<text x="186.7" y="474.5" font-size="13.3" >0.15</text>
<text x="131.0" y="491.9" font-size="12.5" text-anchor="middle" >A(r)</text>
<g filter="url(#cm0)">
<linearGradient id="Btc0" x1="0" y1="0" x2="0" y2="1"><stop offset="0.056" stop-color="#6c6c6c"/><stop offset="0.167" stop-color="#6c6c6c"/><stop offset="0.278" stop-color="#6c6c6c"/><stop offset="0.389" stop-color="#6c6c6c"/><stop offset="0.500" stop-color="#737373"/><stop offset="0.611" stop-color="#737373"/><stop offset="0.722" stop-color="#797979"/><stop offset="0.833" stop-color="#737373"/><stop offset="0.944" stop-color="#6c6c6c"/></linearGradient>
<rect x="258.50" y="5.2" width="6.93" height="95.2" fill="url(#Btc0)"/>
<linearGradient id="Btc1" x1="0" y1="0" x2="0" y2="1"><stop offset="0.056" stop-color="#6c6c6c"/><stop offset="0.167" stop-color="#6c6c6c"/><stop offset="0.278" stop-color="#6c6c6c"/><stop offset="0.389" stop-color="#6c6c6c"/><stop offset="0.500" stop-color="#797979"/><stop offset="0.611" stop-color="#808080"/><stop offset="0.722" stop-color="#808080"/><stop offset="0.833" stop-color="#797979"/><stop offset="0.944" stop-color="#737373"/></linearGradient>
<rect x="265.13" y="5.2" width="6.93" height="95.2" fill="url(#Btc1)"/>
<linearGradient id="Btc2" x1="0" y1="0" x2="0" y2="1"><stop offset="0.056" stop-color="#6c6c6c"/><stop offset="0.167" stop-color="#6c6c6c"/><stop offset="0.278" stop-color="#6c6c6c"/><stop offset="0.389" stop-color="#737373"/><stop offset="0.500" stop-color="#797979"/><stop offset="0.611" stop-color="#868686"/><stop offset="0.722" stop-color="#868686"/><stop offset="0.833" stop-color="#797979"/><stop offset="0.944" stop-color="#737373"/></linearGradient>
<rect x="271.77" y="5.2" width="6.93" height="95.2" fill="url(#Btc2)"/>
<linearGradient id="Btc3" x1="0" y1="0" x2="0" y2="1"><stop offset="0.056" stop-color="#707070"/><stop offset="0.167" stop-color="#707070"/><stop offset="0.278" stop-color="#707070"/><stop offset="0.389" stop-color="#707070"/><stop offset="0.500" stop-color="#797979"/><stop offset="0.611" stop-color="#868686"/><stop offset="0.722" stop-color="#8a8a8a"/><stop offset="0.833" stop-color="#808080"/><stop offset="0.944" stop-color="#737373"/></linearGradient>
<rect x="278.40" y="5.2" width="6.93" height="95.2" fill="url(#Btc3)"/>
<linearGradient id="Btc4" x1="0" y1="0" x2="0" y2="1"><stop offset="0.056" stop-color="#707070"/><stop offset="0.167" stop-color="#707070"/><stop offset="0.278" stop-color="#707070"/><stop offset="0.389" stop-color="#737373"/><stop offset="0.500" stop-color="#808080"/><stop offset="0.611" stop-color="#8c8c8c"/><stop offset="0.722" stop-color="#8f8f8f"/><stop offset="0.833" stop-color="#868686"/><stop offset="0.944" stop-color="#737373"/></linearGradient>
<rect x="285.04" y="5.2" width="6.93" height="95.2" fill="url(#Btc4)"/>
<linearGradient id="Btc5" x1="0" y1="0" x2="0" y2="1"><stop offset="0.056" stop-color="#737373"/><stop offset="0.167" stop-color="#737373"/><stop offset="0.278" stop-color="#737373"/><stop offset="0.389" stop-color="#757575"/><stop offset="0.500" stop-color="#808080"/><stop offset="0.611" stop-color="#8c8c8c"/><stop offset="0.722" stop-color="#8f8f8f"/><stop offset="0.833" stop-color="#808080"/><stop offset="0.944" stop-color="#6c6c6c"/></linearGradient>
<rect x="291.67" y="5.2" width="6.93" height="95.2" fill="url(#Btc5)"/>
<linearGradient id="Btc6" x1="0" y1="0" x2="0" y2="1"><stop offset="0.056" stop-color="#737373"/><stop offset="0.167" stop-color="#737373"/><stop offset="0.278" stop-color="#737373"/><stop offset="0.389" stop-color="#737373"/><stop offset="0.500" stop-color="#808080"/><stop offset="0.611" stop-color="#8a8a8a"/><stop offset="0.722" stop-color="#939393"/><stop offset="0.833" stop-color="#797979"/><stop offset="0.944" stop-color="#666666"/></linearGradient>
<rect x="298.31" y="5.2" width="6.93" height="95.2" fill="url(#Btc6)"/>
<linearGradient id="Btc7" x1="0" y1="0" x2="0" y2="1"><stop offset="0.056" stop-color="#868686"/><stop offset="0.167" stop-color="#737373"/><stop offset="0.278" stop-color="#707070"/><stop offset="0.389" stop-color="#737373"/><stop offset="0.500" stop-color="#797979"/><stop offset="0.611" stop-color="#868686"/><stop offset="0.722" stop-color="#8c8c8c"/><stop offset="0.833" stop-color="#797979"/><stop offset="0.944" stop-color="#666666"/></linearGradient>
<rect x="304.94" y="5.2" width="6.93" height="95.2" fill="url(#Btc7)"/>
<linearGradient id="Btc8" x1="0" y1="0" x2="0" y2="1"><stop offset="0.056" stop-color="#868686"/><stop offset="0.167" stop-color="#6c6c6c"/><stop offset="0.278" stop-color="#6c6c6c"/><stop offset="0.389" stop-color="#6c6c6c"/><stop offset="0.500" stop-color="#737373"/><stop offset="0.611" stop-color="#868686"/><stop offset="0.722" stop-color="#8f8f8f"/><stop offset="0.833" stop-color="#797979"/><stop offset="0.944" stop-color="#6c6c6c"/></linearGradient>
<rect x="311.58" y="5.2" width="6.93" height="95.2" fill="url(#Btc8)"/>
<linearGradient id="Btc9" x1="0" y1="0" x2="0" y2="1"><stop offset="0.056" stop-color="#6c6c6c"/><stop offset="0.167" stop-color="#595959"/><stop offset="0.278" stop-color="#606060"/><stop offset="0.389" stop-color="#666666"/><stop offset="0.500" stop-color="#737373"/><stop offset="0.611" stop-color="#939393"/><stop offset="0.722" stop-color="#999999"/><stop offset="0.833" stop-color="#868686"/><stop offset="0.944" stop-color="#737373"/></linearGradient>
<rect x="318.21" y="5.2" width="6.93" height="95.2" fill="url(#Btc9)"/>
<linearGradient id="Btc10" x1="0" y1="0" x2="0" y2="1"><stop offset="0.056" stop-color="#808080"/><stop offset="0.167" stop-color="#595959"/><stop offset="0.278" stop-color="#535353"/><stop offset="0.389" stop-color="#535353"/><stop offset="0.500" stop-color="#606060"/><stop offset="0.611" stop-color="#939393"/><stop offset="0.722" stop-color="#a6a6a6"/><stop offset="0.833" stop-color="#939393"/><stop offset="0.944" stop-color="#808080"/></linearGradient>
<rect x="324.84" y="5.2" width="6.93" height="95.2" fill="url(#Btc10)"/>
<linearGradient id="Btc11" x1="0" y1="0" x2="0" y2="1"><stop offset="0.056" stop-color="#797979"/><stop offset="0.167" stop-color="#4c4c4c"/><stop offset="0.278" stop-color="#464646"/><stop offset="0.389" stop-color="#464646"/><stop offset="0.500" stop-color="#595959"/><stop offset="0.611" stop-color="#999999"/><stop offset="0.722" stop-color="#b2b2b2"/><stop offset="0.833" stop-color="#a6a6a6"/><stop offset="0.944" stop-color="#868686"/></linearGradient>
<rect x="331.48" y="5.2" width="6.93" height="95.2" fill="url(#Btc11)"/>
<linearGradient id="Btc12" x1="0" y1="0" x2="0" y2="1"><stop offset="0.056" stop-color="#808080"/><stop offset="0.167" stop-color="#535353"/><stop offset="0.278" stop-color="#464646"/><stop offset="0.389" stop-color="#404040"/><stop offset="0.500" stop-color="#4c4c4c"/><stop offset="0.611" stop-color="#666666"/><stop offset="0.722" stop-color="#8c8c8c"/><stop offset="0.833" stop-color="#999999"/><stop offset="0.944" stop-color="#939393"/></linearGradient>
<rect x="338.11" y="5.2" width="6.93" height="95.2" fill="url(#Btc12)"/>
<linearGradient id="Btc13" x1="0" y1="0" x2="0" y2="1"><stop offset="0.056" stop-color="#868686"/><stop offset="0.167" stop-color="#595959"/><stop offset="0.278" stop-color="#464646"/><stop offset="0.389" stop-color="#2d2d2d"/><stop offset="0.500" stop-color="#131313"/><stop offset="0.611" stop-color="#191919"/><stop offset="0.722" stop-color="#4c4c4c"/><stop offset="0.833" stop-color="#808080"/><stop offset="0.944" stop-color="#868686"/></linearGradient>
<rect x="344.75" y="5.2" width="6.93" height="95.2" fill="url(#Btc13)"/>
<linearGradient id="Btc14" x1="0" y1="0" x2="0" y2="1"><stop offset="0.056" stop-color="#808080"/><stop offset="0.167" stop-color="#535353"/><stop offset="0.278" stop-color="#393939"/><stop offset="0.389" stop-color="#202020"/><stop offset="0.500" stop-color="#060606"/><stop offset="0.611" stop-color="#000000"/><stop offset="0.722" stop-color="#202020"/><stop offset="0.833" stop-color="#595959"/><stop offset="0.944" stop-color="#808080"/></linearGradient>
<rect x="351.38" y="5.2" width="6.93" height="95.2" fill="url(#Btc14)"/>
<linearGradient id="Btc15" x1="0" y1="0" x2="0" y2="1"><stop offset="0.056" stop-color="#797979"/><stop offset="0.167" stop-color="#595959"/><stop offset="0.278" stop-color="#464646"/><stop offset="0.389" stop-color="#333333"/><stop offset="0.500" stop-color="#191919"/><stop offset="0.611" stop-color="#131313"/><stop offset="0.722" stop-color="#262626"/><stop offset="0.833" stop-color="#404040"/><stop offset="0.944" stop-color="#535353"/></linearGradient>
<rect x="358.02" y="5.2" width="6.93" height="95.2" fill="url(#Btc15)"/>
<linearGradient id="Btc16" x1="0" y1="0" x2="0" y2="1"><stop offset="0.056" stop-color="#808080"/><stop offset="0.167" stop-color="#6c6c6c"/><stop offset="0.278" stop-color="#666666"/><stop offset="0.389" stop-color="#535353"/><stop offset="0.500" stop-color="#333333"/><stop offset="0.611" stop-color="#262626"/><stop offset="0.722" stop-color="#393939"/><stop offset="0.833" stop-color="#464646"/><stop offset="0.944" stop-color="#535353"/></linearGradient>
<rect x="364.65" y="5.2" width="6.93" height="95.2" fill="url(#Btc16)"/>
<linearGradient id="Btc17" x1="0" y1="0" x2="0" y2="1"><stop offset="0.056" stop-color="#8c8c8c"/><stop offset="0.167" stop-color="#868686"/><stop offset="0.278" stop-color="#797979"/><stop offset="0.389" stop-color="#535353"/><stop offset="0.500" stop-color="#404040"/><stop offset="0.611" stop-color="#404040"/><stop offset="0.722" stop-color="#535353"/><stop offset="0.833" stop-color="#606060"/><stop offset="0.944" stop-color="#666666"/></linearGradient>
<rect x="371.29" y="5.2" width="6.93" height="95.2" fill="url(#Btc17)"/>
<linearGradient id="Btc18" x1="0" y1="0" x2="0" y2="1"><stop offset="0.056" stop-color="#999999"/><stop offset="0.167" stop-color="#9f9f9f"/><stop offset="0.278" stop-color="#999999"/><stop offset="0.389" stop-color="#595959"/><stop offset="0.500" stop-color="#404040"/><stop offset="0.611" stop-color="#404040"/><stop offset="0.722" stop-color="#535353"/><stop offset="0.833" stop-color="#666666"/><stop offset="0.944" stop-color="#6c6c6c"/></linearGradient>
<rect x="377.92" y="5.2" width="6.93" height="95.2" fill="url(#Btc18)"/>
<linearGradient id="Btc19" x1="0" y1="0" x2="0" y2="1"><stop offset="0.056" stop-color="#999999"/><stop offset="0.167" stop-color="#9f9f9f"/><stop offset="0.278" stop-color="#999999"/><stop offset="0.389" stop-color="#606060"/><stop offset="0.500" stop-color="#464646"/><stop offset="0.611" stop-color="#464646"/><stop offset="0.722" stop-color="#595959"/><stop offset="0.833" stop-color="#666666"/><stop offset="0.944" stop-color="#6c6c6c"/></linearGradient>
<rect x="384.56" y="5.2" width="6.93" height="95.2" fill="url(#Btc19)"/>
<linearGradient id="Btc20" x1="0" y1="0" x2="0" y2="1"><stop offset="0.056" stop-color="#9f9f9f"/><stop offset="0.167" stop-color="#a6a6a6"/><stop offset="0.278" stop-color="#999999"/><stop offset="0.389" stop-color="#595959"/><stop offset="0.500" stop-color="#464646"/><stop offset="0.611" stop-color="#464646"/><stop offset="0.722" stop-color="#595959"/><stop offset="0.833" stop-color="#666666"/><stop offset="0.944" stop-color="#666666"/></linearGradient>
<rect x="391.19" y="5.2" width="6.93" height="95.2" fill="url(#Btc20)"/>
<linearGradient id="Btc21" x1="0" y1="0" x2="0" y2="1"><stop offset="0.056" stop-color="#999999"/><stop offset="0.167" stop-color="#999999"/><stop offset="0.278" stop-color="#8c8c8c"/><stop offset="0.389" stop-color="#535353"/><stop offset="0.500" stop-color="#404040"/><stop offset="0.611" stop-color="#464646"/><stop offset="0.722" stop-color="#595959"/><stop offset="0.833" stop-color="#606060"/><stop offset="0.944" stop-color="#666666"/></linearGradient>
<rect x="397.82" y="5.2" width="6.93" height="95.2" fill="url(#Btc21)"/>
<linearGradient id="Btc22" x1="0" y1="0" x2="0" y2="1"><stop offset="0.056" stop-color="#939393"/><stop offset="0.167" stop-color="#939393"/><stop offset="0.278" stop-color="#868686"/><stop offset="0.389" stop-color="#535353"/><stop offset="0.500" stop-color="#404040"/><stop offset="0.611" stop-color="#464646"/><stop offset="0.722" stop-color="#595959"/><stop offset="0.833" stop-color="#606060"/><stop offset="0.944" stop-color="#666666"/></linearGradient>
<rect x="404.46" y="5.2" width="6.93" height="95.2" fill="url(#Btc22)"/>
<linearGradient id="Btc23" x1="0" y1="0" x2="0" y2="1"><stop offset="0.056" stop-color="#8c8c8c"/><stop offset="0.167" stop-color="#8c8c8c"/><stop offset="0.278" stop-color="#868686"/><stop offset="0.389" stop-color="#535353"/><stop offset="0.500" stop-color="#404040"/><stop offset="0.611" stop-color="#464646"/><stop offset="0.722" stop-color="#595959"/><stop offset="0.833" stop-color="#606060"/><stop offset="0.944" stop-color="#606060"/></linearGradient>
<rect x="411.09" y="5.2" width="6.93" height="95.2" fill="url(#Btc23)"/>
<linearGradient id="Btc24" x1="0" y1="0" x2="0" y2="1"><stop offset="0.056" stop-color="#8c8c8c"/><stop offset="0.167" stop-color="#8c8c8c"/><stop offset="0.278" stop-color="#868686"/><stop offset="0.389" stop-color="#535353"/><stop offset="0.500" stop-color="#404040"/><stop offset="0.611" stop-color="#464646"/><stop offset="0.722" stop-color="#595959"/><stop offset="0.833" stop-color="#606060"/><stop offset="0.944" stop-color="#606060"/></linearGradient>
<rect x="417.73" y="5.2" width="6.93" height="95.2" fill="url(#Btc24)"/>
<linearGradient id="Btc25" x1="0" y1="0" x2="0" y2="1"><stop offset="0.056" stop-color="#8c8c8c"/><stop offset="0.167" stop-color="#8c8c8c"/><stop offset="0.278" stop-color="#868686"/><stop offset="0.389" stop-color="#535353"/><stop offset="0.500" stop-color="#404040"/><stop offset="0.611" stop-color="#464646"/><stop offset="0.722" stop-color="#595959"/><stop offset="0.833" stop-color="#606060"/><stop offset="0.944" stop-color="#606060"/></linearGradient>
<rect x="424.36" y="5.2" width="6.93" height="95.2" fill="url(#Btc25)"/>
<linearGradient id="Btc26" x1="0" y1="0" x2="0" y2="1"><stop offset="0.056" stop-color="#8c8c8c"/><stop offset="0.167" stop-color="#8c8c8c"/><stop offset="0.278" stop-color="#868686"/><stop offset="0.389" stop-color="#535353"/><stop offset="0.500" stop-color="#404040"/><stop offset="0.611" stop-color="#464646"/><stop offset="0.722" stop-color="#595959"/><stop offset="0.833" stop-color="#606060"/><stop offset="0.944" stop-color="#606060"/></linearGradient>
<rect x="431.00" y="5.2" width="6.93" height="95.2" fill="url(#Btc26)"/>
<linearGradient id="Btc27" x1="0" y1="0" x2="0" y2="1"><stop offset="0.056" stop-color="#8c8c8c"/><stop offset="0.167" stop-color="#8c8c8c"/><stop offset="0.278" stop-color="#868686"/><stop offset="0.389" stop-color="#535353"/><stop offset="0.500" stop-color="#404040"/><stop offset="0.611" stop-color="#464646"/><stop offset="0.722" stop-color="#595959"/><stop offset="0.833" stop-color="#606060"/><stop offset="0.944" stop-color="#606060"/></linearGradient>
<rect x="437.63" y="5.2" width="6.93" height="95.2" fill="url(#Btc27)"/>
<linearGradient id="Btc28" x1="0" y1="0" x2="0" y2="1"><stop offset="0.056" stop-color="#8c8c8c"/><stop offset="0.167" stop-color="#8c8c8c"/><stop offset="0.278" stop-color="#868686"/><stop offset="0.389" stop-color="#535353"/><stop offset="0.500" stop-color="#404040"/><stop offset="0.611" stop-color="#464646"/><stop offset="0.722" stop-color="#595959"/><stop offset="0.833" stop-color="#606060"/><stop offset="0.944" stop-color="#606060"/></linearGradient>
<rect x="444.27" y="5.2" width="6.93" height="95.2" fill="url(#Btc28)"/>
</g>
<g filter="url(#cm0)">
<linearGradient id="Bbc0" x1="0" y1="0" x2="0" y2="1"><stop offset="0.056" stop-color="#8a8a8a"/><stop offset="0.167" stop-color="#8a8a8a"/><stop offset="0.278" stop-color="#8a8a8a"/><stop offset="0.389" stop-color="#868686"/><stop offset="0.500" stop-color="#797979"/><stop offset="0.611" stop-color="#737373"/><stop offset="0.722" stop-color="#737373"/><stop offset="0.833" stop-color="#797979"/><stop offset="0.944" stop-color="#797979"/></linearGradient>
<rect x="258.50" y="100.4" width="6.93" height="96.0" fill="url(#Bbc0)"/>
<linearGradient id="Bbc1" x1="0" y1="0" x2="0" y2="1"><stop offset="0.056" stop-color="#8c8c8c"/><stop offset="0.167" stop-color="#8c8c8c"/><stop offset="0.278" stop-color="#8a8a8a"/><stop offset="0.389" stop-color="#868686"/><stop offset="0.500" stop-color="#797979"/><stop offset="0.611" stop-color="#707070"/><stop offset="0.722" stop-color="#707070"/><stop offset="0.833" stop-color="#757575"/><stop offset="0.944" stop-color="#797979"/></linearGradient>
<rect x="265.13" y="100.4" width="6.93" height="96.0" fill="url(#Bbc1)"/>
<linearGradient id="Bbc2" x1="0" y1="0" x2="0" y2="1"><stop offset="0.056" stop-color="#8c8c8c"/><stop offset="0.167" stop-color="#8a8a8a"/><stop offset="0.278" stop-color="#868686"/><stop offset="0.389" stop-color="#868686"/><stop offset="0.500" stop-color="#797979"/><stop offset="0.611" stop-color="#707070"/><stop offset="0.722" stop-color="#707070"/><stop offset="0.833" stop-color="#737373"/><stop offset="0.944" stop-color="#797979"/></linearGradient>
<rect x="271.77" y="100.4" width="6.93" height="96.0" fill="url(#Bbc2)"/>
<linearGradient id="Bbc3" x1="0" y1="0" x2="0" y2="1"><stop offset="0.056" stop-color="#8a8a8a"/><stop offset="0.167" stop-color="#8a8a8a"/><stop offset="0.278" stop-color="#868686"/><stop offset="0.389" stop-color="#838383"/><stop offset="0.500" stop-color="#797979"/><stop offset="0.611" stop-color="#707070"/><stop offset="0.722" stop-color="#707070"/><stop offset="0.833" stop-color="#737373"/><stop offset="0.944" stop-color="#797979"/></linearGradient>
<rect x="278.40" y="100.4" width="6.93" height="96.0" fill="url(#Bbc3)"/>
<linearGradient id="Bbc4" x1="0" y1="0" x2="0" y2="1"><stop offset="0.056" stop-color="#8c8c8c"/><stop offset="0.167" stop-color="#8f8f8f"/><stop offset="0.278" stop-color="#8c8c8c"/><stop offset="0.389" stop-color="#808080"/><stop offset="0.500" stop-color="#737373"/><stop offset="0.611" stop-color="#6c6c6c"/><stop offset="0.722" stop-color="#6c6c6c"/><stop offset="0.833" stop-color="#737373"/><stop offset="0.944" stop-color="#797979"/></linearGradient>
<rect x="285.04" y="100.4" width="6.93" height="96.0" fill="url(#Bbc4)"/>
<linearGradient id="Bbc5" x1="0" y1="0" x2="0" y2="1"><stop offset="0.056" stop-color="#8a8a8a"/><stop offset="0.167" stop-color="#8c8c8c"/><stop offset="0.278" stop-color="#8a8a8a"/><stop offset="0.389" stop-color="#808080"/><stop offset="0.500" stop-color="#707070"/><stop offset="0.611" stop-color="#696969"/><stop offset="0.722" stop-color="#696969"/><stop offset="0.833" stop-color="#707070"/><stop offset="0.944" stop-color="#797979"/></linearGradient>
<rect x="291.67" y="100.4" width="6.93" height="96.0" fill="url(#Bbc5)"/>
<linearGradient id="Bbc6" x1="0" y1="0" x2="0" y2="1"><stop offset="0.056" stop-color="#8c8c8c"/><stop offset="0.167" stop-color="#8f8f8f"/><stop offset="0.278" stop-color="#8c8c8c"/><stop offset="0.389" stop-color="#808080"/><stop offset="0.500" stop-color="#737373"/><stop offset="0.611" stop-color="#666666"/><stop offset="0.722" stop-color="#666666"/><stop offset="0.833" stop-color="#737373"/><stop offset="0.944" stop-color="#797979"/></linearGradient>
<rect x="298.31" y="100.4" width="6.93" height="96.0" fill="url(#Bbc6)"/>
<linearGradient id="Bbc7" x1="0" y1="0" x2="0" y2="1"><stop offset="0.056" stop-color="#8c8c8c"/><stop offset="0.167" stop-color="#8f8f8f"/><stop offset="0.278" stop-color="#8c8c8c"/><stop offset="0.389" stop-color="#808080"/><stop offset="0.500" stop-color="#737373"/><stop offset="0.611" stop-color="#6c6c6c"/><stop offset="0.722" stop-color="#6c6c6c"/><stop offset="0.833" stop-color="#737373"/><stop offset="0.944" stop-color="#797979"/></linearGradient>
<rect x="304.94" y="100.4" width="6.93" height="96.0" fill="url(#Bbc7)"/>
<linearGradient id="Bbc8" x1="0" y1="0" x2="0" y2="1"><stop offset="0.056" stop-color="#8f8f8f"/><stop offset="0.167" stop-color="#939393"/><stop offset="0.278" stop-color="#939393"/><stop offset="0.389" stop-color="#868686"/><stop offset="0.500" stop-color="#797979"/><stop offset="0.611" stop-color="#737373"/><stop offset="0.722" stop-color="#737373"/><stop offset="0.833" stop-color="#797979"/><stop offset="0.944" stop-color="#808080"/></linearGradient>
<rect x="311.58" y="100.4" width="6.93" height="96.0" fill="url(#Bbc8)"/>
<linearGradient id="Bbc9" x1="0" y1="0" x2="0" y2="1"><stop offset="0.056" stop-color="#999999"/><stop offset="0.167" stop-color="#9f9f9f"/><stop offset="0.278" stop-color="#a6a6a6"/><stop offset="0.389" stop-color="#8c8c8c"/><stop offset="0.500" stop-color="#737373"/><stop offset="0.611" stop-color="#666666"/><stop offset="0.722" stop-color="#606060"/><stop offset="0.833" stop-color="#6c6c6c"/><stop offset="0.944" stop-color="#797979"/></linearGradient>
<rect x="318.21" y="100.4" width="6.93" height="96.0" fill="url(#Bbc9)"/>
<linearGradient id="Bbc10" x1="0" y1="0" x2="0" y2="1"><stop offset="0.056" stop-color="#9f9f9f"/><stop offset="0.167" stop-color="#a6a6a6"/><stop offset="0.278" stop-color="#a6a6a6"/><stop offset="0.389" stop-color="#999999"/><stop offset="0.500" stop-color="#797979"/><stop offset="0.611" stop-color="#595959"/><stop offset="0.722" stop-color="#595959"/><stop offset="0.833" stop-color="#666666"/><stop offset="0.944" stop-color="#797979"/></linearGradient>
<rect x="324.84" y="100.4" width="6.93" height="96.0" fill="url(#Bbc10)"/>
<linearGradient id="Bbc11" x1="0" y1="0" x2="0" y2="1"><stop offset="0.056" stop-color="#a6a6a6"/><stop offset="0.167" stop-color="#b2b2b2"/><stop offset="0.278" stop-color="#b9b9b9"/><stop offset="0.389" stop-color="#acacac"/><stop offset="0.500" stop-color="#808080"/><stop offset="0.611" stop-color="#595959"/><stop offset="0.722" stop-color="#535353"/><stop offset="0.833" stop-color="#606060"/><stop offset="0.944" stop-color="#737373"/></linearGradient>
<rect x="331.48" y="100.4" width="6.93" height="96.0" fill="url(#Bbc11)"/>
<linearGradient id="Bbc12" x1="0" y1="0" x2="0" y2="1"><stop offset="0.056" stop-color="#a6a6a6"/><stop offset="0.167" stop-color="#b9b9b9"/><stop offset="0.278" stop-color="#c6c6c6"/><stop offset="0.389" stop-color="#c6c6c6"/><stop offset="0.500" stop-color="#bfbfbf"/><stop offset="0.611" stop-color="#acacac"/><stop offset="0.722" stop-color="#868686"/><stop offset="0.833" stop-color="#737373"/><stop offset="0.944" stop-color="#939393"/></linearGradient>
<rect x="338.11" y="100.4" width="6.93" height="96.0" fill="url(#Bbc12)"/>
<linearGradient id="Bbc13" x1="0" y1="0" x2="0" y2="1"><stop offset="0.056" stop-color="#9f9f9f"/><stop offset="0.167" stop-color="#b9b9b9"/><stop offset="0.278" stop-color="#cccccc"/><stop offset="0.389" stop-color="#e6e6e6"/><stop offset="0.500" stop-color="#f9f9f9"/><stop offset="0.611" stop-color="#f9f9f9"/><stop offset="0.722" stop-color="#d9d9d9"/><stop offset="0.833" stop-color="#a6a6a6"/><stop offset="0.944" stop-color="#cccccc"/></linearGradient>
<rect x="344.75" y="100.4" width="6.93" height="96.0" fill="url(#Bbc13)"/>
<linearGradient id="Bbc14" x1="0" y1="0" x2="0" y2="1"><stop offset="0.056" stop-color="#999999"/><stop offset="0.167" stop-color="#b2b2b2"/><stop offset="0.278" stop-color="#c6c6c6"/><stop offset="0.389" stop-color="#e6e6e6"/><stop offset="0.500" stop-color="#f9f9f9"/><stop offset="0.611" stop-color="#ffffff"/><stop offset="0.722" stop-color="#f2f2f2"/><stop offset="0.833" stop-color="#b2b2b2"/><stop offset="0.944" stop-color="#a6a6a6"/></linearGradient>
<rect x="351.38" y="100.4" width="6.93" height="96.0" fill="url(#Bbc14)"/>
<linearGradient id="Bbc15" x1="0" y1="0" x2="0" y2="1"><stop offset="0.056" stop-color="#999999"/><stop offset="0.167" stop-color="#acacac"/><stop offset="0.278" stop-color="#b9b9b9"/><stop offset="0.389" stop-color="#cccccc"/><stop offset="0.500" stop-color="#dfdfdf"/><stop offset="0.611" stop-color="#e6e6e6"/><stop offset="0.722" stop-color="#d9d9d9"/><stop offset="0.833" stop-color="#bfbfbf"/><stop offset="0.944" stop-color="#acacac"/></linearGradient>
<rect x="358.02" y="100.4" width="6.93" height="96.0" fill="url(#Bbc15)"/>
<linearGradient id="Bbc16" x1="0" y1="0" x2="0" y2="1"><stop offset="0.056" stop-color="#8c8c8c"/><stop offset="0.167" stop-color="#999999"/><stop offset="0.278" stop-color="#a6a6a6"/><stop offset="0.389" stop-color="#b9b9b9"/><stop offset="0.500" stop-color="#cccccc"/><stop offset="0.611" stop-color="#d2d2d2"/><stop offset="0.722" stop-color="#c6c6c6"/><stop offset="0.833" stop-color="#b9b9b9"/><stop offset="0.944" stop-color="#a6a6a6"/></linearGradient>
<rect x="364.65" y="100.4" width="6.93" height="96.0" fill="url(#Bbc16)"/>
<linearGradient id="Bbc17" x1="0" y1="0" x2="0" y2="1"><stop offset="0.056" stop-color="#808080"/><stop offset="0.167" stop-color="#6c6c6c"/><stop offset="0.278" stop-color="#797979"/><stop offset="0.389" stop-color="#a6a6a6"/><stop offset="0.500" stop-color="#bfbfbf"/><stop offset="0.611" stop-color="#bfbfbf"/><stop offset="0.722" stop-color="#b2b2b2"/><stop offset="0.833" stop-color="#a6a6a6"/><stop offset="0.944" stop-color="#999999"/></linearGradient>
<rect x="371.29" y="100.4" width="6.93" height="96.0" fill="url(#Bbc17)"/>
<linearGradient id="Bbc18" x1="0" y1="0" x2="0" y2="1"><stop offset="0.056" stop-color="#797979"/><stop offset="0.167" stop-color="#666666"/><stop offset="0.278" stop-color="#6c6c6c"/><stop offset="0.389" stop-color="#999999"/><stop offset="0.500" stop-color="#b9b9b9"/><stop offset="0.611" stop-color="#b9b9b9"/><stop offset="0.722" stop-color="#acacac"/><stop offset="0.833" stop-color="#9f9f9f"/><stop offset="0.944" stop-color="#999999"/></linearGradient>
<rect x="377.92" y="100.4" width="6.93" height="96.0" fill="url(#Bbc18)"/>
<linearGradient id="Bbc19" x1="0" y1="0" x2="0" y2="1"><stop offset="0.056" stop-color="#797979"/><stop offset="0.167" stop-color="#666666"/><stop offset="0.278" stop-color="#6c6c6c"/><stop offset="0.389" stop-color="#999999"/><stop offset="0.500" stop-color="#b9b9b9"/><stop offset="0.611" stop-color="#b2b2b2"/><stop offset="0.722" stop-color="#a6a6a6"/><stop offset="0.833" stop-color="#999999"/><stop offset="0.944" stop-color="#939393"/></linearGradient>
<rect x="384.56" y="100.4" width="6.93" height="96.0" fill="url(#Bbc19)"/>
<linearGradient id="Bbc20" x1="0" y1="0" x2="0" y2="1"><stop offset="0.056" stop-color="#808080"/><stop offset="0.167" stop-color="#666666"/><stop offset="0.278" stop-color="#6c6c6c"/><stop offset="0.389" stop-color="#9f9f9f"/><stop offset="0.500" stop-color="#bfbfbf"/><stop offset="0.611" stop-color="#b2b2b2"/><stop offset="0.722" stop-color="#a6a6a6"/><stop offset="0.833" stop-color="#999999"/><stop offset="0.944" stop-color="#939393"/></linearGradient>
<rect x="391.19" y="100.4" width="6.93" height="96.0" fill="url(#Bbc20)"/>
<linearGradient id="Bbc21" x1="0" y1="0" x2="0" y2="1"><stop offset="0.056" stop-color="#797979"/><stop offset="0.167" stop-color="#666666"/><stop offset="0.278" stop-color="#737373"/><stop offset="0.389" stop-color="#a6a6a6"/><stop offset="0.500" stop-color="#bfbfbf"/><stop offset="0.611" stop-color="#acacac"/><stop offset="0.722" stop-color="#9f9f9f"/><stop offset="0.833" stop-color="#939393"/><stop offset="0.944" stop-color="#939393"/></linearGradient>
<rect x="397.82" y="100.4" width="6.93" height="96.0" fill="url(#Bbc21)"/>
<linearGradient id="Bbc22" x1="0" y1="0" x2="0" y2="1"><stop offset="0.056" stop-color="#797979"/><stop offset="0.167" stop-color="#6c6c6c"/><stop offset="0.278" stop-color="#737373"/><stop offset="0.389" stop-color="#a6a6a6"/><stop offset="0.500" stop-color="#bfbfbf"/><stop offset="0.611" stop-color="#acacac"/><stop offset="0.722" stop-color="#9f9f9f"/><stop offset="0.833" stop-color="#939393"/><stop offset="0.944" stop-color="#939393"/></linearGradient>
<rect x="404.46" y="100.4" width="6.93" height="96.0" fill="url(#Bbc22)"/>
<linearGradient id="Bbc23" x1="0" y1="0" x2="0" y2="1"><stop offset="0.056" stop-color="#797979"/><stop offset="0.167" stop-color="#6c6c6c"/><stop offset="0.278" stop-color="#737373"/><stop offset="0.389" stop-color="#a6a6a6"/><stop offset="0.500" stop-color="#bfbfbf"/><stop offset="0.611" stop-color="#acacac"/><stop offset="0.722" stop-color="#9f9f9f"/><stop offset="0.833" stop-color="#939393"/><stop offset="0.944" stop-color="#939393"/></linearGradient>
<rect x="411.09" y="100.4" width="6.93" height="96.0" fill="url(#Bbc23)"/>
<linearGradient id="Bbc24" x1="0" y1="0" x2="0" y2="1"><stop offset="0.056" stop-color="#797979"/><stop offset="0.167" stop-color="#6c6c6c"/><stop offset="0.278" stop-color="#737373"/><stop offset="0.389" stop-color="#a6a6a6"/><stop offset="0.500" stop-color="#bfbfbf"/><stop offset="0.611" stop-color="#acacac"/><stop offset="0.722" stop-color="#9f9f9f"/><stop offset="0.833" stop-color="#939393"/><stop offset="0.944" stop-color="#939393"/></linearGradient>
<rect x="417.73" y="100.4" width="6.93" height="96.0" fill="url(#Bbc24)"/>
<linearGradient id="Bbc25" x1="0" y1="0" x2="0" y2="1"><stop offset="0.056" stop-color="#797979"/><stop offset="0.167" stop-color="#6c6c6c"/><stop offset="0.278" stop-color="#737373"/><stop offset="0.389" stop-color="#a6a6a6"/><stop offset="0.500" stop-color="#bfbfbf"/><stop offset="0.611" stop-color="#acacac"/><stop offset="0.722" stop-color="#9f9f9f"/><stop offset="0.833" stop-color="#939393"/><stop offset="0.944" stop-color="#939393"/></linearGradient>
<rect x="424.36" y="100.4" width="6.93" height="96.0" fill="url(#Bbc25)"/>
<linearGradient id="Bbc26" x1="0" y1="0" x2="0" y2="1"><stop offset="0.056" stop-color="#797979"/><stop offset="0.167" stop-color="#6c6c6c"/><stop offset="0.278" stop-color="#737373"/><stop offset="0.389" stop-color="#a6a6a6"/><stop offset="0.500" stop-color="#bfbfbf"/><stop offset="0.611" stop-color="#acacac"/><stop offset="0.722" stop-color="#9f9f9f"/><stop offset="0.833" stop-color="#939393"/><stop offset="0.944" stop-color="#939393"/></linearGradient>
<rect x="431.00" y="100.4" width="6.93" height="96.0" fill="url(#Bbc26)"/>
<linearGradient id="Bbc27" x1="0" y1="0" x2="0" y2="1"><stop offset="0.056" stop-color="#797979"/><stop offset="0.167" stop-color="#6c6c6c"/><stop offset="0.278" stop-color="#737373"/><stop offset="0.389" stop-color="#a6a6a6"/><stop offset="0.500" stop-color="#bfbfbf"/><stop offset="0.611" stop-color="#acacac"/><stop offset="0.722" stop-color="#9f9f9f"/><stop offset="0.833" stop-color="#939393"/><stop offset="0.944" stop-color="#939393"/></linearGradient>
<rect x="437.63" y="100.4" width="6.93" height="96.0" fill="url(#Bbc27)"/>
<linearGradient id="Bbc28" x1="0" y1="0" x2="0" y2="1"><stop offset="0.056" stop-color="#797979"/><stop offset="0.167" stop-color="#6c6c6c"/><stop offset="0.278" stop-color="#737373"/><stop offset="0.389" stop-color="#a6a6a6"/><stop offset="0.500" stop-color="#bfbfbf"/><stop offset="0.611" stop-color="#acacac"/><stop offset="0.722" stop-color="#9f9f9f"/><stop offset="0.833" stop-color="#939393"/><stop offset="0.944" stop-color="#939393"/></linearGradient>
<rect x="444.27" y="100.4" width="6.93" height="96.0" fill="url(#Bbc28)"/>
</g>
<path d="M258.5,52.9 H450.9" stroke="#222" stroke-width="1.3" stroke-dasharray="11.8 12" stroke-dashoffset="5.6"/>
<path d="M258.5,148.4 H450.9" stroke="#222" stroke-width="1.3" stroke-dasharray="11.8 12" stroke-dashoffset="5.6"/>
<rect x="258.5" y="5.2" width="47" height="20.3" fill="#fff" fill-opacity="0.82"/>
<text x="267.1" y="19.5" font-size="12.5"><tspan font-weight="bold">a</tspan> site</text>
<rect x="410.4" y="5.2" width="40.5" height="20.8" fill="#fff" fill-opacity="0.82"/>
<text x="416.3" y="20.4" font-size="13" >(1,0)</text>
<rect x="410.4" y="100.4" width="40.5" height="20.3" fill="#fff" fill-opacity="0.82"/>
<text x="416.3" y="115.60000000000001" font-size="13" >(0,1)</text>
<rect x="258.5" y="5.2" width="192.39999999999998" height="191.20000000000002" fill="none" stroke="#111" stroke-width="1.3"/>
<path d="M258.5,100.4 H450.9" stroke="#111" stroke-width="1.5"/>
<path d="M277.0,5.2 v2 M277.0,98.4 v4 M277.0,196.4 v-2" stroke="#111" stroke-width="1"/>
<path d="M315.8,5.2 v2 M315.8,98.4 v4 M315.8,196.4 v-2" stroke="#111" stroke-width="1"/>
<path d="M354.6,5.2 v2 M354.6,98.4 v4 M354.6,196.4 v-2" stroke="#111" stroke-width="1"/>
<path d="M393.40000000000003,5.2 v2 M393.40000000000003,98.4 v4 M393.40000000000003,196.4 v-2" stroke="#111" stroke-width="1"/>
<path d="M432.20000000000005,5.2 v2 M432.20000000000005,98.4 v4 M432.20000000000005,196.4 v-2" stroke="#111" stroke-width="1"/>
<text x="256.7" y="14.9" font-size="12.5" text-anchor="end" >0</text>
<text x="256.7" y="57.9" font-size="12.5" text-anchor="end" >2</text>
<text x="256.7" y="99.0" font-size="12.5" text-anchor="end" >4</text>
<text x="256.7" y="110.8" font-size="12.5" text-anchor="end" >0</text>
<text x="256.7" y="152.9" font-size="12.5" text-anchor="end" >2</text>
<text x="256.7" y="196.5" font-size="12.5" text-anchor="end" >4</text>
<text x="277.0" y="209.8" font-size="12.5" text-anchor="middle" >-1</text>
<text x="315.8" y="209.8" font-size="12.5" text-anchor="middle" >-0.5</text>
<text x="354.6" y="209.8" font-size="12.5" text-anchor="middle" >0</text>
<text x="393.40000000000003" y="209.8" font-size="12.5" text-anchor="middle" >0.5</text>
<text x="432.20000000000005" y="209.8" font-size="12.5" text-anchor="middle" >1</text>
<text x="354.8" y="224.20000000000002" font-size="13" text-anchor="middle" >E(meV)</text>
<text transform="translate(242.7,100.5) rotate(-90)" font-size="10.3" text-anchor="middle">Away from the center (a<tspan font-size="6.5" dy="2">0</tspan><tspan dy="-2">)</tspan></text>
<g filter="url(#cm0)">
<linearGradient id="Etc0" x1="0" y1="0" x2="0" y2="1"><stop offset="0.056" stop-color="#8c8c8c"/><stop offset="0.167" stop-color="#8c8c8c"/><stop offset="0.278" stop-color="#8f8f8f"/><stop offset="0.389" stop-color="#8c8c8c"/><stop offset="0.500" stop-color="#8c8c8c"/><stop offset="0.611" stop-color="#999999"/><stop offset="0.722" stop-color="#939393"/><stop offset="0.833" stop-color="#8c8c8c"/><stop offset="0.944" stop-color="#8c8c8c"/></linearGradient>
<rect x="258.50" y="255.4" width="6.93" height="95.79999999999998" fill="url(#Etc0)"/>
<linearGradient id="Etc1" x1="0" y1="0" x2="0" y2="1"><stop offset="0.056" stop-color="#8c8c8c"/><stop offset="0.167" stop-color="#8c8c8c"/><stop offset="0.278" stop-color="#8c8c8c"/><stop offset="0.389" stop-color="#8a8a8a"/><stop offset="0.500" stop-color="#868686"/><stop offset="0.611" stop-color="#939393"/><stop offset="0.722" stop-color="#8f8f8f"/><stop offset="0.833" stop-color="#8a8a8a"/><stop offset="0.944" stop-color="#8c8c8c"/></linearGradient>
<rect x="265.13" y="255.4" width="6.93" height="95.79999999999998" fill="url(#Etc1)"/>
<linearGradient id="Etc2" x1="0" y1="0" x2="0" y2="1"><stop offset="0.056" stop-color="#8a8a8a"/><stop offset="0.167" stop-color="#8a8a8a"/><stop offset="0.278" stop-color="#8a8a8a"/><stop offset="0.389" stop-color="#878787"/><stop offset="0.500" stop-color="#868686"/><stop offset="0.611" stop-color="#8c8c8c"/><stop offset="0.722" stop-color="#8c8c8c"/><stop offset="0.833" stop-color="#868686"/><stop offset="0.944" stop-color="#8c8c8c"/></linearGradient>
<rect x="271.77" y="255.4" width="6.93" height="95.79999999999998" fill="url(#Etc2)"/>
<linearGradient id="Etc3" x1="0" y1="0" x2="0" y2="1"><stop offset="0.056" stop-color="#8a8a8a"/><stop offset="0.167" stop-color="#8a8a8a"/><stop offset="0.278" stop-color="#8a8a8a"/><stop offset="0.389" stop-color="#868686"/><stop offset="0.500" stop-color="#838383"/><stop offset="0.611" stop-color="#878787"/><stop offset="0.722" stop-color="#8a8a8a"/><stop offset="0.833" stop-color="#8a8a8a"/><stop offset="0.944" stop-color="#8c8c8c"/></linearGradient>
<rect x="278.40" y="255.4" width="6.93" height="95.79999999999998" fill="url(#Etc3)"/>
<linearGradient id="Etc4" x1="0" y1="0" x2="0" y2="1"><stop offset="0.056" stop-color="#8a8a8a"/><stop offset="0.167" stop-color="#8a8a8a"/><stop offset="0.278" stop-color="#8c8c8c"/><stop offset="0.389" stop-color="#8c8c8c"/><stop offset="0.500" stop-color="#868686"/><stop offset="0.611" stop-color="#868686"/><stop offset="0.722" stop-color="#868686"/><stop offset="0.833" stop-color="#8a8a8a"/><stop offset="0.944" stop-color="#8c8c8c"/></linearGradient>
<rect x="285.04" y="255.4" width="6.93" height="95.79999999999998" fill="url(#Etc4)"/>
<linearGradient id="Etc5" x1="0" y1="0" x2="0" y2="1"><stop offset="0.056" stop-color="#8a8a8a"/><stop offset="0.167" stop-color="#8a8a8a"/><stop offset="0.278" stop-color="#8a8a8a"/><stop offset="0.389" stop-color="#8a8a8a"/><stop offset="0.500" stop-color="#838383"/><stop offset="0.611" stop-color="#838383"/><stop offset="0.722" stop-color="#868686"/><stop offset="0.833" stop-color="#8c8c8c"/><stop offset="0.944" stop-color="#8f8f8f"/></linearGradient>
<rect x="291.67" y="255.4" width="6.93" height="95.79999999999998" fill="url(#Etc5)"/>
<linearGradient id="Etc6" x1="0" y1="0" x2="0" y2="1"><stop offset="0.056" stop-color="#8a8a8a"/><stop offset="0.167" stop-color="#8a8a8a"/><stop offset="0.278" stop-color="#8c8c8c"/><stop offset="0.389" stop-color="#8a8a8a"/><stop offset="0.500" stop-color="#838383"/><stop offset="0.611" stop-color="#838383"/><stop offset="0.722" stop-color="#868686"/><stop offset="0.833" stop-color="#8c8c8c"/><stop offset="0.944" stop-color="#8f8f8f"/></linearGradient>
<rect x="298.31" y="255.4" width="6.93" height="95.79999999999998" fill="url(#Etc6)"/>
<linearGradient id="Etc7" x1="0" y1="0" x2="0" y2="1"><stop offset="0.056" stop-color="#8f8f8f"/><stop offset="0.167" stop-color="#8f8f8f"/><stop offset="0.278" stop-color="#8c8c8c"/><stop offset="0.389" stop-color="#868686"/><stop offset="0.500" stop-color="#808080"/><stop offset="0.611" stop-color="#808080"/><stop offset="0.722" stop-color="#838383"/><stop offset="0.833" stop-color="#868686"/><stop offset="0.944" stop-color="#8a8a8a"/></linearGradient>
<rect x="304.94" y="255.4" width="6.93" height="95.79999999999998" fill="url(#Etc7)"/>
<linearGradient id="Etc8" x1="0" y1="0" x2="0" y2="1"><stop offset="0.056" stop-color="#939393"/><stop offset="0.167" stop-color="#939393"/><stop offset="0.278" stop-color="#8c8c8c"/><stop offset="0.389" stop-color="#868686"/><stop offset="0.500" stop-color="#808080"/><stop offset="0.611" stop-color="#808080"/><stop offset="0.722" stop-color="#828282"/><stop offset="0.833" stop-color="#868686"/><stop offset="0.944" stop-color="#868686"/></linearGradient>
<rect x="311.58" y="255.4" width="6.93" height="95.79999999999998" fill="url(#Etc8)"/>
<linearGradient id="Etc9" x1="0" y1="0" x2="0" y2="1"><stop offset="0.056" stop-color="#999999"/><stop offset="0.167" stop-color="#9f9f9f"/><stop offset="0.278" stop-color="#a6a6a6"/><stop offset="0.389" stop-color="#939393"/><stop offset="0.500" stop-color="#808080"/><stop offset="0.611" stop-color="#797979"/><stop offset="0.722" stop-color="#808080"/><stop offset="0.833" stop-color="#868686"/><stop offset="0.944" stop-color="#868686"/></linearGradient>
<rect x="318.21" y="255.4" width="6.93" height="95.79999999999998" fill="url(#Etc9)"/>
<linearGradient id="Etc10" x1="0" y1="0" x2="0" y2="1"><stop offset="0.056" stop-color="#9f9f9f"/><stop offset="0.167" stop-color="#acacac"/><stop offset="0.278" stop-color="#acacac"/><stop offset="0.389" stop-color="#999999"/><stop offset="0.500" stop-color="#868686"/><stop offset="0.611" stop-color="#6c6c6c"/><stop offset="0.722" stop-color="#6c6c6c"/><stop offset="0.833" stop-color="#6c6c6c"/><stop offset="0.944" stop-color="#6c6c6c"/></linearGradient>
<rect x="324.84" y="255.4" width="6.93" height="95.79999999999998" fill="url(#Etc10)"/>
<linearGradient id="Etc11" x1="0" y1="0" x2="0" y2="1"><stop offset="0.056" stop-color="#a6a6a6"/><stop offset="0.167" stop-color="#b9b9b9"/><stop offset="0.278" stop-color="#b9b9b9"/><stop offset="0.389" stop-color="#acacac"/><stop offset="0.500" stop-color="#8c8c8c"/><stop offset="0.611" stop-color="#666666"/><stop offset="0.722" stop-color="#666666"/><stop offset="0.833" stop-color="#606060"/><stop offset="0.944" stop-color="#606060"/></linearGradient>
<rect x="331.48" y="255.4" width="6.93" height="95.79999999999998" fill="url(#Etc11)"/>
<linearGradient id="Etc12" x1="0" y1="0" x2="0" y2="1"><stop offset="0.056" stop-color="#a6a6a6"/><stop offset="0.167" stop-color="#b9b9b9"/><stop offset="0.278" stop-color="#bfbfbf"/><stop offset="0.389" stop-color="#b9b9b9"/><stop offset="0.500" stop-color="#a6a6a6"/><stop offset="0.611" stop-color="#808080"/><stop offset="0.722" stop-color="#737373"/><stop offset="0.833" stop-color="#464646"/><stop offset="0.944" stop-color="#333333"/></linearGradient>
<rect x="338.11" y="255.4" width="6.93" height="95.79999999999998" fill="url(#Etc12)"/>
<linearGradient id="Etc13" x1="0" y1="0" x2="0" y2="1"><stop offset="0.056" stop-color="#a6a6a6"/><stop offset="0.167" stop-color="#b9b9b9"/><stop offset="0.278" stop-color="#bfbfbf"/><stop offset="0.389" stop-color="#cccccc"/><stop offset="0.500" stop-color="#c6c6c6"/><stop offset="0.611" stop-color="#acacac"/><stop offset="0.722" stop-color="#808080"/><stop offset="0.833" stop-color="#333333"/><stop offset="0.944" stop-color="#191919"/></linearGradient>
<rect x="344.75" y="255.4" width="6.93" height="95.79999999999998" fill="url(#Etc13)"/>
<linearGradient id="Etc14" x1="0" y1="0" x2="0" y2="1"><stop offset="0.056" stop-color="#acacac"/><stop offset="0.167" stop-color="#b9b9b9"/><stop offset="0.278" stop-color="#c6c6c6"/><stop offset="0.389" stop-color="#d9d9d9"/><stop offset="0.500" stop-color="#ececec"/><stop offset="0.611" stop-color="#e6e6e6"/><stop offset="0.722" stop-color="#cccccc"/><stop offset="0.833" stop-color="#4c4c4c"/><stop offset="0.944" stop-color="#393939"/></linearGradient>
<rect x="351.38" y="255.4" width="6.93" height="95.79999999999998" fill="url(#Etc14)"/>
<linearGradient id="Etc15" x1="0" y1="0" x2="0" y2="1"><stop offset="0.056" stop-color="#999999"/><stop offset="0.167" stop-color="#acacac"/><stop offset="0.278" stop-color="#bfbfbf"/><stop offset="0.389" stop-color="#d9d9d9"/><stop offset="0.500" stop-color="#f9f9f9"/><stop offset="0.611" stop-color="#f9f9f9"/><stop offset="0.722" stop-color="#d9d9d9"/><stop offset="0.833" stop-color="#8c8c8c"/><stop offset="0.944" stop-color="#666666"/></linearGradient>
<rect x="358.02" y="255.4" width="6.93" height="95.79999999999998" fill="url(#Etc15)"/>
<linearGradient id="Etc16" x1="0" y1="0" x2="0" y2="1"><stop offset="0.056" stop-color="#868686"/><stop offset="0.167" stop-color="#8c8c8c"/><stop offset="0.278" stop-color="#9f9f9f"/><stop offset="0.389" stop-color="#d2d2d2"/><stop offset="0.500" stop-color="#f2f2f2"/><stop offset="0.611" stop-color="#ececec"/><stop offset="0.722" stop-color="#cccccc"/><stop offset="0.833" stop-color="#a6a6a6"/><stop offset="0.944" stop-color="#8c8c8c"/></linearGradient>
<rect x="364.65" y="255.4" width="6.93" height="95.79999999999998" fill="url(#Etc16)"/>
<linearGradient id="Etc17" x1="0" y1="0" x2="0" y2="1"><stop offset="0.056" stop-color="#797979"/><stop offset="0.167" stop-color="#666666"/><stop offset="0.278" stop-color="#737373"/><stop offset="0.389" stop-color="#b9b9b9"/><stop offset="0.500" stop-color="#d9d9d9"/><stop offset="0.611" stop-color="#d2d2d2"/><stop offset="0.722" stop-color="#b2b2b2"/><stop offset="0.833" stop-color="#999999"/><stop offset="0.944" stop-color="#8c8c8c"/></linearGradient>
<rect x="371.29" y="255.4" width="6.93" height="95.79999999999998" fill="url(#Etc17)"/>
<linearGradient id="Etc18" x1="0" y1="0" x2="0" y2="1"><stop offset="0.056" stop-color="#737373"/><stop offset="0.167" stop-color="#595959"/><stop offset="0.278" stop-color="#606060"/><stop offset="0.389" stop-color="#a6a6a6"/><stop offset="0.500" stop-color="#c6c6c6"/><stop offset="0.611" stop-color="#bfbfbf"/><stop offset="0.722" stop-color="#acacac"/><stop offset="0.833" stop-color="#999999"/><stop offset="0.944" stop-color="#8c8c8c"/></linearGradient>
<rect x="377.92" y="255.4" width="6.93" height="95.79999999999998" fill="url(#Etc18)"/>
<linearGradient id="Etc19" x1="0" y1="0" x2="0" y2="1"><stop offset="0.056" stop-color="#737373"/><stop offset="0.167" stop-color="#595959"/><stop offset="0.278" stop-color="#666666"/><stop offset="0.389" stop-color="#9f9f9f"/><stop offset="0.500" stop-color="#bfbfbf"/><stop offset="0.611" stop-color="#b9b9b9"/><stop offset="0.722" stop-color="#a6a6a6"/><stop offset="0.833" stop-color="#999999"/><stop offset="0.944" stop-color="#8c8c8c"/></linearGradient>
<rect x="384.56" y="255.4" width="6.93" height="95.79999999999998" fill="url(#Etc19)"/>
<linearGradient id="Etc20" x1="0" y1="0" x2="0" y2="1"><stop offset="0.056" stop-color="#6c6c6c"/><stop offset="0.167" stop-color="#535353"/><stop offset="0.278" stop-color="#606060"/><stop offset="0.389" stop-color="#9f9f9f"/><stop offset="0.500" stop-color="#bfbfbf"/><stop offset="0.611" stop-color="#bfbfbf"/><stop offset="0.722" stop-color="#acacac"/><stop offset="0.833" stop-color="#9f9f9f"/><stop offset="0.944" stop-color="#939393"/></linearGradient>
<rect x="391.19" y="255.4" width="6.93" height="95.79999999999998" fill="url(#Etc20)"/>
<linearGradient id="Etc21" x1="0" y1="0" x2="0" y2="1"><stop offset="0.056" stop-color="#6c6c6c"/><stop offset="0.167" stop-color="#535353"/><stop offset="0.278" stop-color="#606060"/><stop offset="0.389" stop-color="#a6a6a6"/><stop offset="0.500" stop-color="#bfbfbf"/><stop offset="0.611" stop-color="#bfbfbf"/><stop offset="0.722" stop-color="#acacac"/><stop offset="0.833" stop-color="#9f9f9f"/><stop offset="0.944" stop-color="#939393"/></linearGradient>
<rect x="397.82" y="255.4" width="6.93" height="95.79999999999998" fill="url(#Etc21)"/>
<linearGradient id="Etc22" x1="0" y1="0" x2="0" y2="1"><stop offset="0.056" stop-color="#6c6c6c"/><stop offset="0.167" stop-color="#595959"/><stop offset="0.278" stop-color="#666666"/><stop offset="0.389" stop-color="#a6a6a6"/><stop offset="0.500" stop-color="#bfbfbf"/><stop offset="0.611" stop-color="#bfbfbf"/><stop offset="0.722" stop-color="#acacac"/><stop offset="0.833" stop-color="#999999"/><stop offset="0.944" stop-color="#939393"/></linearGradient>
<rect x="404.46" y="255.4" width="6.93" height="95.79999999999998" fill="url(#Etc22)"/>
<linearGradient id="Etc23" x1="0" y1="0" x2="0" y2="1"><stop offset="0.056" stop-color="#6c6c6c"/><stop offset="0.167" stop-color="#595959"/><stop offset="0.278" stop-color="#666666"/><stop offset="0.389" stop-color="#a6a6a6"/><stop offset="0.500" stop-color="#bfbfbf"/><stop offset="0.611" stop-color="#bfbfbf"/><stop offset="0.722" stop-color="#acacac"/><stop offset="0.833" stop-color="#999999"/><stop offset="0.944" stop-color="#939393"/></linearGradient>
<rect x="411.09" y="255.4" width="6.93" height="95.79999999999998" fill="url(#Etc23)"/>
<linearGradient id="Etc24" x1="0" y1="0" x2="0" y2="1"><stop offset="0.056" stop-color="#6c6c6c"/><stop offset="0.167" stop-color="#595959"/><stop offset="0.278" stop-color="#666666"/><stop offset="0.389" stop-color="#a6a6a6"/><stop offset="0.500" stop-color="#bfbfbf"/><stop offset="0.611" stop-color="#bfbfbf"/><stop offset="0.722" stop-color="#acacac"/><stop offset="0.833" stop-color="#999999"/><stop offset="0.944" stop-color="#939393"/></linearGradient>
<rect x="417.73" y="255.4" width="6.93" height="95.79999999999998" fill="url(#Etc24)"/>
<linearGradient id="Etc25" x1="0" y1="0" x2="0" y2="1"><stop offset="0.056" stop-color="#6c6c6c"/><stop offset="0.167" stop-color="#595959"/><stop offset="0.278" stop-color="#666666"/><stop offset="0.389" stop-color="#a6a6a6"/><stop offset="0.500" stop-color="#bfbfbf"/><stop offset="0.611" stop-color="#bfbfbf"/><stop offset="0.722" stop-color="#acacac"/><stop offset="0.833" stop-color="#999999"/><stop offset="0.944" stop-color="#939393"/></linearGradient>
<rect x="424.36" y="255.4" width="6.93" height="95.79999999999998" fill="url(#Etc25)"/>
<linearGradient id="Etc26" x1="0" y1="0" x2="0" y2="1"><stop offset="0.056" stop-color="#6c6c6c"/><stop offset="0.167" stop-color="#595959"/><stop offset="0.278" stop-color="#666666"/><stop offset="0.389" stop-color="#a6a6a6"/><stop offset="0.500" stop-color="#bfbfbf"/><stop offset="0.611" stop-color="#bfbfbf"/><stop offset="0.722" stop-color="#acacac"/><stop offset="0.833" stop-color="#999999"/><stop offset="0.944" stop-color="#939393"/></linearGradient>
<rect x="431.00" y="255.4" width="6.93" height="95.79999999999998" fill="url(#Etc26)"/>
<linearGradient id="Etc27" x1="0" y1="0" x2="0" y2="1"><stop offset="0.056" stop-color="#6c6c6c"/><stop offset="0.167" stop-color="#595959"/><stop offset="0.278" stop-color="#666666"/><stop offset="0.389" stop-color="#a6a6a6"/><stop offset="0.500" stop-color="#bfbfbf"/><stop offset="0.611" stop-color="#bfbfbf"/><stop offset="0.722" stop-color="#acacac"/><stop offset="0.833" stop-color="#999999"/><stop offset="0.944" stop-color="#939393"/></linearGradient>
<rect x="437.63" y="255.4" width="6.93" height="95.79999999999998" fill="url(#Etc27)"/>
<linearGradient id="Etc28" x1="0" y1="0" x2="0" y2="1"><stop offset="0.056" stop-color="#6c6c6c"/><stop offset="0.167" stop-color="#595959"/><stop offset="0.278" stop-color="#666666"/><stop offset="0.389" stop-color="#a6a6a6"/><stop offset="0.500" stop-color="#bfbfbf"/><stop offset="0.611" stop-color="#bfbfbf"/><stop offset="0.722" stop-color="#acacac"/><stop offset="0.833" stop-color="#999999"/><stop offset="0.944" stop-color="#939393"/></linearGradient>
<rect x="444.27" y="255.4" width="6.93" height="95.79999999999998" fill="url(#Etc28)"/>
</g>
<g filter="url(#cm0)">
<linearGradient id="Ebc0" x1="0" y1="0" x2="0" y2="1"><stop offset="0.056" stop-color="#868686"/><stop offset="0.167" stop-color="#808080"/><stop offset="0.278" stop-color="#707070"/><stop offset="0.389" stop-color="#707070"/><stop offset="0.500" stop-color="#797979"/><stop offset="0.611" stop-color="#797979"/><stop offset="0.722" stop-color="#7c7c7c"/><stop offset="0.833" stop-color="#808080"/><stop offset="0.944" stop-color="#808080"/></linearGradient>
<rect x="258.50" y="351.2" width="6.93" height="96.30000000000001" fill="url(#Ebc0)"/>
<linearGradient id="Ebc1" x1="0" y1="0" x2="0" y2="1"><stop offset="0.056" stop-color="#8c8c8c"/><stop offset="0.167" stop-color="#868686"/><stop offset="0.278" stop-color="#707070"/><stop offset="0.389" stop-color="#707070"/><stop offset="0.500" stop-color="#7c7c7c"/><stop offset="0.611" stop-color="#7c7c7c"/><stop offset="0.722" stop-color="#808080"/><stop offset="0.833" stop-color="#808080"/><stop offset="0.944" stop-color="#828282"/></linearGradient>
<rect x="265.13" y="351.2" width="6.93" height="96.30000000000001" fill="url(#Ebc1)"/>
<linearGradient id="Ebc2" x1="0" y1="0" x2="0" y2="1"><stop offset="0.056" stop-color="#8c8c8c"/><stop offset="0.167" stop-color="#868686"/><stop offset="0.278" stop-color="#707070"/><stop offset="0.389" stop-color="#707070"/><stop offset="0.500" stop-color="#808080"/><stop offset="0.611" stop-color="#808080"/><stop offset="0.722" stop-color="#808080"/><stop offset="0.833" stop-color="#828282"/><stop offset="0.944" stop-color="#838383"/></linearGradient>
<rect x="271.77" y="351.2" width="6.93" height="96.30000000000001" fill="url(#Ebc2)"/>
<linearGradient id="Ebc3" x1="0" y1="0" x2="0" y2="1"><stop offset="0.056" stop-color="#8a8a8a"/><stop offset="0.167" stop-color="#868686"/><stop offset="0.278" stop-color="#707070"/><stop offset="0.389" stop-color="#707070"/><stop offset="0.500" stop-color="#808080"/><stop offset="0.611" stop-color="#838383"/><stop offset="0.722" stop-color="#838383"/><stop offset="0.833" stop-color="#838383"/><stop offset="0.944" stop-color="#838383"/></linearGradient>
<rect x="278.40" y="351.2" width="6.93" height="96.30000000000001" fill="url(#Ebc3)"/>
<linearGradient id="Ebc4" x1="0" y1="0" x2="0" y2="1"><stop offset="0.056" stop-color="#8a8a8a"/><stop offset="0.167" stop-color="#868686"/><stop offset="0.278" stop-color="#707070"/><stop offset="0.389" stop-color="#707070"/><stop offset="0.500" stop-color="#808080"/><stop offset="0.611" stop-color="#868686"/><stop offset="0.722" stop-color="#868686"/><stop offset="0.833" stop-color="#868686"/><stop offset="0.944" stop-color="#828282"/></linearGradient>
<rect x="285.04" y="351.2" width="6.93" height="96.30000000000001" fill="url(#Ebc4)"/>
<linearGradient id="Ebc5" x1="0" y1="0" x2="0" y2="1"><stop offset="0.056" stop-color="#8a8a8a"/><stop offset="0.167" stop-color="#868686"/><stop offset="0.278" stop-color="#707070"/><stop offset="0.389" stop-color="#707070"/><stop offset="0.500" stop-color="#828282"/><stop offset="0.611" stop-color="#8a8a8a"/><stop offset="0.722" stop-color="#868686"/><stop offset="0.833" stop-color="#828282"/><stop offset="0.944" stop-color="#808080"/></linearGradient>
<rect x="291.67" y="351.2" width="6.93" height="96.30000000000001" fill="url(#Ebc5)"/>
<linearGradient id="Ebc6" x1="0" y1="0" x2="0" y2="1"><stop offset="0.056" stop-color="#8a8a8a"/><stop offset="0.167" stop-color="#868686"/><stop offset="0.278" stop-color="#6c6c6c"/><stop offset="0.389" stop-color="#6c6c6c"/><stop offset="0.500" stop-color="#808080"/><stop offset="0.611" stop-color="#8c8c8c"/><stop offset="0.722" stop-color="#8c8c8c"/><stop offset="0.833" stop-color="#808080"/><stop offset="0.944" stop-color="#797979"/></linearGradient>
<rect x="298.31" y="351.2" width="6.93" height="96.30000000000001" fill="url(#Ebc6)"/>
<linearGradient id="Ebc7" x1="0" y1="0" x2="0" y2="1"><stop offset="0.056" stop-color="#868686"/><stop offset="0.167" stop-color="#808080"/><stop offset="0.278" stop-color="#666666"/><stop offset="0.389" stop-color="#666666"/><stop offset="0.500" stop-color="#808080"/><stop offset="0.611" stop-color="#868686"/><stop offset="0.722" stop-color="#868686"/><stop offset="0.833" stop-color="#808080"/><stop offset="0.944" stop-color="#797979"/></linearGradient>
<rect x="304.94" y="351.2" width="6.93" height="96.30000000000001" fill="url(#Ebc7)"/>
<linearGradient id="Ebc8" x1="0" y1="0" x2="0" y2="1"><stop offset="0.056" stop-color="#868686"/><stop offset="0.167" stop-color="#797979"/><stop offset="0.278" stop-color="#606060"/><stop offset="0.389" stop-color="#666666"/><stop offset="0.500" stop-color="#808080"/><stop offset="0.611" stop-color="#868686"/><stop offset="0.722" stop-color="#868686"/><stop offset="0.833" stop-color="#808080"/><stop offset="0.944" stop-color="#808080"/></linearGradient>
<rect x="311.58" y="351.2" width="6.93" height="96.30000000000001" fill="url(#Ebc8)"/>
<linearGradient id="Ebc9" x1="0" y1="0" x2="0" y2="1"><stop offset="0.056" stop-color="#868686"/><stop offset="0.167" stop-color="#737373"/><stop offset="0.278" stop-color="#535353"/><stop offset="0.389" stop-color="#595959"/><stop offset="0.500" stop-color="#828282"/><stop offset="0.611" stop-color="#939393"/><stop offset="0.722" stop-color="#939393"/><stop offset="0.833" stop-color="#868686"/><stop offset="0.944" stop-color="#808080"/></linearGradient>
<rect x="318.21" y="351.2" width="6.93" height="96.30000000000001" fill="url(#Ebc9)"/>
<linearGradient id="Ebc10" x1="0" y1="0" x2="0" y2="1"><stop offset="0.056" stop-color="#868686"/><stop offset="0.167" stop-color="#595959"/><stop offset="0.278" stop-color="#535353"/><stop offset="0.389" stop-color="#535353"/><stop offset="0.500" stop-color="#666666"/><stop offset="0.611" stop-color="#8c8c8c"/><stop offset="0.722" stop-color="#939393"/><stop offset="0.833" stop-color="#939393"/><stop offset="0.944" stop-color="#8c8c8c"/></linearGradient>
<rect x="324.84" y="351.2" width="6.93" height="96.30000000000001" fill="url(#Ebc10)"/>
<linearGradient id="Ebc11" x1="0" y1="0" x2="0" y2="1"><stop offset="0.056" stop-color="#8c8c8c"/><stop offset="0.167" stop-color="#535353"/><stop offset="0.278" stop-color="#4c4c4c"/><stop offset="0.389" stop-color="#4c4c4c"/><stop offset="0.500" stop-color="#535353"/><stop offset="0.611" stop-color="#797979"/><stop offset="0.722" stop-color="#939393"/><stop offset="0.833" stop-color="#999999"/><stop offset="0.944" stop-color="#999999"/></linearGradient>
<rect x="331.48" y="351.2" width="6.93" height="96.30000000000001" fill="url(#Ebc11)"/>
<linearGradient id="Ebc12" x1="0" y1="0" x2="0" y2="1"><stop offset="0.056" stop-color="#999999"/><stop offset="0.167" stop-color="#595959"/><stop offset="0.278" stop-color="#464646"/><stop offset="0.389" stop-color="#404040"/><stop offset="0.500" stop-color="#393939"/><stop offset="0.611" stop-color="#464646"/><stop offset="0.722" stop-color="#6c6c6c"/><stop offset="0.833" stop-color="#a6a6a6"/><stop offset="0.944" stop-color="#acacac"/></linearGradient>
<rect x="338.11" y="351.2" width="6.93" height="96.30000000000001" fill="url(#Ebc12)"/>
<linearGradient id="Ebc13" x1="0" y1="0" x2="0" y2="1"><stop offset="0.056" stop-color="#999999"/><stop offset="0.167" stop-color="#535353"/><stop offset="0.278" stop-color="#393939"/><stop offset="0.389" stop-color="#2d2d2d"/><stop offset="0.500" stop-color="#131313"/><stop offset="0.611" stop-color="#262626"/><stop offset="0.722" stop-color="#535353"/><stop offset="0.833" stop-color="#999999"/><stop offset="0.944" stop-color="#b2b2b2"/></linearGradient>
<rect x="344.75" y="351.2" width="6.93" height="96.30000000000001" fill="url(#Ebc13)"/>
<linearGradient id="Ebc14" x1="0" y1="0" x2="0" y2="1"><stop offset="0.056" stop-color="#8c8c8c"/><stop offset="0.167" stop-color="#4c4c4c"/><stop offset="0.278" stop-color="#333333"/><stop offset="0.389" stop-color="#191919"/><stop offset="0.500" stop-color="#060606"/><stop offset="0.611" stop-color="#000000"/><stop offset="0.722" stop-color="#262626"/><stop offset="0.833" stop-color="#737373"/><stop offset="0.944" stop-color="#939393"/></linearGradient>
<rect x="351.38" y="351.2" width="6.93" height="96.30000000000001" fill="url(#Ebc14)"/>
<linearGradient id="Ebc15" x1="0" y1="0" x2="0" y2="1"><stop offset="0.056" stop-color="#808080"/><stop offset="0.167" stop-color="#535353"/><stop offset="0.278" stop-color="#393939"/><stop offset="0.389" stop-color="#262626"/><stop offset="0.500" stop-color="#191919"/><stop offset="0.611" stop-color="#191919"/><stop offset="0.722" stop-color="#333333"/><stop offset="0.833" stop-color="#535353"/><stop offset="0.944" stop-color="#666666"/></linearGradient>
<rect x="358.02" y="351.2" width="6.93" height="96.30000000000001" fill="url(#Ebc15)"/>
<linearGradient id="Ebc16" x1="0" y1="0" x2="0" y2="1"><stop offset="0.056" stop-color="#868686"/><stop offset="0.167" stop-color="#737373"/><stop offset="0.278" stop-color="#595959"/><stop offset="0.389" stop-color="#393939"/><stop offset="0.500" stop-color="#2d2d2d"/><stop offset="0.611" stop-color="#333333"/><stop offset="0.722" stop-color="#464646"/><stop offset="0.833" stop-color="#595959"/><stop offset="0.944" stop-color="#666666"/></linearGradient>
<rect x="364.65" y="351.2" width="6.93" height="96.30000000000001" fill="url(#Ebc16)"/>
<linearGradient id="Ebc17" x1="0" y1="0" x2="0" y2="1"><stop offset="0.056" stop-color="#999999"/><stop offset="0.167" stop-color="#8c8c8c"/><stop offset="0.278" stop-color="#797979"/><stop offset="0.389" stop-color="#4c4c4c"/><stop offset="0.500" stop-color="#404040"/><stop offset="0.611" stop-color="#464646"/><stop offset="0.722" stop-color="#535353"/><stop offset="0.833" stop-color="#606060"/><stop offset="0.944" stop-color="#666666"/></linearGradient>
<rect x="371.29" y="351.2" width="6.93" height="96.30000000000001" fill="url(#Ebc17)"/>
<linearGradient id="Ebc18" x1="0" y1="0" x2="0" y2="1"><stop offset="0.056" stop-color="#acacac"/><stop offset="0.167" stop-color="#b2b2b2"/><stop offset="0.278" stop-color="#8c8c8c"/><stop offset="0.389" stop-color="#595959"/><stop offset="0.500" stop-color="#464646"/><stop offset="0.611" stop-color="#4c4c4c"/><stop offset="0.722" stop-color="#595959"/><stop offset="0.833" stop-color="#606060"/><stop offset="0.944" stop-color="#666666"/></linearGradient>
<rect x="377.92" y="351.2" width="6.93" height="96.30000000000001" fill="url(#Ebc18)"/>
<linearGradient id="Ebc19" x1="0" y1="0" x2="0" y2="1"><stop offset="0.056" stop-color="#a6a6a6"/><stop offset="0.167" stop-color="#a6a6a6"/><stop offset="0.278" stop-color="#868686"/><stop offset="0.389" stop-color="#595959"/><stop offset="0.500" stop-color="#4c4c4c"/><stop offset="0.611" stop-color="#4c4c4c"/><stop offset="0.722" stop-color="#595959"/><stop offset="0.833" stop-color="#666666"/><stop offset="0.944" stop-color="#666666"/></linearGradient>
<rect x="384.56" y="351.2" width="6.93" height="96.30000000000001" fill="url(#Ebc19)"/>
<linearGradient id="Ebc20" x1="0" y1="0" x2="0" y2="1"><stop offset="0.056" stop-color="#acacac"/><stop offset="0.167" stop-color="#b2b2b2"/><stop offset="0.278" stop-color="#868686"/><stop offset="0.389" stop-color="#595959"/><stop offset="0.500" stop-color="#535353"/><stop offset="0.611" stop-color="#535353"/><stop offset="0.722" stop-color="#595959"/><stop offset="0.833" stop-color="#666666"/><stop offset="0.944" stop-color="#666666"/></linearGradient>
<rect x="391.19" y="351.2" width="6.93" height="96.30000000000001" fill="url(#Ebc20)"/>
<linearGradient id="Ebc21" x1="0" y1="0" x2="0" y2="1"><stop offset="0.056" stop-color="#a6a6a6"/><stop offset="0.167" stop-color="#acacac"/><stop offset="0.278" stop-color="#868686"/><stop offset="0.389" stop-color="#535353"/><stop offset="0.500" stop-color="#535353"/><stop offset="0.611" stop-color="#535353"/><stop offset="0.722" stop-color="#595959"/><stop offset="0.833" stop-color="#666666"/><stop offset="0.944" stop-color="#666666"/></linearGradient>
<rect x="397.82" y="351.2" width="6.93" height="96.30000000000001" fill="url(#Ebc21)"/>
<linearGradient id="Ebc22" x1="0" y1="0" x2="0" y2="1"><stop offset="0.056" stop-color="#999999"/><stop offset="0.167" stop-color="#9f9f9f"/><stop offset="0.278" stop-color="#808080"/><stop offset="0.389" stop-color="#595959"/><stop offset="0.500" stop-color="#595959"/><stop offset="0.611" stop-color="#595959"/><stop offset="0.722" stop-color="#606060"/><stop offset="0.833" stop-color="#666666"/><stop offset="0.944" stop-color="#666666"/></linearGradient>
<rect x="404.46" y="351.2" width="6.93" height="96.30000000000001" fill="url(#Ebc22)"/>
<linearGradient id="Ebc23" x1="0" y1="0" x2="0" y2="1"><stop offset="0.056" stop-color="#999999"/><stop offset="0.167" stop-color="#9f9f9f"/><stop offset="0.278" stop-color="#808080"/><stop offset="0.389" stop-color="#595959"/><stop offset="0.500" stop-color="#595959"/><stop offset="0.611" stop-color="#595959"/><stop offset="0.722" stop-color="#606060"/><stop offset="0.833" stop-color="#666666"/><stop offset="0.944" stop-color="#666666"/></linearGradient>
<rect x="411.09" y="351.2" width="6.93" height="96.30000000000001" fill="url(#Ebc23)"/>
<linearGradient id="Ebc24" x1="0" y1="0" x2="0" y2="1"><stop offset="0.056" stop-color="#999999"/><stop offset="0.167" stop-color="#9f9f9f"/><stop offset="0.278" stop-color="#808080"/><stop offset="0.389" stop-color="#595959"/><stop offset="0.500" stop-color="#595959"/><stop offset="0.611" stop-color="#595959"/><stop offset="0.722" stop-color="#606060"/><stop offset="0.833" stop-color="#666666"/><stop offset="0.944" stop-color="#666666"/></linearGradient>
<rect x="417.73" y="351.2" width="6.93" height="96.30000000000001" fill="url(#Ebc24)"/>
<linearGradient id="Ebc25" x1="0" y1="0" x2="0" y2="1"><stop offset="0.056" stop-color="#999999"/><stop offset="0.167" stop-color="#9f9f9f"/><stop offset="0.278" stop-color="#808080"/><stop offset="0.389" stop-color="#595959"/><stop offset="0.500" stop-color="#595959"/><stop offset="0.611" stop-color="#595959"/><stop offset="0.722" stop-color="#606060"/><stop offset="0.833" stop-color="#666666"/><stop offset="0.944" stop-color="#666666"/></linearGradient>
<rect x="424.36" y="351.2" width="6.93" height="96.30000000000001" fill="url(#Ebc25)"/>
<linearGradient id="Ebc26" x1="0" y1="0" x2="0" y2="1"><stop offset="0.056" stop-color="#999999"/><stop offset="0.167" stop-color="#9f9f9f"/><stop offset="0.278" stop-color="#808080"/><stop offset="0.389" stop-color="#595959"/><stop offset="0.500" stop-color="#595959"/><stop offset="0.611" stop-color="#595959"/><stop offset="0.722" stop-color="#606060"/><stop offset="0.833" stop-color="#666666"/><stop offset="0.944" stop-color="#666666"/></linearGradient>
<rect x="431.00" y="351.2" width="6.93" height="96.30000000000001" fill="url(#Ebc26)"/>
<linearGradient id="Ebc27" x1="0" y1="0" x2="0" y2="1"><stop offset="0.056" stop-color="#999999"/><stop offset="0.167" stop-color="#9f9f9f"/><stop offset="0.278" stop-color="#808080"/><stop offset="0.389" stop-color="#595959"/><stop offset="0.500" stop-color="#595959"/><stop offset="0.611" stop-color="#595959"/><stop offset="0.722" stop-color="#606060"/><stop offset="0.833" stop-color="#666666"/><stop offset="0.944" stop-color="#666666"/></linearGradient>
<rect x="437.63" y="351.2" width="6.93" height="96.30000000000001" fill="url(#Ebc27)"/>
<linearGradient id="Ebc28" x1="0" y1="0" x2="0" y2="1"><stop offset="0.056" stop-color="#999999"/><stop offset="0.167" stop-color="#9f9f9f"/><stop offset="0.278" stop-color="#808080"/><stop offset="0.389" stop-color="#595959"/><stop offset="0.500" stop-color="#595959"/><stop offset="0.611" stop-color="#595959"/><stop offset="0.722" stop-color="#606060"/><stop offset="0.833" stop-color="#666666"/><stop offset="0.944" stop-color="#666666"/></linearGradient>
<rect x="444.27" y="351.2" width="6.93" height="96.30000000000001" fill="url(#Ebc28)"/>
</g>
<path d="M258.5,303.2 H450.9" stroke="#222" stroke-width="1.3" stroke-dasharray="11.8 12" stroke-dashoffset="5.6"/>
<path d="M258.5,399.3 H450.9" stroke="#222" stroke-width="1.3" stroke-dasharray="11.8 12" stroke-dashoffset="5.6"/>
<rect x="258.5" y="255.4" width="47" height="20.3" fill="#fff" fill-opacity="0.82"/>
<text x="267.1" y="269.7" font-size="12.5"><tspan font-weight="bold">b</tspan> site</text>
<rect x="410.4" y="255.4" width="40.5" height="20.8" fill="#fff" fill-opacity="0.82"/>
<text x="416.3" y="270.6" font-size="13" >(1,0)</text>
<rect x="410.4" y="351.2" width="40.5" height="20.3" fill="#fff" fill-opacity="0.82"/>
<text x="416.3" y="366.4" font-size="13" >(0,1)</text>
<rect x="258.5" y="255.4" width="192.39999999999998" height="192.1" fill="none" stroke="#111" stroke-width="1.3"/>
<path d="M258.5,351.2 H450.9" stroke="#111" stroke-width="1.5"/>
<path d="M277.0,255.4 v2 M277.0,349.2 v4 M277.0,447.5 v-2" stroke="#111" stroke-width="1"/>
<path d="M315.8,255.4 v2 M315.8,349.2 v4 M315.8,447.5 v-2" stroke="#111" stroke-width="1"/>
<path d="M354.6,255.4 v2 M354.6,349.2 v4 M354.6,447.5 v-2" stroke="#111" stroke-width="1"/>
<path d="M393.40000000000003,255.4 v2 M393.40000000000003,349.2 v4 M393.40000000000003,447.5 v-2" stroke="#111" stroke-width="1"/>
<path d="M432.20000000000005,255.4 v2 M432.20000000000005,349.2 v4 M432.20000000000005,447.5 v-2" stroke="#111" stroke-width="1"/>
<text x="256.7" y="265.2" font-size="12.5" text-anchor="end" >0</text>
<text x="256.7" y="307.9" font-size="12.5" text-anchor="end" >2</text>
<text x="256.7" y="349.4" font-size="12.5" text-anchor="end" >4</text>
<text x="256.7" y="361.1" font-size="12.5" text-anchor="end" >0</text>
<text x="256.7" y="403.2" font-size="12.5" text-anchor="end" >2</text>
<text x="256.7" y="446.8" font-size="12.5" text-anchor="end" >4</text>
<text x="277.0" y="460.9" font-size="12.5" text-anchor="middle" >-1</text>
<text x="315.8" y="460.9" font-size="12.5" text-anchor="middle" >-0.5</text>
<text x="354.6" y="460.9" font-size="12.5" text-anchor="middle" >0</text>
<text x="393.40000000000003" y="460.9" font-size="12.5" text-anchor="middle" >0.5</text>
<text x="432.20000000000005" y="460.9" font-size="12.5" text-anchor="middle" >1</text>
<text x="354.8" y="475.3" font-size="13" text-anchor="middle" >E(meV)</text>
<text transform="translate(242.7,351.15) rotate(-90)" font-size="10.3" text-anchor="middle">Away from the center (a<tspan font-size="6.5" dy="2">0</tspan><tspan dy="-2">)</tspan></text>
<text x="501.1" y="19.6" font-size="12.9"><tspan font-weight="bold">a</tspan> site</text>
<polyline points="491.8,120.5 510.9,118.9 525.3,116.5 545,117 553.5,115.1 560.2,116.1 567.7,126.4 573.7,148.3 581,176.6 588.3,189.4 594.7,183.9 602,173 608.4,161.1 615.7,152 623,149.2 633,149.2 643.9,151.6 649.4,152.3 656.7,154.2 670.4,154.2 676.8,152.5 684,152.3" fill="none" stroke="#ff9a2e" stroke-width="1.2" stroke-linejoin="round"/>
<polyline points="491.8,112.5 506,115.7 518,117.5 528.5,118.4 538.2,116.5 545,116.3 553.5,115.1 560.8,110.6 565.6,100 567.4,94.2 569.8,87 572.9,70 576.5,50 580.9,30 588.2,20.4 595.5,35.5 602.7,52.7 606.2,60 609.3,64.3 615.5,72.4 629.2,81.1 636,82.3 643.4,81.7 649.6,82.3 657,81.5 669.5,81.1 676.9,82.3 684,82.6" fill="none" stroke="#b43cf8" stroke-width="1.2" stroke-linejoin="round"/>
<path d="M491.8,4.5 V196.8 H684.3" fill="none" stroke="#6e6e6e" stroke-width="1.6"/>
<path d="M491.8,4.5 H684.3 V196.8" fill="none" stroke="#555" stroke-width="1.2"/>
<path d="M507.9,196.8 v-2.5 M507.9,4.5 v2.5" stroke="#444" stroke-width="1"/>
<path d="M548.0999999999999,196.8 v-2.5 M548.0999999999999,4.5 v2.5" stroke="#444" stroke-width="1"/>
<path d="M588.3,196.8 v-2.5 M588.3,4.5 v2.5" stroke="#444" stroke-width="1"/>
<path d="M628.5,196.8 v-2.5 M628.5,4.5 v2.5" stroke="#444" stroke-width="1"/>
<path d="M668.6999999999999,196.8 v-2.5 M668.6999999999999,4.5 v2.5" stroke="#444" stroke-width="1"/>
<path d="M491.8,59.099999999999994 h2.5 M684.3,59.099999999999994 h-2.5" stroke="#444" stroke-width="1"/>
<text x="489.2" y="63.49999999999999" font-size="12.5" text-anchor="end" >0.1</text>
<path d="M491.8,113.8 h2.5 M684.3,113.8 h-2.5" stroke="#444" stroke-width="1"/>
<text x="489.2" y="118.2" font-size="12.5" text-anchor="end" >0</text>
<path d="M491.8,168.5 h2.5 M684.3,168.5 h-2.5" stroke="#444" stroke-width="1"/>
<text x="489.2" y="172.9" font-size="12.5" text-anchor="end" >-0.1</text>
<text x="507.9" y="209.9" font-size="12.5" text-anchor="middle" >-1</text>
<text x="548.0999999999999" y="209.9" font-size="12.5" text-anchor="middle" >-0.5</text>
<text x="588.3" y="209.9" font-size="12.5" text-anchor="middle" >0</text>
<text x="628.5" y="209.9" font-size="12.5" text-anchor="middle" >0.5</text>
<text x="668.6999999999999" y="209.9" font-size="12.5" text-anchor="middle" >1</text>
<text x="588.6" y="224.0" font-size="13" text-anchor="middle" >E(meV)</text>
<text transform="translate(471,100.35000000000001) rotate(-90)" font-size="12.5" text-anchor="middle">A(r)</text>
<rect x="637.4" y="8.3" width="44.4" height="22.2" fill="#fff" stroke="#333" stroke-width="1"/>
<path d="M641.7,13.6 H659.6" stroke="#ff9a2e" stroke-width="1.3"/>
<path d="M641.7,25.3 H659.6" stroke="#b030f0" stroke-width="1.3"/>
<text x="660.5" y="16.9" font-size="9" >(1,0)</text>
<text x="660.5" y="28.6" font-size="9" >(0,1)</text>
<path d="M638.5,131 h2.4" stroke="#777" stroke-width="1"/>
<path d="M359.6,335.4 h3.6" stroke="#111" stroke-width="1.2"/>
<text x="500.8" y="270.40000000000003" font-size="12.9"><tspan font-weight="bold">b</tspan> site</text>
<polyline points="491.7,338.4 497.9,339.4 504.5,342.6 511.7,346 517.6,346 525.5,347.2 532,346.3 539.3,345.4 546.5,346.3 553.1,348.3 559.6,349.7 567.1,346.9 573.7,333.7 580.2,310.5 587.3,287.3 594.3,275.2 601.4,278.6 608.5,291.3 615.6,300.4 622.6,305.5 634.7,310.1 641.8,310.5 649.9,313.1 657,314.1 669.1,314.1 684,314.5" fill="none" stroke="#ff9a2e" stroke-width="1.2" stroke-linejoin="round"/>
<polyline points="491.7,359.4 497.9,357.5 505.8,354.8 511.7,353.5 518.9,352.6 525.5,351.5 532,352.6 539.3,354.8 545.8,356.4 553.1,355.2 559.6,360.1 564.2,367.3 567.8,374.4 574.4,396.7 581.1,423.3 587.8,440 594.4,432.2 601.1,413.3 607.8,394.4 614.4,386.7 622.2,382.7 631.1,381.6 642.2,380 650,377.8 657.8,376.7 664.4,376.2 674.4,374.4 684,372.2" fill="none" stroke="#b43cf8" stroke-width="1.2" stroke-linejoin="round"/>
<path d="M491.5,255.3 V447.0 H684.3" fill="none" stroke="#6e6e6e" stroke-width="1.6"/>
<path d="M491.5,255.3 H684.3 V447.0" fill="none" stroke="#555" stroke-width="1.2"/>
<path d="M507.9,447.0 v-2.5 M507.9,255.3 v2.5" stroke="#444" stroke-width="1"/>
<path d="M548.0999999999999,447.0 v-2.5 M548.0999999999999,255.3 v2.5" stroke="#444" stroke-width="1"/>
<path d="M588.3,447.0 v-2.5 M588.3,255.3 v2.5" stroke="#444" stroke-width="1"/>
<path d="M628.5,447.0 v-2.5 M628.5,255.3 v2.5" stroke="#444" stroke-width="1"/>
<path d="M668.6999999999999,447.0 v-2.5 M668.6999999999999,255.3 v2.5" stroke="#444" stroke-width="1"/>
<path d="M491.5,287.1 h2.5 M684.3,287.1 h-2.5" stroke="#444" stroke-width="1"/>
<text x="488.9" y="291.5" font-size="12.5" text-anchor="end" >0.1</text>
<path d="M491.5,351.0 h2.5 M684.3,351.0 h-2.5" stroke="#444" stroke-width="1"/>
<text x="488.9" y="355.4" font-size="12.5" text-anchor="end" >0</text>
<path d="M491.5,414.9 h2.5 M684.3,414.9 h-2.5" stroke="#444" stroke-width="1"/>
<text x="488.9" y="419.29999999999995" font-size="12.5" text-anchor="end" >-0.1</text>
<text x="507.9" y="460.1" font-size="12.5" text-anchor="middle" >-1</text>
<text x="548.0999999999999" y="460.1" font-size="12.5" text-anchor="middle" >-0.5</text>
<text x="588.3" y="460.1" font-size="12.5" text-anchor="middle" >0</text>
<text x="628.5" y="460.1" font-size="12.5" text-anchor="middle" >0.5</text>
<text x="668.6999999999999" y="460.1" font-size="12.5" text-anchor="middle" >1</text>
<text x="588.6" y="474.2" font-size="13" text-anchor="middle" >E(meV)</text>
<text transform="translate(471,350.84999999999997) rotate(-90)" font-size="12.5" text-anchor="middle">A(r)</text>
<rect x="637.4" y="259.1" width="44.4" height="22.2" fill="#fff" stroke="#333" stroke-width="1"/>
<path d="M641.7,264.40000000000003 H659.6" stroke="#ff9a2e" stroke-width="1.3"/>
<path d="M641.7,276.1 H659.6" stroke="#b030f0" stroke-width="1.3"/>
<text x="660.5" y="267.7" font-size="9" >(1,0)</text>
<text x="660.5" y="279.40000000000003" font-size="9" >(0,1)</text>
</svg></body></html>
